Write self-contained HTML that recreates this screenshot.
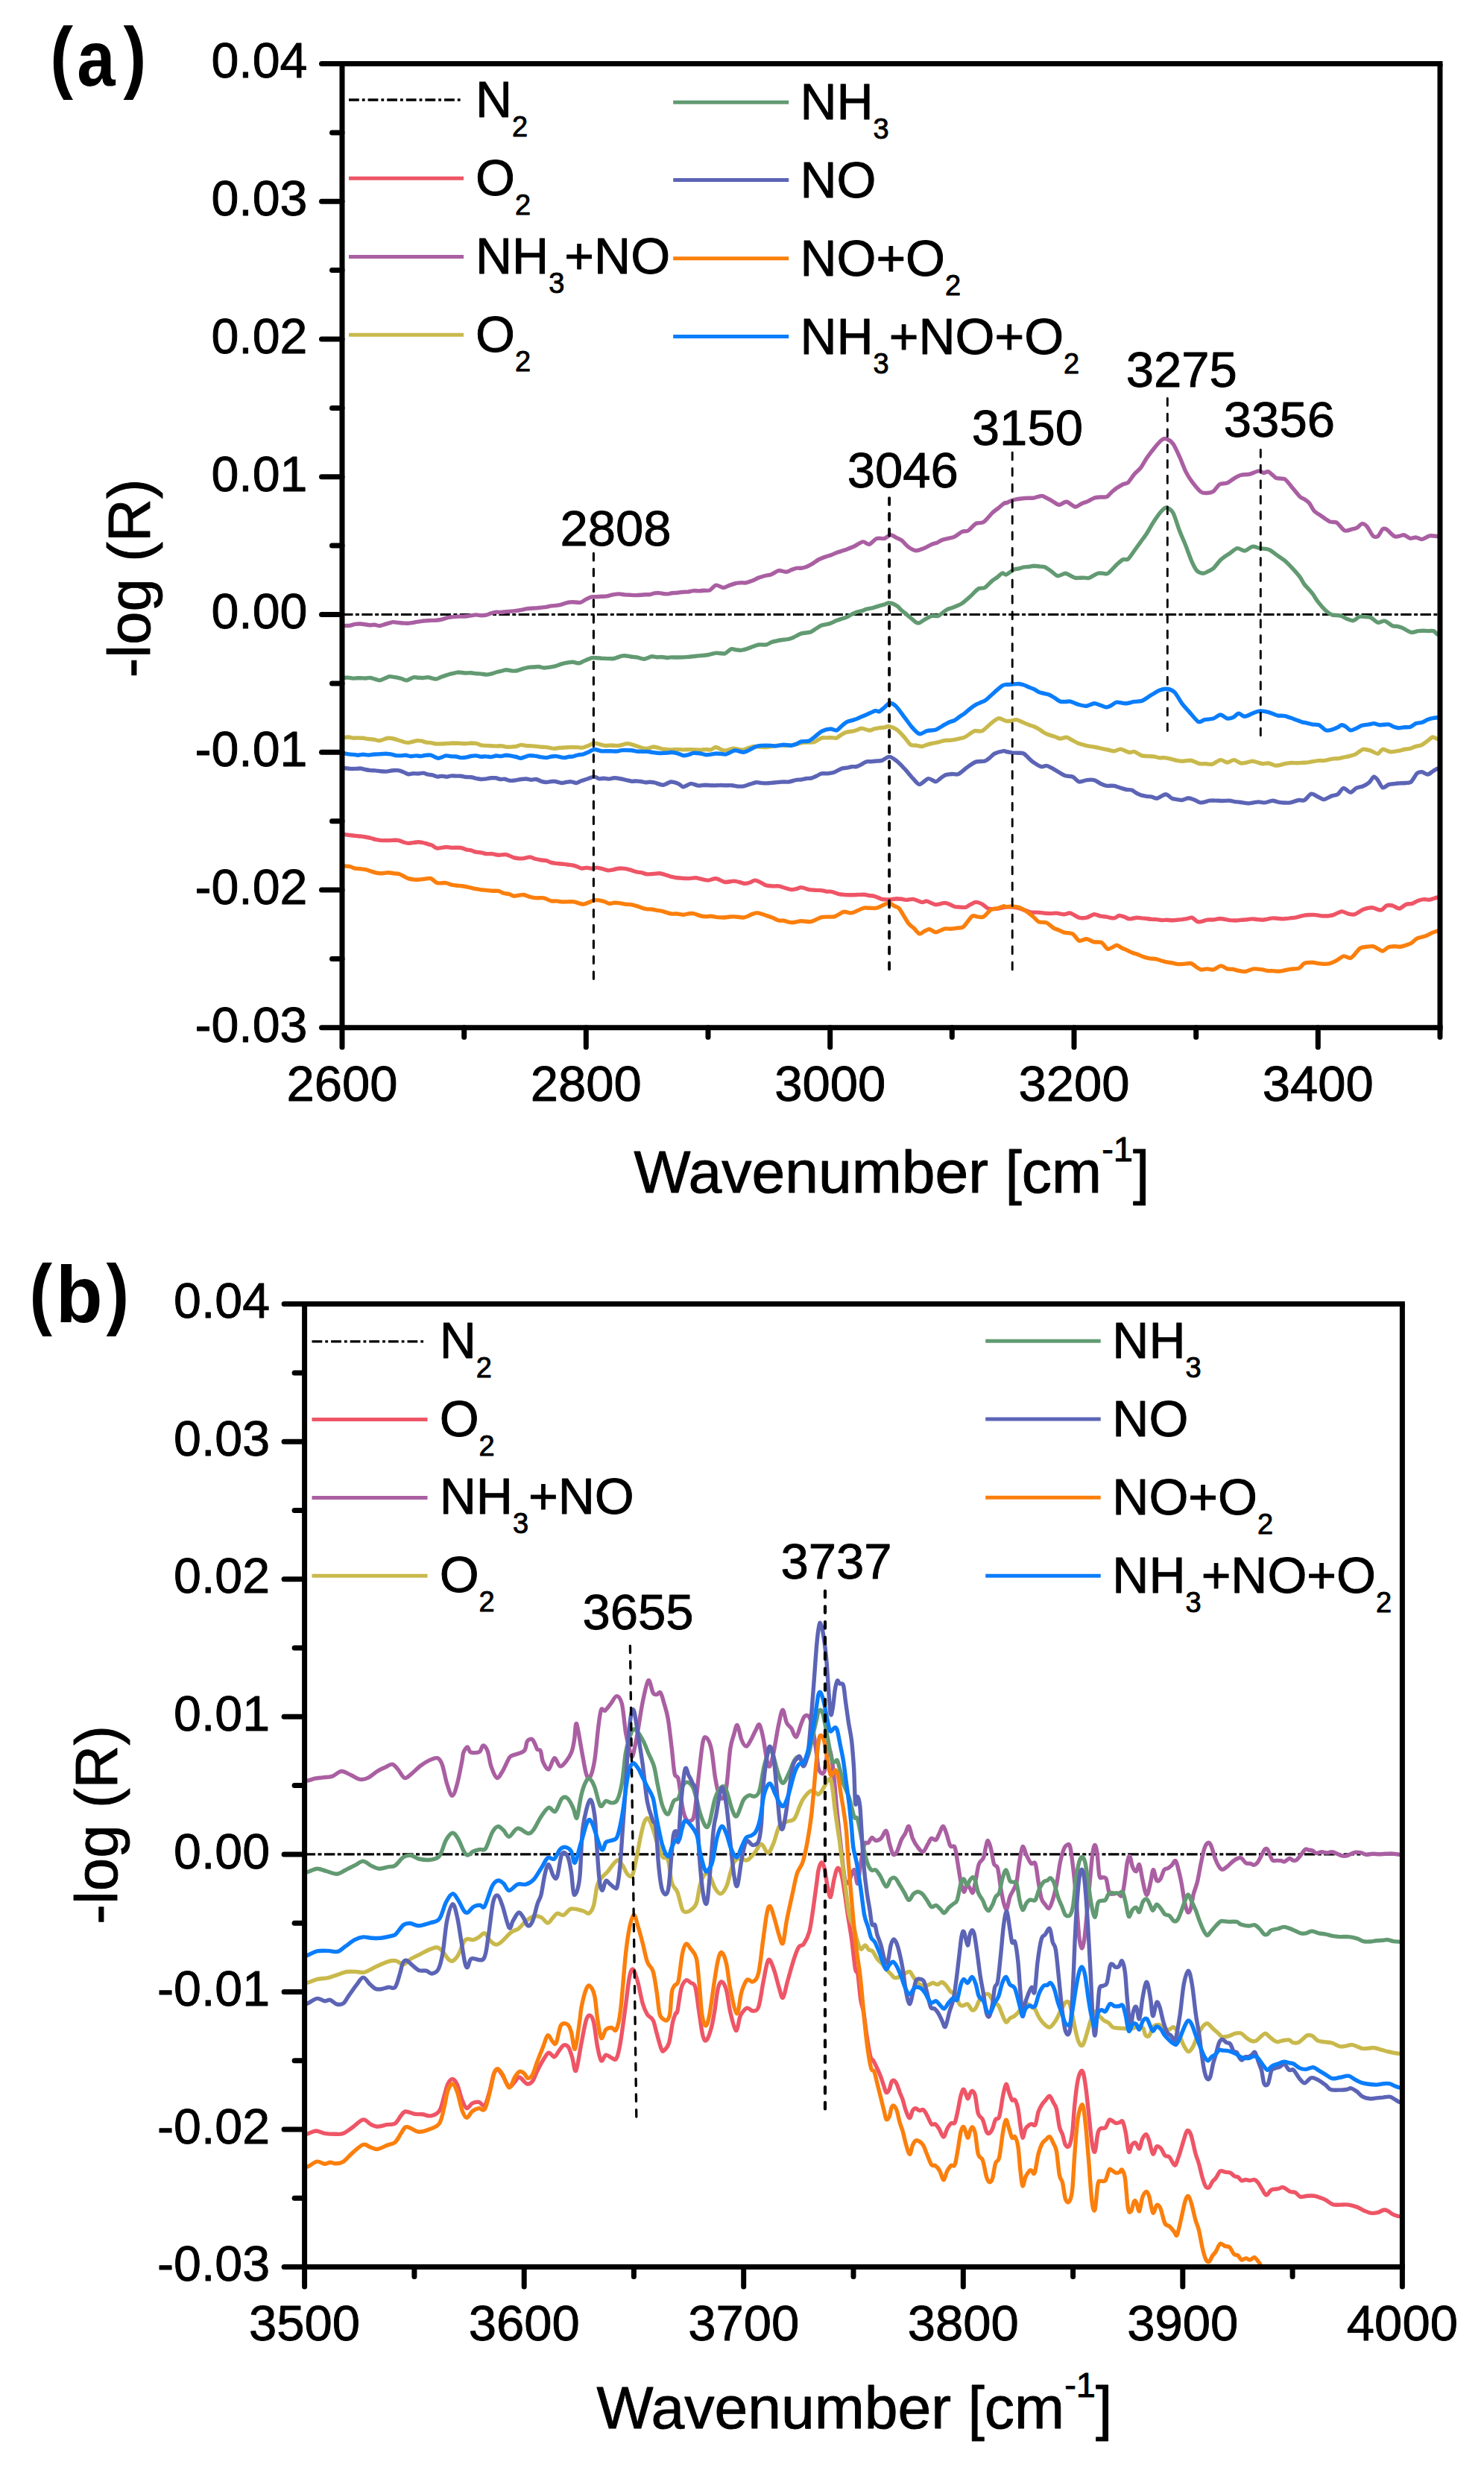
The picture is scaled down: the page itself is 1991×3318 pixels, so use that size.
<!DOCTYPE html>
<html lang="en"><head><meta charset="utf-8"><title>DRIFTS spectra</title>
<style>html,body{margin:0;padding:0;background:#fff}svg{display:block}</style>
</head><body>
<svg width="1991" height="3318" viewBox="0 0 1991 3318" font-family="'Liberation Sans', sans-serif" fill="#000">
<style>text{stroke:#000;stroke-width:0.9px;stroke-linejoin:round}</style>
<rect width="1991" height="3318" fill="#fff"/>
<clipPath id="clipa"><rect x="459" y="85.5" width="1473" height="1293.3"/></clipPath>
<g clip-path="url(#clipa)" fill="none" stroke-linejoin="round" stroke-linecap="round">
<line x1="459" y1="824.5" x2="1932" y2="824.5" stroke="#000" stroke-width="3.2" stroke-dasharray="14.5 3.4 5 3.4" stroke-linecap="butt"/>
<path d="M455.0,1117.9 C456.0,1118.2 460.3,1119.4 462.2,1119.7 C464.1,1120.1 467.4,1120.3 469.3,1120.5 C471.3,1120.7 474.6,1121.2 476.5,1121.4 C478.4,1121.6 481.8,1121.8 483.7,1122.0 C485.5,1122.2 488.6,1122.7 490.4,1123.0 C492.2,1123.3 495.4,1123.9 497.2,1124.4 C499.0,1124.8 502.1,1126.0 503.9,1126.4 C505.7,1126.8 508.7,1127.2 510.6,1127.4 C512.6,1127.5 516.4,1127.6 518.5,1127.6 C520.6,1127.6 524.3,1127.5 526.4,1127.4 C528.5,1127.4 532.3,1127.0 534.2,1127.4 C536.2,1127.7 539.2,1129.4 541.0,1129.9 C542.8,1130.4 545.9,1131.3 547.7,1131.4 C549.5,1131.5 552.7,1130.8 554.4,1130.6 C556.2,1130.4 559.5,1129.7 561.2,1129.7 C562.9,1129.7 565.7,1130.3 567.4,1130.7 C569.0,1131.0 571.9,1131.9 573.5,1132.3 C575.2,1132.8 578.0,1133.3 579.7,1134.1 C581.4,1134.9 584.0,1137.8 586.5,1138.1 C588.9,1138.5 595.8,1136.6 598.2,1136.5 C600.7,1136.3 603.2,1137.2 605.0,1137.3 C606.8,1137.4 609.9,1137.3 611.7,1137.3 C613.5,1137.3 616.7,1137.1 618.5,1137.5 C620.3,1137.8 623.4,1139.3 625.2,1139.8 C627.0,1140.3 630.1,1140.5 631.9,1140.9 C633.7,1141.4 636.9,1142.8 638.7,1143.2 C640.5,1143.6 643.6,1143.4 645.4,1143.8 C647.2,1144.1 650.1,1145.3 652.2,1145.6 C654.2,1145.8 658.3,1145.4 660.6,1145.6 C662.8,1145.9 666.5,1147.1 669.0,1147.2 C671.5,1147.4 676.4,1146.1 679.1,1146.6 C681.8,1147.0 687.0,1149.9 689.2,1150.6 C691.5,1151.3 694.2,1151.6 696.0,1151.8 C697.8,1151.9 700.7,1151.9 702.7,1151.6 C704.7,1151.4 709.0,1149.8 711.1,1149.9 C713.3,1150.1 716.7,1152.0 718.7,1152.5 C720.7,1153.0 724.4,1153.7 726.3,1154.0 C728.2,1154.3 731.2,1154.2 733.0,1154.7 C734.8,1155.1 738.0,1156.9 739.8,1157.4 C741.6,1157.9 744.7,1158.1 746.5,1158.4 C748.3,1158.6 751.4,1158.8 753.2,1159.0 C755.0,1159.2 758.2,1159.7 760.0,1159.9 C761.8,1160.1 764.9,1160.4 766.7,1160.7 C768.5,1161.0 771.7,1161.8 773.5,1162.4 C775.2,1163.0 778.4,1164.9 780.2,1165.1 C782.0,1165.3 785.1,1164.1 786.9,1164.1 C788.7,1164.2 791.9,1165.2 793.7,1165.2 C795.5,1165.2 798.5,1164.0 800.4,1164.1 C802.3,1164.1 806.0,1165.2 808.0,1165.6 C810.0,1166.1 813.7,1167.6 815.6,1167.8 C817.4,1168.0 820.1,1167.4 821.7,1167.1 C823.4,1166.8 826.3,1165.7 827.9,1165.5 C829.6,1165.2 832.4,1165.0 834.1,1165.1 C835.8,1165.2 839.0,1165.6 840.8,1165.9 C842.6,1166.3 845.8,1167.3 847.6,1167.8 C849.4,1168.3 852.5,1169.5 854.3,1169.9 C856.1,1170.3 859.3,1170.5 861.1,1170.9 C862.8,1171.3 865.8,1172.6 867.8,1172.8 C869.8,1173.1 874.0,1172.6 876.2,1172.5 C878.5,1172.4 882.5,1171.7 884.6,1171.8 C886.8,1172.0 890.3,1173.0 892.3,1173.6 C894.4,1174.1 897.9,1175.5 900.0,1176.1 C902.1,1176.6 906.2,1177.4 908.4,1177.8 C910.7,1178.1 914.6,1178.3 916.8,1178.4 C919.1,1178.5 923.0,1178.7 925.3,1178.6 C927.5,1178.5 931.4,1177.6 933.7,1177.7 C935.9,1177.9 939.9,1179.3 942.1,1179.7 C944.4,1180.2 948.1,1181.2 950.5,1181.1 C953.0,1181.0 957.7,1178.4 960.6,1178.8 C963.6,1179.1 969.3,1183.0 972.4,1183.5 C975.6,1183.9 981.6,1182.1 984.2,1182.1 C986.8,1182.1 989.8,1183.0 991.8,1183.5 C993.8,1183.9 997.5,1185.4 999.4,1185.5 C1001.3,1185.6 1004.3,1184.6 1006.1,1184.0 C1007.9,1183.4 1011.0,1181.1 1012.9,1181.1 C1014.8,1181.1 1018.4,1183.1 1020.5,1184.0 C1022.5,1184.9 1025.9,1187.2 1028.0,1187.9 C1030.2,1188.5 1034.2,1188.8 1036.5,1188.9 C1038.7,1189.1 1042.6,1188.5 1044.9,1188.9 C1047.1,1189.2 1051.1,1190.8 1053.3,1191.4 C1055.5,1192.0 1059.7,1193.4 1061.7,1193.6 C1063.7,1193.7 1066.7,1193.0 1068.5,1192.6 C1070.3,1192.2 1073.0,1190.4 1075.2,1190.6 C1077.4,1190.7 1082.8,1193.1 1085.3,1193.6 C1087.8,1194.1 1091.5,1194.1 1093.7,1194.3 C1096.0,1194.4 1100.1,1194.3 1102.2,1194.6 C1104.2,1194.8 1107.1,1195.9 1108.9,1196.1 C1110.7,1196.4 1113.4,1195.8 1115.6,1196.3 C1117.9,1196.7 1123.3,1199.1 1125.7,1199.6 C1128.2,1200.2 1131.9,1200.3 1134.2,1200.5 C1136.4,1200.6 1140.3,1200.7 1142.6,1200.7 C1144.8,1200.7 1148.8,1200.5 1151.0,1200.4 C1153.3,1200.4 1157.4,1200.2 1159.4,1200.3 C1161.5,1200.5 1164.4,1201.2 1166.2,1201.5 C1168.0,1201.8 1170.7,1201.7 1172.9,1202.3 C1175.2,1203.0 1180.8,1205.8 1183.0,1206.4 C1185.3,1207.0 1188.0,1206.9 1189.8,1206.9 C1191.6,1207.0 1194.7,1206.8 1196.5,1206.7 C1198.3,1206.5 1201.4,1205.8 1203.2,1205.7 C1205.0,1205.7 1208.2,1206.1 1210.0,1206.3 C1211.8,1206.5 1214.7,1207.4 1216.7,1207.4 C1218.7,1207.4 1222.4,1206.0 1225.1,1206.4 C1227.8,1206.8 1234.5,1210.1 1236.9,1210.4 C1239.4,1210.8 1241.2,1208.6 1243.7,1209.1 C1246.1,1209.5 1252.3,1213.5 1255.5,1213.8 C1258.6,1214.1 1264.8,1211.5 1267.3,1211.4 C1269.7,1211.4 1272.2,1212.7 1274.0,1213.3 C1275.8,1214.0 1278.8,1216.0 1280.7,1216.5 C1282.6,1217.0 1286.3,1217.0 1288.3,1217.1 C1290.3,1217.2 1294.0,1217.7 1295.9,1217.2 C1297.8,1216.6 1300.8,1214.1 1302.6,1213.2 C1304.4,1212.3 1307.3,1210.4 1309.4,1210.4 C1311.4,1210.4 1315.5,1212.0 1317.8,1213.1 C1320.0,1214.3 1323.5,1218.4 1326.2,1219.2 C1328.9,1220.0 1334.8,1219.5 1338.0,1219.2 C1341.2,1218.9 1347.3,1217.0 1350.0,1216.7 C1352.7,1216.4 1356.2,1216.8 1358.4,1217.1 C1360.7,1217.3 1364.6,1217.8 1366.8,1218.4 C1369.1,1219.0 1373.0,1220.6 1375.3,1221.4 C1377.5,1222.1 1381.4,1223.8 1383.7,1224.1 C1385.9,1224.5 1389.9,1224.0 1392.1,1224.1 C1394.4,1224.2 1398.3,1224.9 1400.5,1225.1 C1402.8,1225.3 1406.7,1225.6 1409.0,1225.6 C1411.2,1225.6 1414.9,1225.0 1417.4,1225.1 C1419.9,1225.3 1425.0,1226.8 1427.5,1226.8 C1430.0,1226.8 1433.2,1224.6 1435.9,1225.1 C1438.6,1225.7 1444.8,1230.4 1447.7,1231.2 C1450.6,1232.0 1455.1,1231.8 1457.8,1231.2 C1460.5,1230.6 1465.5,1227.1 1467.9,1226.8 C1470.4,1226.5 1474.1,1228.7 1476.3,1229.1 C1478.6,1229.6 1482.3,1229.8 1484.8,1230.2 C1487.2,1230.6 1492.6,1232.1 1494.9,1231.9 C1497.1,1231.6 1499.8,1228.7 1501.6,1228.5 C1503.4,1228.3 1506.6,1229.5 1508.4,1230.1 C1510.2,1230.6 1512.8,1232.7 1515.1,1232.9 C1517.3,1233.0 1523.0,1231.3 1525.2,1231.2 C1527.4,1231.1 1530.1,1231.7 1531.9,1231.9 C1533.7,1232.0 1536.9,1232.3 1538.7,1232.5 C1540.5,1232.8 1543.6,1233.3 1545.4,1233.4 C1547.2,1233.6 1550.4,1233.4 1552.2,1233.6 C1554.0,1233.7 1557.1,1234.6 1558.9,1234.6 C1560.7,1234.7 1563.8,1234.2 1565.6,1234.2 C1567.4,1234.3 1570.6,1234.8 1572.4,1234.8 C1574.2,1234.8 1577.3,1234.4 1579.1,1234.2 C1580.9,1234.0 1584.1,1233.8 1585.8,1233.6 C1587.6,1233.3 1590.8,1232.9 1592.6,1232.6 C1594.4,1232.3 1597.3,1230.6 1599.3,1231.2 C1601.3,1231.8 1605.1,1236.5 1607.7,1236.9 C1610.4,1237.3 1616.8,1234.6 1619.5,1234.2 C1622.2,1233.8 1625.7,1234.2 1628.0,1234.0 C1630.2,1233.7 1634.4,1232.6 1636.4,1232.5 C1638.4,1232.5 1641.3,1233.0 1643.1,1233.3 C1644.9,1233.6 1647.8,1234.3 1649.9,1234.6 C1651.9,1234.8 1656.0,1235.1 1658.3,1235.0 C1660.5,1235.0 1664.7,1234.4 1666.7,1234.2 C1668.7,1234.1 1671.7,1233.9 1673.5,1233.7 C1675.2,1233.5 1678.4,1232.9 1680.2,1232.9 C1682.0,1232.9 1685.1,1233.5 1686.9,1233.6 C1688.7,1233.8 1691.9,1234.3 1693.7,1234.2 C1695.5,1234.2 1698.6,1233.5 1700.4,1233.2 C1702.2,1232.8 1705.3,1232.0 1707.1,1231.9 C1708.9,1231.7 1712.1,1232.0 1713.9,1232.2 C1715.7,1232.3 1718.6,1232.9 1720.6,1232.9 C1722.6,1232.9 1726.8,1232.3 1729.0,1232.1 C1731.3,1231.8 1735.5,1231.5 1737.5,1231.2 C1739.4,1230.9 1742.1,1230.0 1743.7,1229.6 C1745.4,1229.2 1748.3,1228.5 1750.0,1228.2 C1751.7,1227.9 1754.8,1227.6 1756.6,1227.5 C1758.3,1227.4 1761.4,1227.3 1763.1,1227.4 C1764.9,1227.5 1768.0,1228.1 1769.7,1228.3 C1771.5,1228.6 1774.5,1228.9 1776.3,1229.0 C1778.0,1229.0 1781.1,1228.9 1782.9,1228.7 C1784.6,1228.4 1787.1,1228.2 1789.4,1227.4 C1791.7,1226.6 1797.5,1223.2 1799.9,1222.9 C1802.4,1222.7 1805.5,1225.0 1807.8,1225.6 C1810.1,1226.1 1814.2,1227.6 1817.0,1226.9 C1819.8,1226.2 1825.7,1221.5 1828.8,1220.3 C1832.0,1219.1 1838.0,1217.7 1840.7,1217.7 C1843.3,1217.7 1846.8,1219.9 1848.6,1220.3 C1850.3,1220.7 1852.2,1221.5 1853.8,1220.8 C1855.4,1220.1 1858.5,1215.8 1860.4,1215.0 C1862.3,1214.3 1866.0,1214.5 1868.3,1215.0 C1870.5,1215.6 1875.0,1219.2 1877.5,1219.0 C1879.9,1218.7 1884.4,1214.1 1886.7,1213.2 C1888.9,1212.3 1892.4,1213.0 1894.5,1212.4 C1896.6,1211.8 1900.3,1209.2 1902.4,1208.5 C1904.5,1207.7 1908.2,1206.8 1910.3,1206.6 C1912.4,1206.5 1915.7,1207.5 1918.2,1207.2 C1920.7,1206.8 1926.3,1204.4 1928.7,1204.0 C1931.1,1203.6 1935.0,1204.0 1936.0,1204.0" stroke="#ee5566" stroke-width="5.4"/>
<path d="M455.0,840.4 C456.0,840.3 460.3,839.7 462.2,839.6 C464.1,839.4 467.4,839.6 469.3,839.3 C471.3,839.0 474.6,837.7 476.5,837.4 C478.4,837.1 481.9,836.9 483.7,837.0 C485.5,837.1 488.3,837.6 490.0,837.8 C491.7,838.1 494.6,838.7 496.3,838.8 C498.0,838.8 501.0,838.2 502.6,838.3 C504.3,838.4 507.3,839.7 509.0,839.7 C510.6,839.7 513.5,838.5 515.1,838.0 C516.8,837.6 519.7,836.7 521.3,836.2 C523.0,835.8 525.8,834.7 527.5,834.6 C529.2,834.5 532.4,835.2 534.2,835.4 C536.0,835.6 539.2,835.8 541.0,836.0 C542.8,836.1 545.7,836.4 547.7,836.3 C549.7,836.2 553.9,835.4 556.1,835.0 C558.4,834.7 562.5,833.9 564.6,833.6 C566.6,833.3 569.5,832.9 571.3,832.8 C573.1,832.6 576.2,832.5 578.0,832.4 C579.8,832.4 582.8,832.4 584.8,832.3 C586.7,832.1 590.5,831.6 592.6,831.1 C594.7,830.6 598.4,829.1 600.5,828.6 C602.6,828.2 606.3,827.8 608.4,827.6 C610.5,827.4 614.1,827.2 616.2,827.1 C618.3,827.0 622.0,827.2 624.1,827.0 C626.2,826.9 630.0,826.2 631.9,825.9 C633.9,825.6 636.9,824.9 638.7,824.9 C640.5,824.9 643.6,825.7 645.4,825.7 C647.2,825.8 650.4,825.6 652.2,825.2 C654.0,824.8 657.1,823.4 658.9,822.8 C660.7,822.3 663.8,821.3 665.6,821.2 C667.4,821.0 670.6,821.5 672.4,821.5 C674.2,821.4 677.3,820.8 679.1,820.6 C680.9,820.5 684.1,820.3 685.8,820.1 C687.6,820.0 690.8,819.7 692.6,819.4 C694.4,819.2 697.5,818.7 699.3,818.3 C701.1,818.0 704.3,817.1 706.1,816.8 C707.9,816.5 711.0,816.3 712.8,816.2 C714.6,816.1 717.7,816.0 719.5,815.9 C721.3,815.7 724.5,815.3 726.3,815.1 C728.1,814.9 731.2,814.7 733.0,814.4 C734.8,814.1 738.0,813.2 739.8,812.9 C741.6,812.6 744.7,812.6 746.5,812.4 C748.3,812.2 751.4,811.6 753.2,811.1 C755.0,810.7 758.2,809.3 760.0,808.8 C761.8,808.4 764.2,807.7 766.7,807.7 C769.2,807.6 775.9,808.8 778.5,808.4 C781.1,807.9 784.1,805.1 786.1,804.1 C788.1,803.1 791.8,801.4 793.7,800.9 C795.6,800.5 798.6,800.8 800.4,800.7 C802.2,800.6 805.3,800.4 807.1,800.3 C808.9,800.2 811.9,800.3 813.9,799.9 C815.9,799.6 820.1,798.3 822.3,797.9 C824.6,797.5 828.7,796.9 830.7,796.9 C832.8,796.9 836.0,797.7 837.9,797.9 C839.8,798.1 843.1,798.1 845.0,798.2 C847.0,798.3 850.3,798.6 852.2,798.6 C854.1,798.6 857.6,798.4 859.4,798.2 C861.2,798.1 864.0,797.8 865.7,797.7 C867.4,797.7 870.3,797.9 872.0,797.7 C873.7,797.4 876.6,796.2 878.3,795.9 C880.0,795.6 882.9,795.4 884.6,795.6 C886.4,795.7 889.6,796.7 891.4,796.8 C893.2,796.9 897.0,796.7 898.1,796.6 C899.3,796.5 898.6,796.1 900.0,796.0 C901.4,795.8 906.2,795.5 908.4,795.3 C910.7,795.0 914.8,794.4 916.8,794.3 C918.9,794.1 921.8,794.2 923.6,794.0 C925.4,793.7 928.5,792.7 930.3,792.6 C932.2,792.4 935.7,792.9 937.6,792.9 C939.6,792.8 943.0,792.5 944.9,792.3 C946.9,792.2 950.1,792.9 952.2,791.9 C954.3,791.0 958.2,785.6 960.6,785.2 C963.1,784.7 968.3,788.6 970.8,788.5 C973.2,788.5 976.9,785.9 979.2,785.1 C981.4,784.3 985.6,782.9 987.6,782.5 C989.6,782.0 992.5,781.9 994.3,781.8 C996.1,781.7 999.1,782.2 1001.1,781.8 C1003.1,781.4 1007.3,780.0 1009.5,779.1 C1011.7,778.2 1015.7,775.9 1017.9,775.1 C1020.2,774.2 1024.1,773.1 1026.3,772.5 C1028.6,771.9 1032.3,771.6 1034.8,770.7 C1037.2,769.8 1042.2,766.1 1044.9,765.6 C1047.6,765.2 1052.7,767.5 1055.0,767.3 C1057.2,767.2 1059.9,765.3 1061.7,764.6 C1063.5,763.9 1066.7,762.6 1068.5,762.3 C1070.3,761.9 1073.4,762.4 1075.2,762.2 C1077.0,762.0 1079.9,761.4 1081.9,760.6 C1084.0,759.8 1088.1,757.4 1090.4,756.1 C1092.6,754.7 1096.5,751.7 1098.8,750.5 C1101.0,749.3 1105.0,747.9 1107.2,747.1 C1109.5,746.3 1113.6,745.2 1115.6,744.4 C1117.7,743.7 1120.6,742.1 1122.4,741.5 C1124.2,740.8 1127.1,740.0 1129.1,739.4 C1131.1,738.7 1135.3,737.3 1137.5,736.4 C1139.8,735.6 1143.3,734.2 1146.0,733.0 C1148.7,731.7 1155.1,727.2 1157.7,726.9 C1160.4,726.5 1163.7,730.8 1166.2,730.3 C1168.6,729.7 1173.6,723.5 1176.3,722.5 C1179.0,721.5 1183.9,723.1 1186.4,722.5 C1188.9,721.9 1192.7,718.0 1194.8,717.8 C1196.9,717.6 1200.4,720.3 1202.4,721.3 C1204.4,722.3 1207.8,723.6 1210.0,725.2 C1212.1,726.8 1215.9,731.8 1218.4,733.6 C1220.9,735.4 1225.8,738.4 1228.5,738.7 C1231.2,739.0 1235.7,737.1 1238.6,736.0 C1241.5,734.9 1247.9,731.3 1250.4,730.3 C1252.9,729.2 1255.3,728.9 1257.1,728.2 C1258.9,727.4 1261.9,725.3 1263.9,724.5 C1265.9,723.8 1270.1,723.0 1272.3,722.4 C1274.6,721.8 1278.3,721.3 1280.7,720.1 C1283.2,718.9 1288.4,714.5 1290.8,713.4 C1293.3,712.3 1296.8,713.2 1299.3,711.7 C1301.7,710.2 1306.7,703.8 1309.4,702.3 C1312.1,700.8 1316.6,702.5 1319.5,700.6 C1322.4,698.7 1328.6,690.7 1331.3,688.1 C1334.0,685.6 1337.4,683.3 1339.7,681.5 C1341.9,679.7 1346.7,675.5 1348.1,674.7 C1349.5,673.8 1348.8,675.4 1350.0,675.0 C1351.2,674.6 1354.9,672.5 1356.7,671.8 C1358.5,671.1 1361.5,670.3 1363.5,669.9 C1365.5,669.5 1369.7,669.0 1371.9,668.7 C1374.1,668.5 1378.4,668.3 1380.3,668.2 C1382.3,668.2 1384.9,668.4 1386.5,668.1 C1388.1,667.9 1391.0,666.7 1392.7,666.4 C1394.3,666.0 1396.5,664.9 1398.9,665.6 C1401.3,666.3 1407.7,670.0 1410.6,671.6 C1413.6,673.2 1418.1,677.1 1420.8,677.3 C1423.5,677.6 1427.9,672.9 1430.9,673.3 C1433.8,673.7 1440.0,679.7 1442.7,680.0 C1445.4,680.4 1448.8,676.7 1451.1,675.7 C1453.3,674.7 1457.3,673.6 1459.5,672.6 C1461.7,671.6 1465.7,669.0 1467.9,668.2 C1470.2,667.5 1474.1,667.2 1476.3,667.0 C1478.6,666.8 1482.7,667.5 1484.8,666.6 C1486.8,665.7 1489.7,661.8 1491.5,660.2 C1493.3,658.7 1496.2,656.2 1498.2,654.8 C1500.3,653.4 1504.6,650.7 1506.7,649.7 C1508.7,648.7 1511.4,649.2 1513.4,647.4 C1515.4,645.6 1519.6,638.8 1521.8,636.2 C1524.1,633.6 1528.0,630.7 1530.3,627.8 C1532.5,624.9 1536.2,617.9 1538.7,614.3 C1541.2,610.7 1546.1,604.1 1548.8,600.9 C1551.5,597.6 1556.6,591.7 1558.9,590.1 C1561.1,588.5 1563.6,588.3 1565.6,589.1 C1567.7,589.8 1571.8,592.7 1574.1,595.8 C1576.3,599.0 1580.2,607.7 1582.5,612.7 C1584.7,617.6 1588.7,628.4 1590.9,632.9 C1593.1,637.4 1596.6,642.8 1599.3,646.3 C1602.0,649.9 1608.4,657.8 1611.1,659.8 C1613.8,661.8 1617.3,661.6 1619.5,661.5 C1621.8,661.4 1625.7,660.7 1628.0,659.2 C1630.2,657.6 1633.9,651.2 1636.4,649.7 C1638.9,648.2 1643.8,649.2 1646.5,648.0 C1649.2,646.9 1654.1,642.7 1656.6,641.3 C1659.1,639.9 1662.3,637.9 1665.0,637.3 C1667.7,636.6 1673.7,637.0 1676.8,636.2 C1680.0,635.5 1686.1,632.1 1688.6,631.9 C1691.1,631.6 1693.6,634.4 1695.4,634.6 C1697.1,634.7 1699.8,632.0 1702.1,632.9 C1704.3,633.8 1709.3,639.9 1712.2,641.3 C1715.1,642.6 1721.1,641.2 1724.0,643.0 C1726.9,644.8 1731.4,651.6 1734.1,654.8 C1736.8,657.9 1742.1,664.6 1744.2,666.6 C1746.3,668.6 1748.4,668.6 1750.0,669.7 C1751.6,670.8 1754.8,672.9 1756.6,675.0 C1758.3,677.1 1761.0,683.2 1763.1,685.5 C1765.2,687.8 1769.5,690.1 1772.3,692.0 C1775.1,694.0 1781.4,698.7 1784.2,699.9 C1787.0,701.2 1790.7,699.7 1793.4,701.2 C1796.0,702.8 1801.1,710.6 1803.9,711.8 C1806.7,712.9 1812.1,710.4 1814.4,709.9 C1816.7,709.4 1819.2,708.8 1821.0,707.8 C1822.7,706.8 1825.8,702.7 1827.5,702.6 C1829.3,702.4 1832.2,704.3 1834.1,706.5 C1836.0,708.7 1840.1,717.1 1842.0,718.9 C1843.9,720.6 1846.8,720.8 1848.6,719.6 C1850.3,718.5 1853.5,711.1 1855.1,709.9 C1856.7,708.7 1858.3,709.2 1860.4,710.4 C1862.5,711.7 1868.4,718.5 1870.9,719.6 C1873.3,720.8 1877.0,719.1 1878.8,718.9 C1880.5,718.6 1882.3,717.3 1884.0,717.8 C1885.8,718.3 1889.8,721.9 1891.9,722.3 C1894.0,722.7 1897.7,720.8 1899.8,721.0 C1901.9,721.1 1905.2,723.9 1907.7,723.6 C1910.1,723.3 1915.4,719.4 1918.2,718.9 C1921.0,718.3 1926.3,719.5 1928.7,719.6 C1931.1,719.8 1935.0,719.6 1936.0,719.6" stroke="#aa5fa2" stroke-width="5.4"/>
<path d="M455.0,988.6 C455.9,988.7 459.7,989.4 461.4,989.4 C463.1,989.5 466.1,988.9 467.8,989.0 C469.5,989.1 472.5,990.1 474.2,990.2 C475.9,990.3 478.9,989.9 480.6,990.0 C482.4,990.0 485.2,990.1 487.1,990.3 C488.9,990.5 492.4,991.3 494.4,991.5 C496.3,991.7 499.7,991.8 501.7,992.1 C503.6,992.4 506.4,993.9 509.0,993.7 C511.5,993.4 518.3,990.6 520.8,990.3 C523.2,989.9 525.7,990.7 527.5,991.0 C529.3,991.4 532.4,992.4 534.2,993.0 C536.0,993.6 539.2,994.8 541.0,995.2 C542.8,995.7 545.2,996.6 547.7,996.4 C550.2,996.2 557.1,993.9 559.5,993.7 C561.9,993.4 564.1,993.9 565.8,994.2 C567.5,994.6 570.5,995.8 572.1,996.1 C573.8,996.4 576.8,996.3 578.5,996.6 C580.1,996.9 582.9,997.9 584.8,998.0 C586.7,998.2 590.5,998.0 592.6,998.0 C594.7,997.9 598.4,997.6 600.5,997.5 C602.6,997.4 606.3,997.1 608.4,997.0 C610.5,997.0 614.1,997.1 616.2,997.2 C618.3,997.3 622.0,997.8 624.1,997.8 C626.2,997.8 630.0,997.1 631.9,997.0 C633.9,997.0 636.9,997.1 638.7,997.4 C640.5,997.8 643.6,999.4 645.4,999.8 C647.2,1000.2 650.4,1000.3 652.2,1000.4 C654.0,1000.5 657.1,1000.6 658.9,1000.7 C660.7,1000.8 663.8,1001.0 665.6,1001.1 C667.4,1001.1 670.6,1000.6 672.4,1000.8 C674.2,1000.9 677.3,1001.9 679.1,1002.1 C680.9,1002.3 684.1,1002.2 685.8,1002.1 C687.6,1002.0 690.8,1001.8 692.6,1001.5 C694.4,1001.1 697.5,999.5 699.3,999.4 C701.1,999.3 704.3,1000.3 706.1,1000.5 C707.9,1000.7 711.0,1000.8 712.8,1000.9 C714.6,1001.0 717.6,1001.2 719.5,1001.4 C721.5,1001.6 725.3,1002.0 727.4,1002.2 C729.5,1002.4 733.2,1002.5 735.3,1002.8 C737.4,1003.1 741.0,1004.4 743.1,1004.4 C745.2,1004.5 748.9,1003.5 751.0,1003.3 C753.1,1003.1 756.8,1003.0 758.8,1002.9 C760.9,1002.7 764.7,1002.5 766.7,1002.4 C768.8,1002.4 772.3,1002.5 774.3,1002.6 C776.3,1002.7 779.9,1003.4 781.9,1003.1 C783.9,1002.8 787.4,1001.2 789.5,1000.4 C791.5,999.6 795.0,997.3 797.0,997.0 C799.1,996.8 802.6,998.2 804.6,998.6 C806.6,999.1 810.4,1000.2 812.2,1000.4 C814.0,1000.6 816.7,1000.0 818.4,1000.0 C820.0,999.9 822.9,1000.2 824.6,1000.3 C826.2,1000.4 828.6,1000.7 830.7,1000.4 C832.9,1000.1 838.6,997.9 840.8,997.7 C843.1,997.5 845.8,998.4 847.6,998.9 C849.4,999.3 851.8,1000.3 854.3,1001.1 C856.8,1001.8 863.2,1004.3 866.1,1004.4 C869.0,1004.6 874.0,1002.3 876.2,1002.1 C878.4,1001.9 880.7,1002.6 882.4,1003.0 C884.0,1003.3 886.9,1004.5 888.6,1004.9 C890.2,1005.2 893.2,1005.3 894.7,1005.5 C896.3,1005.6 898.2,1005.9 900.0,1005.9 C901.8,1005.9 906.2,1005.4 908.4,1005.4 C910.7,1005.4 914.6,1005.9 916.8,1005.9 C919.1,1005.9 923.0,1005.6 925.3,1005.6 C927.5,1005.6 931.7,1005.9 933.7,1005.9 C935.7,1006.0 938.6,1006.2 940.4,1006.1 C942.2,1006.1 945.4,1005.5 947.2,1005.5 C949.0,1005.5 952.1,1006.3 953.9,1005.9 C955.7,1005.5 958.4,1002.4 960.6,1002.5 C962.9,1002.7 968.5,1006.5 970.8,1006.9 C973.0,1007.4 975.7,1006.3 977.5,1005.9 C979.3,1005.6 982.4,1004.3 984.2,1004.2 C986.0,1004.2 989.2,1005.2 991.0,1005.5 C992.8,1005.7 995.9,1006.2 997.7,1005.9 C999.5,1005.6 1002.7,1004.0 1004.4,1003.4 C1006.2,1002.9 1009.2,1001.7 1011.2,1001.5 C1013.2,1001.4 1017.4,1001.9 1019.6,1002.1 C1021.9,1002.2 1025.8,1002.6 1028.0,1002.5 C1030.3,1002.4 1034.2,1001.7 1036.5,1001.3 C1038.7,1001.0 1042.6,1000.0 1044.9,999.9 C1047.1,999.7 1051.1,1000.3 1053.3,1000.3 C1055.5,1000.3 1059.7,1000.1 1061.7,999.9 C1063.7,999.6 1066.7,998.9 1068.5,998.5 C1070.3,998.1 1073.2,997.1 1075.2,996.8 C1077.2,996.5 1081.4,996.2 1083.6,996.0 C1085.9,995.9 1089.6,996.6 1092.0,995.8 C1094.5,995.0 1099.9,990.9 1102.2,990.1 C1104.4,989.3 1107.1,990.0 1108.9,989.9 C1110.7,989.9 1113.8,989.7 1115.6,989.7 C1117.4,989.7 1120.6,990.6 1122.4,990.1 C1124.2,989.5 1127.3,986.6 1129.1,985.6 C1130.9,984.6 1133.6,983.0 1135.8,982.3 C1138.1,981.7 1143.3,981.3 1146.0,980.6 C1148.7,980.0 1153.4,977.4 1156.1,977.3 C1158.8,977.2 1163.9,979.9 1166.2,980.0 C1168.4,980.1 1171.1,978.4 1172.9,977.9 C1174.7,977.5 1177.9,976.9 1179.6,976.6 C1181.4,976.3 1184.6,976.2 1186.4,976.0 C1188.2,975.7 1190.9,974.2 1193.1,974.6 C1195.4,975.0 1200.5,977.0 1203.2,979.0 C1205.9,980.9 1210.9,986.4 1213.3,989.1 C1215.8,991.8 1219.6,997.7 1221.8,999.2 C1223.9,1000.7 1227.3,999.8 1229.3,1000.1 C1231.4,1000.5 1235.0,1001.7 1236.9,1001.5 C1238.8,1001.4 1241.9,999.7 1243.7,999.2 C1245.5,998.6 1248.4,997.9 1250.4,997.5 C1252.4,997.0 1256.6,996.3 1258.8,995.8 C1261.1,995.3 1265.2,993.8 1267.3,993.5 C1269.3,993.1 1272.2,993.3 1274.0,993.2 C1275.8,993.1 1278.9,992.8 1280.7,992.4 C1282.5,992.1 1285.7,991.2 1287.5,990.8 C1289.3,990.3 1292.4,989.9 1294.2,989.1 C1296.0,988.3 1299.1,985.9 1300.9,984.8 C1302.7,983.6 1305.4,981.2 1307.7,980.6 C1309.9,980.1 1314.9,982.0 1317.8,980.6 C1320.7,979.3 1326.7,972.8 1329.6,970.5 C1332.5,968.3 1337.0,964.2 1339.7,963.8 C1342.4,963.4 1347.7,967.0 1350.0,967.4 C1352.3,967.8 1354.9,967.3 1356.7,967.1 C1358.5,966.8 1361.5,965.4 1363.5,965.7 C1365.5,966.0 1369.7,968.1 1371.9,969.0 C1374.1,969.9 1378.3,971.7 1380.3,972.4 C1382.3,973.2 1385.3,974.1 1387.1,974.8 C1388.9,975.6 1392.0,977.1 1393.8,978.2 C1395.6,979.2 1398.7,981.8 1400.5,982.8 C1402.3,983.9 1405.4,985.2 1407.3,985.9 C1409.2,986.6 1412.8,987.6 1414.9,988.3 C1416.9,989.0 1420.3,990.8 1422.4,991.0 C1424.6,991.1 1428.7,989.0 1430.9,989.3 C1433.0,989.6 1436.4,992.0 1438.4,993.0 C1440.5,994.0 1444.0,996.2 1446.0,997.0 C1448.0,997.9 1451.6,998.8 1453.6,999.3 C1455.6,999.9 1459.1,1000.7 1461.2,1001.1 C1463.3,1001.5 1467.4,1002.0 1469.6,1002.5 C1471.9,1002.9 1475.8,1004.0 1478.0,1004.4 C1480.3,1004.9 1484.2,1005.6 1486.5,1006.0 C1488.7,1006.5 1492.6,1007.9 1494.9,1007.8 C1497.1,1007.7 1500.6,1004.9 1503.3,1005.1 C1506.0,1005.3 1512.6,1009.1 1515.1,1009.5 C1517.6,1010.0 1519.6,1007.9 1521.8,1008.5 C1524.1,1009.1 1529.5,1013.1 1531.9,1013.9 C1534.4,1014.7 1538.1,1014.5 1540.4,1014.6 C1542.6,1014.8 1546.8,1014.9 1548.8,1015.2 C1550.8,1015.5 1553.7,1016.6 1555.5,1016.8 C1557.3,1017.0 1560.5,1016.4 1562.3,1016.6 C1564.1,1016.7 1567.0,1017.5 1569.0,1017.9 C1571.0,1018.4 1575.2,1019.5 1577.4,1020.0 C1579.7,1020.4 1583.2,1021.3 1585.8,1021.3 C1588.5,1021.3 1594.5,1019.8 1597.6,1020.3 C1600.8,1020.7 1606.7,1024.1 1609.4,1024.7 C1612.1,1025.3 1615.6,1024.6 1617.9,1024.7 C1620.1,1024.8 1623.7,1026.0 1626.3,1025.3 C1628.9,1024.7 1634.7,1019.9 1637.4,1019.6 C1640.1,1019.3 1644.1,1023.0 1646.5,1023.0 C1648.9,1023.0 1653.1,1019.5 1655.6,1019.6 C1658.1,1019.7 1662.8,1023.5 1665.0,1024.0 C1667.3,1024.4 1670.6,1023.4 1672.6,1023.0 C1674.6,1022.7 1678.3,1021.3 1680.2,1021.3 C1682.1,1021.3 1685.1,1022.4 1686.9,1022.8 C1688.7,1023.3 1691.6,1024.5 1693.7,1024.7 C1695.7,1024.8 1699.8,1023.7 1702.1,1024.0 C1704.3,1024.3 1708.5,1026.7 1710.5,1027.0 C1712.5,1027.4 1715.5,1026.8 1717.3,1026.5 C1719.0,1026.2 1722.0,1025.1 1724.0,1024.7 C1726.0,1024.3 1730.2,1023.6 1732.4,1023.5 C1734.7,1023.4 1738.5,1023.7 1740.8,1023.7 C1743.2,1023.6 1747.9,1023.3 1750.0,1023.2 C1752.1,1023.1 1754.8,1022.8 1756.6,1022.6 C1758.3,1022.3 1761.4,1021.6 1763.1,1021.4 C1764.9,1021.1 1768.0,1020.6 1769.7,1020.4 C1771.5,1020.3 1774.5,1020.7 1776.3,1020.6 C1778.0,1020.4 1781.1,1019.4 1782.9,1019.1 C1784.6,1018.7 1787.7,1018.1 1789.4,1017.9 C1791.2,1017.7 1794.2,1017.9 1796.0,1017.7 C1797.7,1017.4 1800.6,1016.5 1802.6,1016.1 C1804.5,1015.7 1808.3,1015.0 1810.4,1014.5 C1812.5,1014.0 1815.9,1013.4 1818.3,1012.2 C1820.8,1010.9 1826.0,1006.0 1828.8,1005.3 C1831.6,1004.7 1836.7,1006.6 1839.4,1007.4 C1842.0,1008.2 1846.5,1011.6 1848.6,1011.4 C1850.7,1011.1 1852.8,1005.7 1855.1,1005.3 C1857.4,1005.0 1862.8,1008.5 1865.6,1008.7 C1868.4,1009.0 1873.7,1007.9 1876.1,1007.4 C1878.6,1007.0 1881.9,1005.9 1884.0,1005.5 C1886.1,1005.1 1889.8,1004.8 1891.9,1004.3 C1894.0,1003.7 1897.7,1002.0 1899.8,1001.4 C1901.9,1000.8 1905.6,1000.6 1907.7,999.5 C1909.8,998.5 1913.6,995.2 1915.6,993.8 C1917.5,992.4 1920.4,989.3 1922.1,989.0 C1923.9,988.7 1926.9,991.3 1928.7,991.7 C1930.6,992.0 1935.0,991.7 1936.0,991.7" stroke="#c9b94c" stroke-width="5.4"/>
<path d="M455.0,910.1 C455.8,910.0 459.4,909.6 461.0,909.5 C462.6,909.3 465.4,909.0 467.0,909.1 C468.7,909.2 471.5,910.0 473.1,910.1 C474.7,910.2 477.5,909.9 479.1,909.8 C480.7,909.8 483.5,909.7 485.1,909.8 C486.7,909.8 489.5,910.1 491.1,910.0 C492.8,910.0 494.8,909.1 497.2,909.4 C499.5,909.8 506.5,912.7 509.0,912.8 C511.4,912.9 513.9,911.1 515.7,910.4 C517.5,909.7 520.5,908.0 522.4,907.7 C524.4,907.5 528.2,908.4 530.3,908.7 C532.4,909.1 536.1,909.9 538.2,910.4 C540.3,910.9 543.9,913.0 546.0,912.8 C548.2,912.6 552.4,909.2 554.4,908.8 C556.5,908.3 559.4,909.1 561.2,909.2 C563.0,909.3 566.1,909.6 567.9,909.5 C569.7,909.4 572.4,908.5 574.7,908.8 C576.9,909.0 582.5,911.1 584.8,911.1 C587.0,911.1 589.7,909.3 591.5,908.6 C593.3,907.9 596.2,906.7 598.2,906.1 C600.3,905.4 604.4,904.3 606.7,903.7 C608.9,903.2 612.8,902.1 615.1,902.0 C617.3,901.9 621.3,902.9 623.5,903.0 C625.8,903.1 629.9,902.6 631.9,902.7 C634.0,902.8 636.9,903.5 638.7,903.7 C640.5,903.9 643.6,903.9 645.4,904.1 C647.2,904.3 650.4,905.0 652.2,905.1 C654.0,905.1 657.1,904.6 658.9,904.2 C660.7,903.8 663.8,902.5 665.6,902.0 C667.4,901.5 670.6,900.9 672.4,900.4 C674.2,900.0 677.3,898.7 679.1,898.7 C680.9,898.6 684.1,899.7 685.8,899.9 C687.6,900.1 690.6,900.3 692.6,900.0 C694.6,899.7 698.8,897.9 701.0,897.3 C703.3,896.7 707.4,895.6 709.4,895.3 C711.5,895.0 714.4,895.1 716.2,895.0 C718.0,894.9 721.1,894.4 722.9,894.5 C724.7,894.7 727.9,895.9 729.6,896.0 C731.4,896.1 734.4,895.6 736.4,895.3 C738.4,895.0 742.6,894.5 744.8,893.9 C747.1,893.3 751.1,891.5 753.2,890.9 C755.4,890.3 758.8,889.5 760.8,889.1 C762.8,888.8 766.3,888.1 768.4,888.2 C770.5,888.3 774.9,890.0 776.8,889.9 C778.8,889.7 781.3,887.8 783.0,887.1 C784.6,886.4 787.5,885.0 789.2,884.4 C790.8,883.8 793.0,882.6 795.4,882.5 C797.7,882.3 804.4,883.0 807.1,883.2 C809.8,883.3 813.3,883.6 815.6,883.6 C817.8,883.7 821.5,884.0 824.0,883.5 C826.5,883.0 831.9,880.6 834.1,880.1 C836.3,879.7 839.0,879.8 840.8,880.0 C842.6,880.1 845.8,881.0 847.6,881.2 C849.4,881.5 852.1,881.4 854.3,881.8 C856.6,882.2 861.7,884.3 864.4,884.2 C867.1,884.0 872.3,881.1 874.5,880.8 C876.8,880.5 879.5,881.6 881.3,881.7 C883.1,881.8 886.2,881.4 888.0,881.5 C889.8,881.7 893.1,882.4 894.7,882.5 C896.3,882.5 898.2,881.9 900.0,881.9 C901.8,881.8 906.2,882.0 908.4,882.0 C910.7,882.0 914.6,882.0 916.8,881.9 C919.1,881.8 923.0,881.4 925.3,881.2 C927.5,881.0 931.4,880.4 933.7,880.2 C935.9,880.0 939.9,879.7 942.1,879.5 C944.4,879.3 948.1,879.0 950.5,878.5 C953.0,878.1 957.7,876.4 960.6,876.1 C963.6,875.9 969.7,877.5 972.4,876.8 C975.1,876.1 978.8,871.4 980.9,870.8 C982.9,870.1 985.8,871.7 987.6,871.9 C989.4,872.1 992.5,872.6 994.3,872.4 C996.1,872.3 999.3,871.4 1001.1,870.9 C1002.9,870.3 1005.6,869.2 1007.8,868.4 C1010.1,867.6 1015.2,865.5 1017.9,865.0 C1020.6,864.6 1025.8,865.5 1028.0,865.0 C1030.3,864.6 1033.0,862.5 1034.8,861.8 C1036.6,861.1 1039.3,860.4 1041.5,860.0 C1043.8,859.5 1049.4,858.6 1051.6,858.3 C1053.9,857.9 1056.6,857.8 1058.4,857.4 C1060.2,856.9 1062.8,855.9 1065.1,854.9 C1067.3,853.9 1072.3,850.8 1075.2,849.9 C1078.1,849.0 1084.4,849.0 1087.0,848.2 C1089.6,847.3 1092.6,844.7 1094.6,843.5 C1096.6,842.3 1100.2,839.9 1102.2,839.1 C1104.1,838.3 1107.1,838.2 1108.9,837.7 C1110.7,837.3 1113.8,836.4 1115.6,835.7 C1117.4,835.0 1120.6,833.3 1122.4,832.6 C1124.2,831.9 1127.3,830.9 1129.1,830.3 C1130.9,829.7 1134.1,828.9 1135.8,828.1 C1137.6,827.3 1140.8,825.2 1142.6,824.3 C1144.4,823.4 1147.5,821.8 1149.3,821.2 C1151.1,820.6 1154.3,820.2 1156.1,819.7 C1157.9,819.1 1160.8,817.7 1162.8,817.2 C1164.8,816.6 1169.0,816.2 1171.2,815.6 C1173.5,815.0 1177.6,813.4 1179.6,812.8 C1181.7,812.2 1184.6,811.6 1186.4,811.1 C1188.2,810.6 1190.9,808.5 1193.1,808.8 C1195.4,809.0 1201.0,811.4 1203.2,812.8 C1205.5,814.2 1208.2,817.7 1210.0,819.2 C1211.8,820.8 1214.2,822.5 1216.7,824.6 C1219.2,826.7 1226.3,833.2 1228.5,834.7 C1230.8,836.2 1231.8,836.3 1233.6,835.7 C1235.4,835.1 1239.7,831.6 1242.0,830.3 C1244.2,829.1 1248.2,826.8 1250.4,826.3 C1252.7,825.7 1256.1,827.4 1258.8,826.3 C1261.5,825.2 1268.1,819.3 1270.6,817.9 C1273.1,816.4 1275.6,816.2 1277.4,815.5 C1279.2,814.8 1282.3,813.5 1284.1,812.7 C1285.9,811.9 1288.6,811.0 1290.8,809.4 C1293.1,807.9 1298.0,803.6 1300.9,801.0 C1303.9,798.4 1310.0,791.6 1312.7,789.9 C1315.4,788.2 1318.7,790.0 1321.2,788.5 C1323.6,787.1 1329.0,781.0 1331.3,779.1 C1333.5,777.2 1336.2,775.9 1338.0,774.5 C1339.8,773.2 1343.1,769.5 1344.7,769.0 C1346.3,768.5 1348.0,771.6 1350.0,771.0 C1352.0,770.4 1357.9,765.3 1360.1,764.3 C1362.4,763.2 1365.0,763.4 1366.8,762.9 C1368.6,762.5 1371.8,761.2 1373.6,760.9 C1375.4,760.6 1378.5,760.7 1380.3,760.4 C1382.1,760.2 1385.2,759.3 1387.1,759.2 C1389.0,759.2 1392.6,759.7 1394.6,760.0 C1396.7,760.2 1400.1,760.0 1402.2,760.9 C1404.4,761.8 1408.4,765.1 1410.6,766.6 C1412.9,768.2 1416.6,772.3 1419.1,772.7 C1421.5,773.1 1426.9,769.4 1429.2,769.3 C1431.4,769.3 1434.1,771.4 1435.9,772.2 C1437.7,773.0 1440.9,775.0 1442.7,775.4 C1444.4,775.8 1447.2,775.3 1448.8,775.3 C1450.5,775.3 1453.4,775.0 1455.0,775.1 C1456.7,775.1 1458.8,776.2 1461.2,775.4 C1463.6,774.6 1470.5,770.1 1473.0,769.3 C1475.4,768.5 1477.9,769.3 1479.7,769.3 C1481.5,769.3 1484.0,770.9 1486.5,769.3 C1488.9,767.8 1495.6,760.0 1498.2,757.5 C1500.9,755.1 1504.6,751.8 1506.7,750.8 C1508.7,749.8 1511.4,751.7 1513.4,750.1 C1515.4,748.5 1519.6,742.1 1521.8,739.0 C1524.1,735.9 1528.0,730.4 1530.3,727.2 C1532.5,724.1 1536.2,719.2 1538.7,715.4 C1541.2,711.6 1546.1,702.6 1548.8,698.6 C1551.5,694.5 1556.6,687.4 1558.9,685.1 C1561.1,682.8 1563.6,680.6 1565.6,681.1 C1567.7,681.5 1571.8,684.3 1574.1,688.5 C1576.3,692.6 1580.2,706.2 1582.5,712.0 C1584.7,717.9 1588.7,726.6 1590.9,732.3 C1593.1,737.9 1597.3,749.7 1599.3,754.2 C1601.3,758.7 1604.0,763.9 1606.1,766.0 C1608.1,768.0 1612.5,769.3 1614.5,769.3 C1616.5,769.4 1619.4,767.3 1621.2,766.4 C1623.0,765.5 1625.7,764.7 1628.0,762.6 C1630.2,760.5 1635.2,753.5 1638.1,750.8 C1641.0,748.1 1646.9,744.4 1649.9,742.4 C1652.8,740.4 1657.3,736.1 1660.0,735.6 C1662.7,735.2 1667.4,739.3 1670.1,739.0 C1672.8,738.7 1677.5,733.7 1680.2,733.3 C1682.9,732.8 1687.4,735.1 1690.3,735.6 C1693.2,736.2 1699.2,736.2 1702.1,737.3 C1705.0,738.4 1709.3,742.0 1712.2,744.1 C1715.1,746.1 1721.1,750.0 1724.0,752.5 C1726.9,755.0 1731.4,759.7 1734.1,762.6 C1736.8,765.5 1742.1,771.5 1744.2,774.4 C1746.3,777.2 1747.8,781.2 1750.0,784.0 C1752.2,786.9 1758.1,792.7 1760.5,795.9 C1763.0,799.0 1765.9,804.5 1768.4,807.7 C1770.8,810.8 1776.5,817.2 1778.9,819.5 C1781.4,821.8 1784.2,823.9 1786.8,824.8 C1789.4,825.6 1796.0,825.4 1798.6,826.1 C1801.2,826.8 1804.2,829.2 1806.5,830.0 C1808.8,830.9 1813.4,833.0 1815.7,832.7 C1818.0,832.3 1821.5,828.1 1823.6,827.4 C1825.7,826.7 1829.4,827.4 1831.5,827.5 C1833.6,827.7 1837.1,827.7 1839.4,828.7 C1841.6,829.7 1846.1,834.7 1848.6,835.3 C1851.0,835.9 1855.1,832.6 1857.8,833.2 C1860.4,833.8 1866.0,838.8 1868.3,839.8 C1870.5,840.7 1873.1,840.0 1874.8,840.3 C1876.6,840.7 1879.0,841.3 1881.4,842.4 C1883.9,843.5 1890.4,847.9 1893.2,848.4 C1896.0,849.0 1900.3,846.9 1902.4,846.6 C1904.5,846.3 1907.2,846.2 1909.0,846.2 C1910.8,846.2 1913.6,846.5 1915.6,846.6 C1917.5,846.6 1921.7,846.0 1923.5,846.6 C1925.2,847.2 1927.0,850.5 1928.7,851.1 C1930.4,851.6 1935.0,851.1 1936.0,851.1" stroke="#629a72" stroke-width="5.4"/>
<path d="M455.0,1030.3 C456.0,1030.3 460.3,1030.4 462.2,1030.5 C464.1,1030.6 467.4,1031.2 469.3,1031.4 C471.3,1031.5 474.6,1031.5 476.5,1031.4 C478.4,1031.4 481.8,1030.9 483.7,1031.0 C485.5,1031.1 488.6,1032.2 490.4,1032.5 C492.2,1032.9 495.4,1033.4 497.2,1033.6 C499.0,1033.8 502.1,1033.7 503.9,1033.9 C505.7,1034.0 508.7,1034.5 510.6,1034.7 C512.6,1034.9 516.4,1035.2 518.5,1035.1 C520.6,1035.0 524.3,1033.9 526.4,1033.7 C528.5,1033.5 532.3,1033.4 534.2,1033.7 C536.2,1034.0 539.2,1035.1 541.0,1035.7 C542.8,1036.4 545.9,1038.5 547.7,1038.7 C549.5,1039.0 552.7,1037.9 554.4,1037.8 C556.2,1037.7 559.4,1038.1 561.2,1038.0 C563.0,1037.9 566.2,1036.9 567.9,1037.1 C569.6,1037.2 572.5,1038.7 574.1,1039.0 C575.7,1039.4 578.6,1039.5 580.3,1039.9 C581.9,1040.3 584.8,1041.9 586.5,1042.1 C588.1,1042.3 591.1,1041.2 592.8,1041.2 C594.5,1041.2 597.4,1042.2 599.1,1042.2 C600.8,1042.1 603.7,1041.0 605.4,1040.9 C607.1,1040.7 610.0,1041.1 611.7,1041.1 C613.5,1041.2 616.7,1041.0 618.5,1041.2 C620.3,1041.4 623.4,1042.3 625.2,1042.5 C627.0,1042.7 630.1,1042.6 631.9,1042.8 C633.7,1043.0 636.9,1043.9 638.7,1044.3 C640.5,1044.6 643.6,1045.4 645.4,1045.5 C647.2,1045.6 650.4,1045.1 652.2,1044.9 C654.0,1044.6 657.2,1043.9 658.9,1043.8 C660.6,1043.7 663.3,1043.6 665.0,1043.8 C666.6,1044.0 669.4,1045.3 671.0,1045.5 C672.6,1045.7 675.5,1045.0 677.1,1045.2 C678.7,1045.4 681.5,1046.8 683.2,1047.1 C684.8,1047.4 687.1,1047.4 689.2,1047.2 C691.4,1047.0 697.1,1045.8 699.3,1045.5 C701.6,1045.2 704.3,1044.9 706.1,1045.0 C707.9,1045.1 711.0,1046.2 712.8,1046.3 C714.6,1046.3 717.7,1045.2 719.5,1045.5 C721.3,1045.8 724.5,1047.8 726.3,1048.3 C728.1,1048.8 730.8,1049.5 733.0,1049.5 C735.3,1049.5 740.4,1048.0 743.1,1048.2 C745.8,1048.3 751.0,1050.4 753.2,1050.5 C755.5,1050.7 758.2,1049.5 760.0,1049.3 C761.8,1049.0 764.9,1048.7 766.7,1048.9 C768.5,1049.0 771.7,1050.7 773.5,1050.5 C775.2,1050.4 778.4,1048.2 780.2,1047.5 C782.0,1046.8 784.7,1046.2 786.9,1045.5 C789.2,1044.8 794.8,1042.2 797.0,1042.1 C799.3,1042.0 802.0,1044.5 803.8,1044.8 C805.6,1045.1 808.7,1044.2 810.5,1044.2 C812.3,1044.3 815.5,1045.2 817.3,1045.1 C819.0,1045.1 822.2,1043.9 824.0,1043.8 C825.8,1043.7 828.7,1044.1 830.7,1044.5 C832.7,1044.8 836.9,1045.8 839.2,1046.3 C841.4,1046.8 845.6,1048.0 847.6,1048.2 C849.5,1048.4 852.0,1047.9 853.6,1047.9 C855.3,1048.0 858.1,1048.3 859.7,1048.5 C861.3,1048.8 864.2,1049.6 865.8,1049.7 C867.4,1049.8 870.2,1049.3 871.8,1049.3 C873.5,1049.3 875.5,1049.3 877.9,1049.9 C880.3,1050.4 886.7,1053.3 889.7,1053.2 C892.6,1053.1 897.3,1049.3 900.0,1049.0 C902.7,1048.8 907.9,1050.5 910.1,1051.4 C912.4,1052.3 914.6,1055.8 916.8,1055.8 C919.1,1055.8 924.3,1051.6 927.0,1051.4 C929.6,1051.2 934.6,1053.9 937.1,1054.1 C939.5,1054.3 943.2,1053.3 945.5,1053.2 C947.7,1053.2 951.9,1053.7 953.9,1053.8 C955.9,1053.8 958.8,1053.9 960.6,1053.8 C962.4,1053.8 965.6,1053.5 967.4,1053.5 C969.2,1053.5 972.2,1053.7 974.1,1053.8 C976.1,1053.8 979.9,1053.5 982.0,1053.7 C984.1,1053.9 987.8,1054.8 989.8,1055.0 C991.9,1055.1 995.5,1055.2 997.7,1054.8 C999.9,1054.4 1003.9,1052.8 1006.1,1052.1 C1008.4,1051.4 1012.5,1049.9 1014.6,1049.7 C1016.6,1049.5 1019.5,1050.4 1021.3,1050.6 C1023.1,1050.7 1026.2,1050.9 1028.0,1050.9 C1029.8,1050.9 1032.8,1050.6 1034.8,1050.4 C1036.7,1050.2 1040.5,1049.8 1042.6,1049.6 C1044.7,1049.4 1048.4,1049.0 1050.5,1048.9 C1052.6,1048.9 1056.0,1049.4 1058.4,1049.0 C1060.8,1048.7 1066.2,1046.8 1068.5,1046.3 C1070.7,1045.9 1073.4,1046.2 1075.2,1046.0 C1077.0,1045.8 1080.1,1044.8 1081.9,1044.5 C1083.7,1044.3 1086.9,1044.4 1088.7,1044.0 C1090.5,1043.5 1093.6,1042.0 1095.4,1041.2 C1097.2,1040.4 1100.1,1038.4 1102.2,1037.9 C1104.2,1037.5 1108.3,1038.0 1110.6,1037.8 C1112.8,1037.6 1116.5,1037.1 1119.0,1036.2 C1121.5,1035.4 1126.9,1032.0 1129.1,1031.2 C1131.4,1030.4 1134.1,1030.6 1135.8,1030.2 C1137.6,1029.9 1140.8,1028.9 1142.6,1028.7 C1144.4,1028.5 1147.5,1028.9 1149.3,1028.5 C1151.1,1028.1 1154.3,1026.3 1156.1,1025.4 C1157.9,1024.5 1161.0,1022.2 1162.8,1021.8 C1164.6,1021.3 1167.7,1021.9 1169.5,1021.8 C1171.3,1021.7 1174.5,1021.2 1176.3,1021.0 C1178.1,1020.9 1180.8,1021.2 1183.0,1020.4 C1185.3,1019.6 1190.4,1015.3 1193.1,1015.4 C1195.8,1015.4 1200.5,1019.0 1203.2,1021.1 C1205.9,1023.2 1210.4,1028.0 1213.3,1031.2 C1216.3,1034.3 1222.4,1041.8 1225.1,1044.7 C1227.8,1047.5 1230.9,1052.4 1233.6,1052.4 C1236.3,1052.4 1242.4,1045.2 1245.4,1044.7 C1248.3,1044.2 1253.2,1048.8 1255.5,1048.7 C1257.7,1048.6 1260.4,1045.1 1262.2,1043.9 C1264.0,1042.7 1266.9,1040.3 1268.9,1039.6 C1271.0,1038.9 1275.1,1038.6 1277.4,1038.4 C1279.6,1038.3 1283.1,1039.8 1285.8,1038.6 C1288.5,1037.4 1294.4,1031.7 1297.6,1029.5 C1300.7,1027.3 1306.2,1023.2 1309.4,1022.1 C1312.5,1021.0 1318.7,1021.8 1321.2,1021.1 C1323.6,1020.4 1326.1,1018.0 1327.9,1016.7 C1329.7,1015.3 1332.2,1012.2 1334.6,1011.0 C1337.1,1009.8 1344.4,1007.9 1346.4,1007.6 C1348.5,1007.3 1348.5,1008.2 1350.0,1008.5 C1351.5,1008.8 1355.8,1009.6 1357.9,1009.9 C1360.0,1010.1 1363.6,1010.1 1365.7,1010.2 C1367.8,1010.4 1371.2,1009.8 1373.6,1011.2 C1376.0,1012.6 1381.4,1018.7 1383.7,1020.6 C1385.9,1022.5 1388.6,1024.2 1390.4,1025.3 C1392.2,1026.4 1395.4,1028.4 1397.2,1028.7 C1399.0,1029.0 1402.1,1027.2 1403.9,1027.4 C1405.7,1027.6 1408.8,1029.3 1410.6,1030.2 C1412.4,1031.1 1414.9,1032.7 1417.4,1034.1 C1419.9,1035.5 1426.3,1039.8 1429.2,1040.8 C1432.1,1041.9 1436.8,1041.1 1439.3,1042.2 C1441.8,1043.3 1445.2,1048.3 1447.7,1048.9 C1450.2,1049.5 1455.1,1046.9 1457.8,1046.6 C1460.5,1046.2 1465.5,1045.9 1467.9,1046.6 C1470.4,1047.2 1474.1,1050.2 1476.3,1051.2 C1478.6,1052.3 1482.3,1053.9 1484.8,1054.3 C1487.2,1054.7 1492.2,1053.9 1494.9,1054.3 C1497.6,1054.8 1502.7,1057.0 1505.0,1057.7 C1507.2,1058.4 1509.9,1059.2 1511.7,1059.5 C1513.5,1059.8 1516.7,1059.4 1518.5,1060.0 C1520.3,1060.7 1523.4,1063.5 1525.2,1064.4 C1527.0,1065.4 1530.1,1066.6 1531.9,1067.2 C1533.7,1067.7 1536.9,1068.2 1538.7,1068.5 C1540.5,1068.7 1543.6,1068.8 1545.4,1069.2 C1547.2,1069.5 1549.7,1071.6 1552.2,1071.2 C1554.6,1070.7 1561.3,1065.8 1563.9,1065.8 C1566.6,1065.8 1570.4,1070.2 1572.4,1071.2 C1574.4,1072.1 1577.3,1072.3 1579.1,1072.6 C1580.9,1072.9 1583.8,1073.8 1585.8,1073.5 C1587.9,1073.3 1592.0,1070.9 1594.3,1070.8 C1596.5,1070.8 1600.4,1072.4 1602.7,1073.2 C1604.9,1074.0 1608.4,1076.8 1611.1,1076.9 C1613.8,1077.0 1620.2,1074.6 1622.9,1074.2 C1625.6,1073.8 1629.1,1074.0 1631.3,1074.1 C1633.6,1074.1 1637.3,1074.5 1639.8,1074.5 C1642.2,1074.5 1647.6,1074.0 1649.9,1074.2 C1652.1,1074.3 1654.8,1075.4 1656.6,1075.6 C1658.4,1075.9 1660.9,1075.9 1663.3,1076.2 C1665.8,1076.5 1672.7,1077.8 1675.1,1077.9 C1677.6,1078.0 1680.1,1077.1 1681.9,1076.8 C1683.7,1076.6 1686.6,1075.9 1688.6,1075.9 C1690.6,1075.9 1694.6,1077.1 1697.0,1076.9 C1699.5,1076.7 1704.9,1074.3 1707.1,1074.2 C1709.4,1074.0 1712.1,1075.5 1713.9,1075.8 C1715.7,1076.2 1718.4,1076.7 1720.6,1076.9 C1722.9,1077.0 1727.8,1077.3 1730.7,1076.9 C1733.6,1076.4 1740.0,1073.9 1742.5,1073.5 C1745.1,1073.1 1747.8,1074.8 1750.0,1073.7 C1752.2,1072.5 1756.9,1065.9 1759.2,1065.2 C1761.5,1064.5 1764.8,1067.4 1767.1,1068.4 C1769.4,1069.4 1773.7,1072.7 1776.3,1072.6 C1778.9,1072.5 1784.3,1068.8 1786.8,1067.9 C1789.2,1067.0 1792.6,1067.2 1794.7,1065.8 C1796.8,1064.4 1800.3,1057.7 1802.6,1057.4 C1804.8,1057.0 1809.5,1063.1 1811.8,1063.1 C1814.0,1063.1 1817.4,1058.5 1819.6,1057.4 C1821.9,1056.2 1826.6,1055.7 1828.8,1054.7 C1831.1,1053.7 1834.8,1051.7 1836.7,1050.0 C1838.7,1048.3 1841.7,1042.5 1843.3,1042.1 C1844.9,1041.7 1847.0,1044.9 1848.6,1046.8 C1850.1,1048.8 1853.2,1056.1 1855.1,1056.8 C1857.1,1057.6 1860.9,1053.3 1863.0,1052.6 C1865.1,1051.9 1868.8,1051.8 1870.9,1051.6 C1873.0,1051.3 1876.8,1050.9 1878.8,1050.8 C1880.8,1050.6 1884.1,1050.8 1886.0,1050.5 C1887.9,1050.3 1891.2,1050.7 1893.2,1048.9 C1895.2,1047.2 1899.2,1039.4 1901.1,1037.6 C1903.0,1035.9 1905.8,1035.6 1907.7,1035.8 C1909.6,1036.0 1913.6,1039.1 1915.6,1039.0 C1917.5,1038.9 1920.4,1036.1 1922.1,1035.0 C1923.9,1034.0 1926.9,1031.6 1928.7,1031.1 C1930.6,1030.6 1935.0,1031.1 1936.0,1031.1" stroke="#5c64b6" stroke-width="5.4"/>
<path d="M455.0,1161.1 C456.0,1161.2 460.3,1161.8 462.2,1162.0 C464.1,1162.2 467.4,1162.2 469.3,1162.7 C471.3,1163.1 474.6,1164.8 476.5,1165.2 C478.4,1165.6 481.8,1165.6 483.7,1165.8 C485.5,1166.0 488.6,1166.3 490.4,1166.7 C492.2,1167.1 495.4,1168.2 497.2,1168.8 C499.0,1169.4 502.1,1170.5 503.9,1170.9 C505.7,1171.3 508.4,1171.8 510.6,1171.8 C512.9,1171.8 518.4,1170.8 520.8,1170.8 C523.1,1170.8 526.3,1171.5 528.3,1171.8 C530.4,1172.1 533.3,1171.9 535.9,1172.8 C538.5,1173.7 545.2,1177.6 547.7,1178.6 C550.2,1179.5 552.7,1179.7 554.4,1180.0 C556.2,1180.2 559.2,1180.3 561.2,1180.3 C563.2,1180.2 567.4,1179.7 569.6,1179.4 C571.9,1179.2 575.8,1177.9 578.0,1178.6 C580.3,1179.3 583.8,1183.8 586.5,1184.6 C589.2,1185.4 595.8,1184.3 598.2,1184.6 C600.7,1184.9 603.2,1186.4 605.0,1186.8 C606.8,1187.3 609.7,1187.7 611.7,1188.0 C613.7,1188.3 617.9,1188.5 620.1,1188.8 C622.4,1189.1 626.1,1189.8 628.6,1190.4 C631.0,1190.9 636.4,1192.3 638.7,1192.7 C640.9,1193.2 643.6,1193.4 645.4,1193.7 C647.2,1193.9 650.1,1194.2 652.2,1194.4 C654.2,1194.6 658.3,1195.0 660.6,1195.2 C662.8,1195.3 667.0,1195.0 669.0,1195.4 C671.0,1195.9 673.9,1197.9 675.7,1198.5 C677.5,1199.0 680.7,1198.9 682.5,1199.4 C684.3,1199.9 687.4,1201.9 689.2,1202.2 C691.0,1202.4 694.2,1201.5 696.0,1201.3 C697.8,1201.1 700.7,1200.2 702.7,1200.5 C704.7,1200.8 708.9,1202.9 711.1,1203.4 C713.4,1204.0 717.1,1204.7 719.5,1204.9 C722.0,1205.0 727.0,1204.3 729.6,1204.9 C732.3,1205.4 737.5,1208.4 739.8,1208.9 C742.0,1209.4 744.7,1208.7 746.5,1208.9 C748.3,1209.0 751.2,1209.8 753.2,1209.9 C755.3,1210.0 759.4,1209.9 761.7,1209.9 C763.9,1209.9 767.4,1209.5 770.1,1209.9 C772.8,1210.4 779.3,1213.1 781.9,1213.3 C784.5,1213.4 787.4,1211.6 789.5,1210.9 C791.5,1210.1 795.1,1208.3 797.0,1207.9 C798.9,1207.5 802.0,1207.7 803.8,1207.9 C805.6,1208.1 808.7,1209.0 810.5,1209.5 C812.3,1210.1 815.5,1212.0 817.3,1212.3 C819.0,1212.5 822.2,1211.4 824.0,1211.3 C825.8,1211.2 828.8,1211.3 830.7,1211.6 C832.7,1211.8 836.5,1212.9 838.6,1213.2 C840.7,1213.5 844.4,1213.3 846.5,1213.6 C848.5,1213.9 852.4,1215.0 854.3,1215.6 C856.3,1216.2 859.3,1217.6 861.1,1218.1 C862.8,1218.6 866.0,1219.4 867.8,1219.7 C869.6,1219.9 872.7,1219.8 874.5,1220.0 C876.3,1220.3 879.5,1221.1 881.3,1221.4 C883.1,1221.7 885.5,1221.8 888.0,1222.4 C890.5,1223.0 897.3,1225.4 900.0,1225.9 C902.7,1226.4 906.2,1225.8 908.4,1226.0 C910.7,1226.2 914.8,1227.3 916.8,1227.3 C918.9,1227.3 921.8,1226.1 923.6,1225.9 C925.4,1225.7 928.1,1225.2 930.3,1225.6 C932.6,1226.0 938.2,1228.4 940.4,1229.0 C942.7,1229.5 945.4,1229.7 947.2,1229.7 C949.0,1229.8 951.9,1229.2 953.9,1229.3 C955.9,1229.4 960.1,1230.3 962.3,1230.6 C964.6,1230.8 968.5,1231.1 970.8,1231.0 C973.0,1230.9 976.9,1230.2 979.2,1230.0 C981.4,1229.9 985.1,1229.8 987.6,1230.0 C990.1,1230.1 995.5,1231.1 997.7,1231.0 C999.9,1230.8 1002.2,1229.6 1003.9,1228.9 C1005.5,1228.3 1008.4,1226.7 1010.1,1226.2 C1011.7,1225.6 1013.8,1224.6 1016.2,1224.9 C1018.6,1225.2 1025.3,1227.4 1028.0,1228.3 C1030.7,1229.1 1034.2,1230.4 1036.5,1231.3 C1038.7,1232.2 1042.9,1234.5 1044.9,1235.0 C1046.8,1235.5 1049.4,1234.9 1051.1,1235.1 C1052.7,1235.4 1055.6,1236.4 1057.2,1236.8 C1058.9,1237.1 1061.0,1237.9 1063.4,1237.7 C1065.8,1237.6 1072.1,1235.8 1075.2,1235.7 C1078.3,1235.6 1084.4,1237.0 1087.0,1236.7 C1089.6,1236.5 1092.6,1234.7 1094.6,1233.9 C1096.6,1233.1 1100.0,1231.2 1102.2,1230.6 C1104.3,1230.1 1108.3,1230.2 1110.6,1230.1 C1112.8,1230.0 1117.0,1230.4 1119.0,1230.0 C1121.0,1229.5 1123.9,1227.5 1125.7,1226.6 C1127.5,1225.7 1130.2,1223.5 1132.5,1223.2 C1134.7,1223.0 1140.1,1225.2 1142.6,1224.9 C1145.1,1224.7 1148.8,1222.4 1151.0,1221.5 C1153.3,1220.6 1157.2,1218.6 1159.4,1218.2 C1161.7,1217.8 1165.6,1218.3 1167.9,1218.3 C1170.1,1218.3 1173.8,1218.8 1176.3,1218.2 C1178.8,1217.6 1184.1,1214.7 1186.4,1213.8 C1188.6,1212.9 1191.3,1211.2 1193.1,1211.4 C1194.9,1211.7 1198.1,1214.6 1199.9,1215.6 C1201.7,1216.6 1204.1,1216.2 1206.6,1219.2 C1209.1,1222.2 1215.8,1234.9 1218.4,1238.4 C1221.0,1241.9 1224.0,1243.4 1226.0,1245.3 C1228.0,1247.2 1231.6,1252.3 1233.6,1252.9 C1235.5,1253.4 1238.5,1250.1 1240.3,1249.3 C1242.1,1248.5 1245.0,1246.6 1247.0,1246.8 C1249.1,1247.0 1252.8,1251.0 1255.5,1250.9 C1258.2,1250.8 1264.6,1246.8 1267.3,1246.1 C1269.9,1245.5 1273.4,1246.4 1275.7,1246.2 C1277.9,1246.1 1281.9,1245.5 1284.1,1245.1 C1286.3,1244.8 1289.8,1245.6 1292.5,1243.5 C1295.2,1241.3 1301.7,1231.1 1304.3,1229.3 C1306.9,1227.5 1309.9,1230.0 1311.9,1230.1 C1313.9,1230.1 1317.1,1231.2 1319.5,1230.0 C1321.8,1228.7 1327.1,1222.0 1329.6,1220.5 C1332.1,1219.0 1335.8,1219.4 1338.0,1218.7 C1340.3,1218.1 1344.8,1216.1 1346.4,1215.8 C1348.0,1215.6 1348.4,1216.6 1350.0,1216.7 C1351.6,1216.8 1356.2,1216.2 1358.4,1216.3 C1360.7,1216.4 1364.8,1216.8 1366.8,1217.4 C1368.9,1218.0 1371.8,1219.6 1373.6,1220.6 C1375.4,1221.6 1378.5,1223.8 1380.3,1225.1 C1382.1,1226.5 1385.3,1229.2 1387.1,1230.8 C1388.9,1232.3 1391.6,1236.0 1393.8,1236.9 C1396.0,1237.9 1401.2,1236.8 1403.9,1237.9 C1406.6,1239.1 1411.8,1244.0 1414.0,1245.4 C1416.3,1246.7 1419.0,1247.2 1420.8,1248.0 C1422.6,1248.7 1425.0,1250.4 1427.5,1251.1 C1430.0,1251.8 1436.6,1251.6 1439.3,1253.1 C1442.0,1254.6 1445.2,1261.3 1447.7,1262.2 C1450.2,1263.1 1455.1,1259.6 1457.8,1259.8 C1460.5,1260.1 1465.2,1263.3 1467.9,1263.9 C1470.6,1264.5 1475.6,1263.3 1478.0,1264.6 C1480.5,1265.8 1483.8,1272.8 1486.5,1273.3 C1489.2,1273.8 1495.8,1268.5 1498.2,1268.3 C1500.7,1268.1 1503.2,1271.0 1505.0,1271.8 C1506.8,1272.7 1509.9,1273.8 1511.7,1274.7 C1513.5,1275.5 1516.7,1277.3 1518.5,1278.1 C1520.3,1278.8 1523.2,1279.3 1525.2,1280.1 C1527.2,1280.8 1531.4,1282.9 1533.6,1283.6 C1535.9,1284.4 1539.8,1285.4 1542.0,1285.8 C1544.3,1286.2 1548.2,1286.3 1550.5,1286.7 C1552.7,1287.2 1556.9,1288.6 1558.9,1289.2 C1560.9,1289.7 1563.8,1290.5 1565.6,1290.9 C1567.4,1291.3 1570.6,1291.5 1572.4,1291.8 C1574.2,1292.2 1577.3,1293.2 1579.1,1293.4 C1580.9,1293.7 1583.4,1293.7 1585.8,1293.5 C1588.3,1293.4 1595.2,1292.1 1597.6,1292.5 C1600.1,1293.0 1602.6,1295.8 1604.4,1296.9 C1606.2,1298.1 1609.1,1300.5 1611.1,1300.9 C1613.1,1301.3 1617.3,1299.9 1619.5,1299.9 C1621.8,1299.9 1625.5,1301.5 1628.0,1300.9 C1630.4,1300.4 1635.6,1296.0 1638.1,1295.9 C1640.5,1295.8 1644.5,1299.3 1646.5,1299.9 C1648.5,1300.5 1651.4,1300.0 1653.2,1300.3 C1655.0,1300.5 1657.7,1301.5 1660.0,1302.0 C1662.2,1302.4 1667.2,1303.9 1670.1,1303.6 C1673.0,1303.4 1678.7,1300.3 1681.9,1299.9 C1685.0,1299.6 1691.2,1300.6 1693.7,1300.9 C1696.1,1301.3 1698.6,1302.3 1700.4,1302.5 C1702.2,1302.7 1705.3,1302.5 1707.1,1302.6 C1708.9,1302.7 1712.1,1303.3 1713.9,1303.3 C1715.7,1303.3 1718.4,1303.0 1720.6,1302.6 C1722.9,1302.2 1727.8,1300.7 1730.7,1300.3 C1733.6,1299.8 1740.0,1300.3 1742.5,1299.3 C1745.1,1298.2 1747.6,1293.6 1750.0,1292.6 C1752.4,1291.5 1758.1,1291.3 1760.5,1291.3 C1763.0,1291.3 1766.3,1292.3 1768.4,1292.6 C1770.5,1292.9 1774.2,1293.4 1776.3,1293.4 C1778.4,1293.4 1781.9,1293.2 1784.2,1292.6 C1786.4,1291.9 1790.9,1289.9 1793.4,1288.6 C1795.8,1287.3 1800.1,1283.3 1802.6,1282.9 C1805.0,1282.4 1809.7,1285.9 1811.8,1285.5 C1813.9,1285.0 1816.6,1281.2 1818.3,1279.4 C1820.1,1277.6 1822.8,1273.3 1824.9,1272.1 C1827.0,1270.8 1831.8,1270.6 1834.1,1270.2 C1836.4,1269.9 1840.1,1269.4 1842.0,1269.7 C1843.9,1270.1 1846.8,1272.0 1848.6,1272.9 C1850.3,1273.7 1853.2,1276.3 1855.1,1276.0 C1857.1,1275.7 1860.9,1271.6 1863.0,1270.8 C1865.1,1269.9 1868.8,1269.8 1870.9,1269.7 C1873.0,1269.6 1876.8,1270.4 1878.8,1270.2 C1880.8,1270.0 1884.1,1268.8 1886.0,1268.2 C1887.9,1267.6 1891.2,1266.7 1893.2,1265.5 C1895.2,1264.3 1898.5,1260.5 1901.1,1259.2 C1903.7,1257.9 1910.3,1256.8 1912.9,1255.8 C1915.6,1254.8 1918.7,1252.7 1920.8,1251.8 C1922.9,1251.0 1926.7,1249.6 1928.7,1249.2 C1930.7,1248.9 1935.0,1249.2 1936.0,1249.2" stroke="#fb7f0c" stroke-width="5.4"/>
<path d="M455.0,1009.8 C455.8,1010.0 459.6,1010.4 461.3,1010.7 C463.0,1011.0 466.0,1011.7 467.7,1011.9 C469.3,1012.2 472.3,1012.3 474.0,1012.4 C475.7,1012.6 478.6,1013.2 480.3,1013.2 C482.1,1013.2 485.3,1012.2 487.1,1012.2 C488.9,1012.2 492.0,1013.1 493.8,1013.1 C495.6,1013.1 498.5,1012.4 500.5,1012.2 C502.6,1012.0 506.7,1011.8 509.0,1011.7 C511.2,1011.5 515.4,1011.2 517.4,1011.2 C519.4,1011.2 522.3,1011.6 524.1,1011.9 C525.9,1012.2 529.1,1013.4 530.9,1013.6 C532.7,1013.9 535.8,1013.9 537.6,1013.9 C539.4,1013.8 542.5,1013.2 544.3,1013.3 C546.1,1013.4 549.3,1014.6 551.1,1014.7 C552.9,1014.7 556.0,1013.9 557.8,1013.9 C559.6,1013.8 562.8,1014.6 564.6,1014.6 C566.4,1014.5 569.5,1013.4 571.3,1013.3 C573.1,1013.1 575.8,1012.7 578.0,1013.2 C580.3,1013.7 585.4,1017.2 588.1,1017.3 C590.8,1017.3 596.0,1014.2 598.2,1013.9 C600.5,1013.6 603.2,1014.6 605.0,1014.8 C606.8,1014.9 609.9,1014.7 611.7,1015.0 C613.5,1015.2 616.7,1016.4 618.5,1016.6 C620.3,1016.7 623.4,1016.4 625.2,1016.1 C627.0,1015.8 630.1,1014.8 631.9,1014.5 C633.7,1014.2 636.9,1013.8 638.7,1013.9 C640.5,1014.0 643.6,1015.0 645.4,1015.2 C647.2,1015.3 650.4,1014.8 652.2,1014.9 C654.0,1014.9 657.1,1015.7 658.9,1015.6 C660.7,1015.5 663.8,1014.2 665.6,1014.0 C667.4,1013.9 670.6,1014.7 672.4,1014.6 C674.2,1014.5 677.3,1013.3 679.1,1013.2 C680.9,1013.2 684.1,1013.9 685.8,1014.2 C687.6,1014.5 690.8,1015.1 692.6,1015.5 C694.4,1015.9 697.1,1017.5 699.3,1017.3 C701.6,1017.0 707.0,1014.3 709.4,1013.9 C711.8,1013.5 715.2,1013.8 717.3,1014.1 C719.4,1014.3 723.1,1015.3 725.2,1015.7 C727.3,1016.0 731.1,1016.7 733.0,1016.6 C735.0,1016.5 738.0,1015.2 739.8,1015.0 C741.6,1014.7 744.2,1014.3 746.5,1014.6 C748.7,1014.8 754.4,1016.5 756.6,1016.6 C758.8,1016.7 761.2,1015.6 762.9,1015.3 C764.6,1015.1 767.6,1015.3 769.2,1014.9 C770.9,1014.6 773.9,1013.1 775.6,1012.8 C777.2,1012.4 780.0,1012.7 781.9,1012.2 C783.7,1011.7 787.4,1010.1 789.5,1009.2 C791.5,1008.3 794.7,1005.6 797.0,1005.5 C799.4,1005.3 804.9,1007.5 807.1,1007.8 C809.4,1008.1 812.1,1007.7 813.9,1007.7 C815.7,1007.7 818.8,1007.8 820.6,1007.8 C822.4,1007.9 825.6,1008.2 827.4,1008.0 C829.2,1007.8 832.3,1006.8 834.1,1006.6 C835.9,1006.4 839.0,1006.5 840.8,1006.5 C842.6,1006.5 845.8,1006.5 847.6,1006.7 C849.4,1006.9 852.5,1007.9 854.3,1008.1 C856.1,1008.3 859.1,1008.1 861.1,1008.2 C863.0,1008.2 866.8,1008.2 868.9,1008.4 C871.0,1008.6 874.7,1009.4 876.8,1009.6 C878.9,1009.9 882.7,1010.4 884.6,1010.5 C886.6,1010.6 889.6,1010.3 891.4,1010.2 C893.2,1010.2 897.0,1010.0 898.1,1009.8 C899.3,1009.7 898.6,1009.2 900.0,1009.3 C901.4,1009.4 906.2,1010.1 908.4,1010.7 C910.7,1011.3 914.8,1013.4 916.8,1013.7 C918.9,1013.9 921.8,1013.1 923.6,1012.7 C925.4,1012.2 928.3,1010.6 930.3,1010.3 C932.3,1010.0 936.5,1010.5 938.7,1010.8 C941.0,1011.1 945.1,1012.5 947.2,1012.7 C949.2,1012.8 952.1,1012.4 953.9,1012.1 C955.7,1011.9 958.8,1011.1 960.6,1011.0 C962.4,1010.9 965.6,1011.3 967.4,1011.4 C969.2,1011.6 971.7,1012.6 974.1,1012.0 C976.6,1011.4 982.8,1007.3 985.9,1006.9 C989.1,1006.6 995.0,1009.5 997.7,1009.3 C1000.4,1009.1 1003.9,1006.7 1006.1,1005.7 C1008.4,1004.7 1012.5,1002.2 1014.6,1001.5 C1016.6,1000.8 1019.5,1000.6 1021.3,1000.4 C1023.1,1000.3 1026.2,1000.2 1028.0,1000.2 C1029.8,1000.2 1033.0,1000.3 1034.8,1000.4 C1036.6,1000.5 1039.3,1001.0 1041.5,1000.9 C1043.8,1000.7 1048.9,999.3 1051.6,999.2 C1054.3,999.1 1059.5,1000.3 1061.7,1000.2 C1064.0,1000.0 1066.7,998.8 1068.5,998.1 C1070.3,997.4 1073.0,995.3 1075.2,994.8 C1077.4,994.3 1082.8,995.0 1085.3,994.1 C1087.8,993.2 1091.5,989.8 1093.7,988.1 C1096.0,986.3 1099.5,982.7 1102.2,981.3 C1104.9,980.0 1111.3,978.1 1113.9,978.0 C1116.6,977.8 1120.4,980.5 1122.4,980.0 C1124.4,979.5 1127.3,975.6 1129.1,974.1 C1130.9,972.6 1134.1,969.9 1135.8,968.9 C1137.6,967.9 1140.8,967.2 1142.6,966.6 C1144.4,966.0 1147.5,965.1 1149.3,964.5 C1151.1,963.8 1154.3,962.3 1156.1,961.6 C1157.9,960.8 1160.3,959.8 1162.8,958.7 C1165.3,957.7 1172.3,954.2 1174.6,953.7 C1176.8,953.2 1178.1,955.3 1179.6,954.7 C1181.2,954.1 1184.6,950.7 1186.4,949.3 C1188.2,947.8 1191.1,943.9 1193.1,943.6 C1195.1,943.3 1198.9,944.5 1201.5,947.0 C1204.2,949.4 1210.4,958.3 1213.3,962.1 C1216.3,965.9 1220.8,972.6 1223.5,975.6 C1226.1,978.6 1230.9,984.0 1233.6,984.7 C1236.3,985.4 1240.7,981.4 1243.7,980.6 C1246.6,979.9 1252.3,980.1 1255.5,979.0 C1258.6,977.8 1264.8,973.6 1267.3,972.2 C1269.7,970.9 1272.2,969.5 1274.0,968.7 C1275.8,968.0 1278.9,967.4 1280.7,966.5 C1282.5,965.5 1285.7,962.8 1287.5,961.6 C1289.3,960.3 1292.3,958.5 1294.2,957.1 C1296.1,955.6 1299.8,952.2 1301.8,950.6 C1303.8,949.0 1306.8,946.7 1309.4,945.3 C1311.9,943.9 1318.7,941.6 1321.2,940.2 C1323.6,938.8 1326.1,936.2 1327.9,934.6 C1329.7,933.0 1332.4,930.4 1334.6,928.4 C1336.9,926.5 1342.7,921.3 1344.7,920.0 C1346.8,918.7 1348.2,918.8 1350.0,918.5 C1351.8,918.3 1356.2,918.2 1358.4,918.1 C1360.7,917.9 1364.8,917.4 1366.8,917.5 C1368.9,917.6 1371.8,918.4 1373.6,919.0 C1375.4,919.5 1378.5,921.2 1380.3,921.9 C1382.1,922.6 1385.3,923.6 1387.1,924.5 C1388.9,925.4 1392.0,927.9 1393.8,928.6 C1395.6,929.4 1398.7,929.9 1400.5,930.3 C1402.3,930.8 1405.4,931.2 1407.3,932.0 C1409.2,932.8 1412.8,935.1 1414.9,936.3 C1416.9,937.6 1420.5,940.4 1422.4,941.1 C1424.3,941.8 1427.4,941.5 1429.2,941.5 C1431.0,941.5 1433.4,940.6 1435.9,941.1 C1438.4,941.6 1444.8,944.7 1447.7,945.5 C1450.6,946.3 1455.1,947.4 1457.8,947.2 C1460.5,946.9 1465.5,943.9 1467.9,943.8 C1470.4,943.7 1474.1,945.4 1476.3,946.1 C1478.6,946.8 1482.7,948.9 1484.8,948.9 C1486.8,948.9 1489.7,947.0 1491.5,946.1 C1493.3,945.2 1495.8,942.4 1498.2,942.1 C1500.7,941.8 1506.9,943.9 1510.0,943.8 C1513.2,943.7 1518.9,941.9 1521.8,941.4 C1524.8,941.0 1529.7,941.1 1531.9,940.4 C1534.2,939.8 1536.9,937.6 1538.7,936.4 C1540.5,935.3 1543.2,933.4 1545.4,932.0 C1547.7,930.7 1552.8,927.3 1555.5,926.3 C1558.2,925.2 1562.9,923.9 1565.6,924.3 C1568.3,924.6 1573.0,926.0 1575.7,928.6 C1578.4,931.2 1583.2,940.2 1585.8,943.8 C1588.5,947.4 1593.0,952.3 1596.0,955.6 C1598.9,958.9 1605.1,967.0 1607.7,968.4 C1610.4,969.7 1613.5,966.3 1616.2,965.7 C1618.9,965.1 1625.1,964.9 1628.0,964.0 C1630.8,963.1 1634.9,959.0 1637.4,959.0 C1639.9,959.0 1644.2,963.6 1646.5,964.0 C1648.8,964.5 1652.9,963.2 1654.9,962.3 C1656.9,961.4 1659.6,957.4 1661.7,957.3 C1663.7,957.1 1667.6,961.3 1670.1,961.3 C1672.6,961.3 1677.5,958.3 1680.2,957.3 C1682.9,956.3 1687.4,954.1 1690.3,953.9 C1693.2,953.7 1698.9,954.8 1702.1,955.6 C1705.2,956.4 1711.0,959.3 1713.9,960.0 C1716.8,960.6 1721.1,960.0 1724.0,960.6 C1726.9,961.3 1732.6,963.6 1735.8,964.7 C1738.9,965.8 1745.7,968.5 1747.6,969.1 C1749.5,969.7 1748.3,968.9 1750.0,969.3 C1751.7,969.7 1757.9,971.5 1760.5,971.9 C1763.1,972.4 1767.3,971.7 1769.7,972.7 C1772.2,973.8 1776.6,979.0 1778.9,979.8 C1781.2,980.7 1784.7,979.6 1786.8,979.0 C1788.9,978.5 1792.9,976.7 1794.7,975.9 C1796.4,975.0 1798.5,972.9 1799.9,972.7 C1801.3,972.6 1803.6,973.6 1805.2,974.6 C1806.8,975.5 1809.8,979.5 1811.8,979.8 C1813.7,980.2 1817.5,978.1 1819.6,977.2 C1821.7,976.3 1825.3,974.0 1827.5,973.3 C1829.8,972.6 1834.6,972.3 1836.7,971.9 C1838.8,971.6 1841.4,970.5 1843.3,970.6 C1845.2,970.7 1848.6,972.6 1851.2,972.7 C1853.8,972.9 1860.6,971.6 1863.0,971.9 C1865.5,972.3 1867.8,974.4 1869.6,975.0 C1871.3,975.7 1874.2,976.6 1876.1,976.7 C1878.1,976.8 1881.9,976.0 1884.0,975.8 C1886.1,975.6 1889.8,976.0 1891.9,975.4 C1894.0,974.7 1897.7,971.4 1899.8,970.6 C1901.9,969.8 1905.6,970.0 1907.7,969.3 C1909.8,968.6 1913.6,966.1 1915.6,965.4 C1917.5,964.6 1920.4,963.9 1922.1,963.6 C1923.9,963.2 1926.9,962.9 1928.7,962.7 C1930.6,962.6 1935.0,962.7 1936.0,962.7" stroke="#0a7dfb" stroke-width="5.4"/>
</g>
<line x1="796.4" y1="742.4" x2="796.4" y2="1313.5" stroke="#000" stroke-width="3.1" stroke-linecap="round" stroke-dasharray="9.60 11.19"/>
<text x="826.0" y="732.0" font-size="67" text-anchor="middle" >2808</text>
<line x1="1193.1" y1="668.1" x2="1193.1" y2="1300.5" stroke="#000" stroke-width="3.8" stroke-linecap="round" stroke-dasharray="8.90 11.88"/>
<text x="1211.3" y="653.5" font-size="67" text-anchor="middle" >3046</text>
<line x1="1358.2" y1="607.1" x2="1358.2" y2="1301.1" stroke="#000" stroke-width="2.9" stroke-linecap="round" stroke-dasharray="9.80 11.58"/>
<text x="1378.4" y="597.0" font-size="67" text-anchor="middle" >3150</text>
<line x1="1566.3" y1="534.5" x2="1566.3" y2="980.5" stroke="#000" stroke-width="2.9" stroke-linecap="round" stroke-dasharray="9.80 10.98"/>
<text x="1585.3" y="519.3" font-size="67" text-anchor="middle" >3275</text>
<line x1="1691.3" y1="603.5" x2="1691.3" y2="986.8" stroke="#000" stroke-width="2.9" stroke-linecap="round" stroke-dasharray="9.80 10.96"/>
<text x="1716.4" y="585.5" font-size="67" text-anchor="middle" >3356</text>
<g stroke="#000" stroke-width="7" stroke-linecap="round" fill="none">
<line x1="459" y1="85.5" x2="459" y2="1378.8" stroke-linecap="butt"/>
<line x1="459" y1="85.5" x2="1935.5" y2="85.5" stroke-linecap="butt"/>
<line x1="459" y1="1378.8" x2="1935.5" y2="1378.8" stroke-linecap="butt"/>
<line x1="1932" y1="85.5" x2="1932" y2="1378.8" stroke-linecap="butt"/>
<line x1="459" y1="85.5" x2="431.5" y2="85.5"/>
<line x1="459" y1="270.3" x2="431.5" y2="270.3"/>
<line x1="459" y1="455.0" x2="431.5" y2="455.0"/>
<line x1="459" y1="639.8" x2="431.5" y2="639.8"/>
<line x1="459" y1="824.5" x2="431.5" y2="824.5"/>
<line x1="459" y1="1009.3" x2="431.5" y2="1009.3"/>
<line x1="459" y1="1194.0" x2="431.5" y2="1194.0"/>
<line x1="459" y1="1378.8" x2="431.5" y2="1378.8"/>
<line x1="459" y1="177.9" x2="445.5" y2="177.9"/>
<line x1="459" y1="362.6" x2="445.5" y2="362.6"/>
<line x1="459" y1="547.4" x2="445.5" y2="547.4"/>
<line x1="459" y1="732.1" x2="445.5" y2="732.1"/>
<line x1="459" y1="916.9" x2="445.5" y2="916.9"/>
<line x1="459" y1="1101.7" x2="445.5" y2="1101.7"/>
<line x1="459" y1="1286.4" x2="445.5" y2="1286.4"/>
<line x1="459.0" y1="1378.8" x2="459.0" y2="1405.1"/>
<line x1="786.3" y1="1378.8" x2="786.3" y2="1405.1"/>
<line x1="1113.7" y1="1378.8" x2="1113.7" y2="1405.1"/>
<line x1="1441.0" y1="1378.8" x2="1441.0" y2="1405.1"/>
<line x1="1768.3" y1="1378.8" x2="1768.3" y2="1405.1"/>
<line x1="622.7" y1="1378.8" x2="622.7" y2="1391.6"/>
<line x1="950.0" y1="1378.8" x2="950.0" y2="1391.6"/>
<line x1="1277.3" y1="1378.8" x2="1277.3" y2="1391.6"/>
<line x1="1604.7" y1="1378.8" x2="1604.7" y2="1391.6"/>
<line x1="1932.0" y1="1378.8" x2="1932.0" y2="1391.6"/>
</g>
<text x="412.5" y="104.2" font-size="66.3" text-anchor="end" >0.04</text>
<text x="412.5" y="289.0" font-size="66.3" text-anchor="end" >0.03</text>
<text x="412.5" y="473.7" font-size="66.3" text-anchor="end" >0.02</text>
<text x="412.5" y="658.5" font-size="66.3" text-anchor="end" >0.01</text>
<text x="412.5" y="843.2" font-size="66.3" text-anchor="end" >0.00</text>
<text x="412.5" y="1028.0" font-size="66.3" text-anchor="end" >-0.01</text>
<text x="412.5" y="1212.7" font-size="66.3" text-anchor="end" >-0.02</text>
<text x="412.5" y="1397.5" font-size="66.3" text-anchor="end" >-0.03</text>
<text x="459.0" y="1476.8" font-size="67" text-anchor="middle" >2600</text>
<text x="786.3" y="1476.8" font-size="67" text-anchor="middle" >2800</text>
<text x="1113.7" y="1476.8" font-size="67" text-anchor="middle" >3000</text>
<text x="1441.0" y="1476.8" font-size="67" text-anchor="middle" >3200</text>
<text x="1768.3" y="1476.8" font-size="67" text-anchor="middle" >3400</text>
<text transform="translate(67.2,112.2) scale(0.86,1)" font-size="107.5" font-weight="bold" style="stroke-width:0">(</text>
<text transform="translate(103.3,114.6) scale(0.879,1)" font-size="105" font-weight="bold" style="stroke-width:0">a</text>
<text transform="translate(165.6,112.2) scale(0.86,1)" font-size="107.5" font-weight="bold" style="stroke-width:0">)</text>
<text transform="translate(201,776) rotate(-90)" font-size="80" text-anchor="middle">-log (R)</text>
<text x="850.4" y="1599.7" font-size="80.5" text-anchor="start">Wavenumber [cm<tspan font-size="47" dy="-42">-1</tspan><tspan dy="42">]</tspan></text>
<line x1="468" y1="134" x2="619" y2="134" stroke="#000" stroke-width="3.4" stroke-dasharray="13.8 4 3.8 4"/>
<line x1="468" y1="239.3" x2="622" y2="239.3" stroke="#ee5566" stroke-width="5"/>
<line x1="468" y1="344.4" x2="622" y2="344.4" stroke="#aa5fa2" stroke-width="5"/>
<line x1="468" y1="449.2" x2="622" y2="449.2" stroke="#c9b94c" stroke-width="5"/>
<line x1="903.2" y1="137.2" x2="1058.2" y2="137.2" stroke="#629a72" stroke-width="5"/>
<line x1="903.2" y1="241.6" x2="1058.2" y2="241.6" stroke="#5c64b6" stroke-width="5"/>
<line x1="903.2" y1="346.7" x2="1058.2" y2="346.7" stroke="#fb7f0c" stroke-width="5"/>
<line x1="903.2" y1="451.5" x2="1058.2" y2="451.5" stroke="#0a7dfb" stroke-width="5"/>
<text x="638.0" y="156.7" font-size="68" text-anchor="start" >N<tspan font-size="38" dy="26">2</tspan></text>
<text x="638.0" y="262.0" font-size="68" text-anchor="start" >O<tspan font-size="38" dy="26">2</tspan></text>
<text x="638.0" y="367.0" font-size="68" text-anchor="start" >NH<tspan font-size="38" dy="26">3</tspan><tspan dy="-26">+NO</tspan></text>
<text x="638.0" y="472.0" font-size="68" text-anchor="start" >O<tspan font-size="38" dy="26">2</tspan></text>
<text x="1073.4" y="159.5" font-size="68" text-anchor="start" >NH<tspan font-size="38" dy="26">3</tspan></text>
<text x="1073.4" y="264.5" font-size="68" text-anchor="start" >NO</text>
<text x="1073.4" y="369.5" font-size="68" text-anchor="start" >NO+O<tspan font-size="38" dy="26">2</tspan></text>
<text x="1073.4" y="474.5" font-size="68" text-anchor="start" >NH<tspan font-size="38" dy="26">3</tspan><tspan dy="-26">+NO+O</tspan><tspan font-size="38" dy="26">2</tspan></text>
<clipPath id="clipb"><rect x="408.6" y="1749.6" width="1472.8000000000002" height="1292.0"/></clipPath>
<g clip-path="url(#clipb)" fill="none" stroke-linejoin="round" stroke-linecap="round">
<line x1="408.6" y1="2487.9" x2="1881.4" y2="2487.9" stroke="#000" stroke-width="3.2" stroke-dasharray="14.5 3.4 5 3.4" stroke-linecap="butt"/>
<path d="M404.0,2864.0 C405.4,2863.8 409.3,2863.6 412.6,2862.8 C416.0,2862.0 420.2,2859.1 424.0,2859.0 C427.8,2859.0 431.0,2861.6 435.4,2862.3 C439.8,2863.0 446.3,2863.3 450.5,2863.3 C454.8,2863.3 456.9,2863.9 460.7,2862.3 C464.4,2860.8 468.9,2857.1 473.3,2854.0 C477.7,2850.9 483.2,2844.5 487.2,2843.9 C491.2,2843.2 494.1,2848.6 497.3,2850.2 C500.5,2851.7 502.6,2853.1 506.1,2853.2 C509.7,2853.3 514.8,2851.4 518.8,2850.7 C522.8,2850.0 527.0,2850.9 530.1,2848.9 C533.3,2846.9 535.4,2841.5 537.7,2838.8 C540.0,2836.2 540.9,2833.4 544.0,2833.0 C547.2,2832.6 552.9,2835.7 556.7,2836.3 C560.5,2836.9 563.2,2836.4 566.8,2836.8 C570.4,2837.2 574.4,2839.6 578.2,2838.8 C582.0,2838.0 586.6,2836.4 589.5,2832.0 C592.5,2827.6 594.0,2818.3 595.9,2812.3 C597.8,2806.3 599.0,2799.6 600.9,2795.9 C602.8,2792.1 605.1,2789.3 607.2,2789.5 C609.3,2789.7 611.4,2792.5 613.5,2797.1 C615.7,2801.8 617.8,2812.1 619.9,2817.3 C622.0,2822.6 623.9,2828.0 626.2,2828.7 C628.5,2829.5 631.0,2823.3 633.8,2821.9 C636.5,2820.5 639.9,2819.9 642.6,2820.4 C645.3,2820.9 647.9,2827.1 650.2,2824.9 C652.5,2822.7 654.4,2814.4 656.5,2807.2 C658.6,2800.1 660.9,2787.0 662.8,2782.0 C664.7,2776.9 666.0,2776.5 667.9,2776.9 C669.8,2777.3 671.7,2780.7 674.2,2784.5 C676.7,2788.3 680.3,2798.2 683.0,2799.6 C685.8,2801.1 688.3,2795.4 690.6,2793.3 C692.9,2791.2 694.2,2786.6 696.9,2787.0 C699.7,2787.4 704.1,2795.0 707.1,2795.9 C710.0,2796.7 712.3,2795.0 714.6,2792.1 C716.9,2789.1 718.6,2782.8 721.0,2778.2 C723.3,2773.5 726.0,2768.3 728.5,2764.3 C731.1,2760.3 733.6,2754.9 736.1,2754.2 C738.6,2753.4 741.4,2760.1 743.7,2759.7 C746.0,2759.3 747.9,2754.2 750.0,2751.6 C752.1,2749.0 754.2,2744.9 756.3,2744.0 C758.4,2743.2 760.8,2743.8 762.6,2746.6 C764.5,2749.3 766.0,2755.2 767.7,2760.5 C769.4,2765.7 770.7,2781.5 772.8,2778.2 C774.8,2774.9 777.8,2752.0 780.1,2740.8 C782.3,2729.5 784.5,2716.5 786.4,2710.4 C788.3,2704.3 789.7,2703.7 791.4,2704.1 C793.1,2704.5 794.8,2706.0 796.5,2713.0 C798.2,2719.9 799.9,2737.2 801.5,2745.8 C803.2,2754.4 804.7,2762.9 806.6,2764.8 C808.5,2766.7 810.6,2757.8 812.9,2757.2 C815.2,2756.6 818.2,2760.1 820.5,2761.0 C822.8,2761.8 824.9,2765.2 826.8,2762.2 C828.7,2759.3 829.9,2754.4 831.9,2743.3 C833.9,2732.1 836.7,2710.5 838.8,2695.4 C840.9,2680.2 842.7,2661.3 844.5,2652.5 C846.3,2643.7 847.7,2641.1 849.6,2642.4 C851.4,2643.7 853.8,2652.5 855.9,2660.1 C858.0,2667.7 860.1,2680.8 862.2,2687.9 C864.3,2695.0 866.2,2699.1 868.5,2702.9 C870.8,2706.6 874.0,2706.2 876.1,2710.4 C878.2,2714.6 879.2,2721.6 881.1,2728.1 C883.0,2734.7 885.8,2745.8 887.5,2749.6 C889.1,2753.4 889.6,2752.3 891.2,2750.9 C892.9,2749.4 895.7,2747.1 897.6,2740.8 C899.5,2734.4 901.1,2719.5 902.6,2713.0 C904.1,2706.4 905.4,2704.1 906.4,2701.6 C907.5,2699.1 907.7,2703.6 908.9,2698.0 C910.2,2692.3 912.1,2674.5 914.0,2667.7 C915.9,2660.8 918.2,2658.3 920.3,2657.0 C922.4,2655.8 924.5,2658.5 926.6,2660.1 C928.7,2661.6 931.1,2659.7 932.9,2666.4 C934.8,2673.1 936.3,2689.5 938.0,2700.4 C939.7,2711.3 941.4,2725.8 943.1,2731.9 C944.7,2738.0 946.2,2738.9 948.1,2737.0 C950.0,2735.1 952.6,2727.2 954.4,2720.5 C956.2,2713.9 957.4,2706.1 958.9,2697.3 C960.3,2688.4 961.7,2674.1 963.3,2667.7 C964.9,2661.3 966.4,2658.4 968.3,2658.8 C970.2,2659.2 972.8,2663.5 974.6,2670.2 C976.5,2676.9 977.6,2690.1 979.7,2699.2 C981.8,2708.2 985.2,2722.9 987.3,2724.3 C989.4,2725.8 991.1,2711.7 992.3,2707.9 C993.6,2704.1 993.2,2703.9 994.9,2701.6 C996.5,2699.3 999.9,2694.8 1002.4,2694.2 C1005.0,2693.6 1007.5,2698.2 1010.0,2698.0 C1012.6,2697.8 1015.3,2699.3 1017.6,2692.9 C1019.9,2686.6 1022.0,2669.8 1023.9,2660.1 C1025.8,2650.4 1027.5,2639.9 1029.0,2634.8 C1030.5,2629.8 1031.1,2628.1 1032.8,2629.8 C1034.5,2631.4 1037.0,2638.6 1039.1,2644.9 C1041.2,2651.2 1043.5,2661.8 1045.4,2667.7 C1047.3,2673.6 1048.6,2682.0 1050.5,2680.3 C1052.4,2678.6 1054.3,2666.4 1056.8,2657.6 C1059.3,2648.7 1063.1,2634.8 1065.6,2627.2 C1068.2,2619.6 1069.8,2615.2 1071.9,2612.1 C1074.0,2608.9 1075.9,2611.6 1078.3,2608.3 C1080.6,2604.9 1083.7,2599.6 1085.8,2591.8 C1087.9,2584.1 1089.2,2572.6 1090.9,2561.5 C1092.5,2550.5 1094.6,2534.4 1095.8,2525.6 C1097.0,2516.9 1097.0,2513.4 1098.1,2508.9 C1099.1,2504.5 1100.8,2499.2 1102.1,2498.8 C1103.5,2498.5 1104.8,2501.5 1106.2,2506.9 C1107.5,2512.3 1108.9,2524.8 1110.2,2531.2 C1111.6,2537.6 1112.9,2546.3 1114.3,2545.3 C1115.6,2544.3 1117.0,2531.2 1118.3,2525.1 C1119.6,2519.0 1121.2,2512.0 1122.3,2508.9 C1123.5,2505.9 1124.2,2505.6 1125.4,2506.9 C1126.6,2508.3 1128.1,2511.3 1129.4,2517.0 C1130.8,2522.8 1132.1,2532.5 1133.5,2541.3 C1134.8,2550.0 1136.0,2559.5 1137.5,2569.6 C1139.0,2579.7 1140.9,2589.8 1142.6,2601.9 C1144.2,2614.1 1146.3,2634.9 1147.6,2642.4 C1149.0,2649.8 1149.5,2639.7 1150.6,2646.4 C1151.8,2653.1 1153.3,2673.8 1154.7,2682.8 C1156.0,2691.8 1157.4,2692.3 1158.7,2700.3 C1160.1,2708.3 1161.3,2720.9 1162.8,2730.6 C1164.3,2740.4 1166.3,2753.2 1167.8,2758.9 C1169.3,2764.7 1170.4,2762.3 1171.9,2765.0 C1173.4,2767.7 1175.2,2771.4 1176.9,2775.1 C1178.6,2778.8 1180.5,2783.2 1182.0,2787.2 C1183.5,2791.3 1184.8,2796.0 1186.0,2799.4 C1187.2,2802.7 1187.9,2806.8 1189.0,2807.5 C1190.2,2808.1 1191.9,2805.8 1193.1,2803.4 C1194.3,2801.1 1195.1,2795.3 1196.1,2793.3 C1197.1,2791.3 1198.0,2790.8 1199.2,2791.3 C1200.3,2791.8 1201.9,2793.6 1203.2,2796.3 C1204.5,2799.0 1205.9,2803.9 1207.2,2807.5 C1208.6,2811.0 1209.9,2813.5 1211.3,2817.6 C1212.6,2821.6 1213.8,2827.7 1215.3,2831.7 C1216.8,2835.8 1218.9,2841.8 1220.4,2841.8 C1221.9,2841.8 1223.1,2833.9 1224.4,2831.7 C1225.8,2829.5 1227.0,2828.7 1228.5,2828.7 C1230.0,2828.7 1231.8,2831.4 1233.5,2831.7 C1235.2,2832.1 1236.9,2829.7 1238.6,2830.7 C1240.3,2831.7 1241.8,2834.6 1243.6,2837.8 C1245.5,2841.0 1247.8,2847.9 1249.7,2849.9 C1251.5,2851.9 1253.1,2848.9 1254.7,2849.9 C1256.4,2850.9 1257.9,2853.1 1259.8,2856.0 C1261.7,2858.8 1264.0,2867.1 1265.9,2867.1 C1267.7,2867.1 1269.2,2859.0 1270.9,2856.0 C1272.6,2852.9 1274.3,2850.2 1276.0,2848.9 C1277.7,2847.5 1279.5,2850.7 1281.0,2847.9 C1282.5,2845.0 1283.7,2837.8 1285.1,2831.7 C1286.4,2825.6 1287.8,2816.2 1289.1,2811.5 C1290.5,2806.8 1291.6,2802.7 1293.2,2803.4 C1294.7,2804.1 1296.9,2814.5 1298.2,2815.5 C1299.6,2816.6 1300.2,2811.2 1301.2,2809.5 C1302.2,2807.8 1303.1,2805.1 1304.3,2805.4 C1305.5,2805.8 1307.0,2806.4 1308.3,2811.5 C1309.7,2816.6 1310.7,2830.4 1312.4,2835.8 C1314.0,2841.1 1316.6,2839.8 1318.4,2843.8 C1320.3,2847.9 1322.0,2857.0 1323.5,2860.0 C1325.0,2863.0 1326.2,2862.7 1327.5,2862.0 C1328.9,2861.4 1330.2,2859.0 1331.6,2856.0 C1332.9,2852.9 1334.1,2846.5 1335.6,2843.8 C1337.1,2841.1 1339.0,2845.2 1340.7,2839.8 C1342.3,2834.4 1344.2,2818.7 1345.7,2811.5 C1347.2,2804.3 1348.4,2797.0 1349.8,2796.3 C1351.1,2795.7 1352.4,2803.9 1353.8,2807.5 C1355.1,2811.0 1356.5,2815.9 1357.8,2817.6 C1359.2,2819.2 1360.5,2815.5 1361.9,2817.6 C1363.2,2819.6 1364.7,2824.0 1365.9,2829.7 C1367.1,2835.4 1367.9,2845.5 1369.0,2851.9 C1370.0,2858.3 1370.8,2867.4 1372.0,2868.1 C1373.2,2868.8 1374.5,2858.8 1376.0,2856.0 C1377.5,2853.1 1379.8,2852.0 1381.1,2850.9 C1382.4,2849.9 1382.7,2849.6 1384.0,2849.6 C1385.4,2849.5 1387.6,2853.3 1389.1,2850.6 C1390.6,2847.9 1391.6,2838.0 1393.1,2833.4 C1394.7,2828.9 1396.5,2826.0 1398.2,2823.3 C1399.9,2820.6 1401.6,2819.1 1403.2,2817.2 C1404.9,2815.4 1406.6,2811.5 1408.3,2812.2 C1410.0,2812.9 1411.8,2818.4 1413.4,2821.3 C1414.9,2824.1 1416.0,2824.0 1417.4,2829.4 C1418.7,2834.8 1420.1,2847.9 1421.4,2853.6 C1422.8,2859.4 1424.1,2859.7 1425.5,2863.7 C1426.8,2867.8 1428.0,2875.4 1429.5,2877.9 C1431.0,2880.4 1433.1,2881.6 1434.6,2878.9 C1436.1,2876.2 1437.4,2870.6 1438.6,2861.7 C1439.8,2852.8 1440.5,2836.8 1441.7,2825.3 C1442.8,2813.9 1444.3,2800.6 1445.7,2793.0 C1447.0,2785.4 1448.5,2781.9 1449.7,2779.8 C1451.0,2777.8 1452.0,2777.3 1453.2,2780.9 C1454.4,2784.4 1455.5,2791.6 1456.8,2801.1 C1458.1,2810.5 1459.5,2825.3 1460.9,2837.5 C1462.2,2849.6 1463.6,2865.6 1464.9,2873.8 C1466.2,2882.1 1467.6,2889.0 1468.9,2887.0 C1470.3,2885.0 1471.6,2866.9 1473.0,2861.7 C1474.3,2856.5 1475.3,2856.8 1477.0,2855.6 C1478.7,2854.5 1481.2,2856.5 1483.1,2854.6 C1484.9,2852.8 1486.6,2846.0 1488.1,2844.5 C1489.7,2843.0 1490.7,2844.9 1492.2,2845.5 C1493.7,2846.2 1495.6,2848.2 1497.2,2848.6 C1498.9,2848.9 1500.8,2847.9 1502.3,2847.6 C1503.8,2847.2 1505.0,2844.2 1506.3,2846.6 C1507.7,2848.9 1509.0,2855.0 1510.4,2861.7 C1511.7,2868.5 1513.1,2884.3 1514.4,2887.0 C1515.8,2889.7 1517.0,2879.9 1518.5,2877.9 C1520.0,2875.9 1521.8,2874.0 1523.5,2874.9 C1525.2,2875.7 1527.1,2883.8 1528.6,2882.9 C1530.1,2882.1 1531.1,2873.0 1532.6,2869.8 C1534.1,2866.6 1536.2,2863.4 1537.7,2863.7 C1539.2,2864.1 1540.2,2867.4 1541.7,2871.8 C1543.2,2876.2 1545.1,2888.7 1546.8,2890.0 C1548.5,2891.4 1550.0,2881.1 1551.8,2879.9 C1553.7,2878.7 1556.0,2880.9 1557.9,2882.9 C1559.7,2885.0 1561.1,2890.2 1562.9,2892.0 C1564.8,2893.9 1566.8,2891.9 1569.0,2894.1 C1571.2,2896.2 1574.1,2905.2 1576.1,2905.2 C1578.1,2905.2 1579.4,2898.6 1581.1,2894.1 C1582.8,2889.5 1584.5,2883.3 1586.2,2877.9 C1587.9,2872.5 1589.9,2864.9 1591.2,2861.7 C1592.6,2858.5 1593.1,2858.0 1594.3,2858.7 C1595.5,2859.4 1596.7,2860.7 1598.3,2865.8 C1599.9,2870.8 1602.2,2882.8 1603.8,2888.9 C1605.5,2895.1 1606.9,2897.3 1608.4,2902.7 C1610.0,2908.0 1611.5,2915.9 1613.0,2921.0 C1614.5,2926.2 1616.1,2931.3 1617.6,2933.6 C1619.1,2935.9 1620.6,2935.9 1622.2,2934.8 C1623.7,2933.6 1625.2,2928.9 1626.8,2926.8 C1628.3,2924.7 1629.6,2924.5 1631.3,2922.2 C1633.1,2919.9 1635.0,2914.3 1637.1,2913.0 C1639.2,2911.7 1641.6,2913.8 1643.9,2914.2 C1646.2,2914.5 1648.7,2914.3 1650.8,2915.3 C1652.9,2916.3 1654.8,2918.9 1656.5,2919.9 C1658.3,2920.8 1659.6,2920.1 1661.1,2921.0 C1662.6,2922.0 1664.0,2925.0 1665.7,2925.6 C1667.4,2926.2 1669.5,2924.5 1671.4,2924.5 C1673.3,2924.5 1675.2,2925.6 1677.2,2925.6 C1679.1,2925.6 1681.2,2924.1 1682.9,2924.5 C1684.6,2924.8 1685.7,2925.8 1687.5,2927.9 C1689.2,2930.0 1691.3,2934.2 1693.2,2937.1 C1695.1,2939.9 1696.8,2944.9 1698.9,2945.1 C1701.0,2945.3 1703.1,2939.6 1705.8,2938.2 C1708.5,2936.8 1712.3,2937.2 1715.0,2936.6 C1717.6,2936.0 1719.2,2934.1 1721.8,2934.8 C1724.5,2935.4 1728.3,2939.4 1731.0,2940.5 C1733.7,2941.6 1735.6,2940.5 1737.9,2941.6 C1740.2,2942.8 1742.1,2946.6 1744.7,2947.4 C1747.4,2948.1 1750.9,2946.4 1753.9,2946.2 C1757.0,2946.0 1760.0,2945.8 1763.1,2946.2 C1766.1,2946.7 1769.6,2948.0 1772.2,2949.0 C1774.9,2949.9 1776.4,2950.5 1779.1,2952.0 C1781.8,2953.4 1785.2,2956.7 1788.3,2957.7 C1791.3,2958.7 1794.0,2958.1 1797.4,2958.1 C1800.9,2958.2 1805.1,2957.6 1808.9,2958.1 C1812.7,2958.6 1816.9,2959.9 1820.4,2961.1 C1823.8,2962.4 1826.5,2964.4 1829.5,2965.7 C1832.6,2967.0 1835.6,2968.6 1838.7,2969.1 C1841.7,2969.6 1844.8,2969.4 1847.8,2968.7 C1850.9,2968.0 1854.5,2965.3 1857.0,2965.0 C1859.5,2964.7 1860.6,2965.8 1862.7,2966.8 C1864.8,2967.9 1867.1,2970.3 1869.6,2971.4 C1872.1,2972.6 1874.8,2973.1 1877.6,2973.7 C1880.5,2974.3 1885.3,2974.7 1886.8,2974.9" stroke="#ee5566" stroke-width="5.4"/>
<path d="M404.0,2390.1 C405.4,2389.9 409.5,2389.8 412.6,2389.2 C415.8,2388.5 419.4,2386.9 422.7,2386.1 C426.1,2385.4 429.1,2385.3 432.9,2384.9 C436.6,2384.4 441.3,2384.7 445.5,2383.4 C449.7,2382.0 453.9,2376.8 458.1,2376.5 C462.3,2376.2 466.5,2379.8 470.8,2381.6 C475.0,2383.4 479.6,2386.8 483.4,2387.4 C487.2,2388.0 489.7,2387.2 493.5,2385.4 C497.3,2383.6 502.4,2378.9 506.1,2376.5 C509.9,2374.2 512.9,2373.0 516.2,2371.5 C519.6,2369.9 523.4,2366.8 526.4,2367.2 C529.3,2367.6 531.2,2371.0 533.9,2374.0 C536.7,2377.0 539.8,2384.3 542.8,2385.4 C545.7,2386.4 548.0,2383.1 551.6,2380.3 C555.2,2377.6 560.1,2372.1 564.3,2369.0 C568.5,2365.8 573.1,2363.1 576.9,2361.4 C580.7,2359.7 584.3,2357.8 587.0,2358.8 C589.7,2359.9 591.2,2362.0 593.3,2367.7 C595.4,2373.4 597.4,2386.0 599.6,2393.0 C601.9,2399.9 604.4,2409.4 606.7,2409.4 C609.0,2409.4 611.4,2400.8 613.5,2393.0 C615.7,2385.2 618.5,2369.4 619.9,2362.6 C621.2,2355.9 620.7,2355.0 621.5,2352.3 C622.3,2349.6 623.5,2347.7 624.5,2346.4 C625.5,2345.0 626.3,2343.4 627.4,2344.1 C628.6,2344.9 629.4,2349.6 631.1,2350.8 C632.9,2352.1 635.7,2351.7 637.8,2351.6 C639.9,2351.4 642.0,2351.7 643.8,2350.1 C645.5,2348.5 646.5,2342.0 648.2,2341.9 C649.9,2341.8 652.3,2344.6 654.1,2349.3 C655.9,2354.0 657.0,2364.2 659.0,2370.2 C661.1,2376.2 664.1,2384.3 666.6,2385.4 C669.1,2386.4 671.5,2381.0 674.2,2376.5 C676.9,2372.1 680.8,2362.4 683.0,2358.8 C685.3,2355.3 684.2,2356.8 687.5,2355.3 C690.8,2353.7 699.7,2352.5 703.1,2349.3 C706.4,2346.1 705.6,2338.6 707.5,2336.0 C709.4,2333.4 712.3,2332.8 714.2,2333.8 C716.0,2334.8 717.5,2339.7 718.6,2341.9 C719.7,2344.1 719.7,2345.9 720.8,2347.1 C722.0,2348.3 724.0,2346.5 725.3,2349.3 C726.6,2352.1 726.7,2359.8 728.5,2363.9 C730.3,2368.0 733.6,2374.9 736.1,2374.0 C738.6,2373.2 741.2,2359.6 743.7,2358.8 C746.2,2358.1 748.7,2368.9 751.3,2369.7 C753.8,2370.6 756.3,2367.0 758.9,2363.9 C761.4,2360.8 764.9,2355.7 766.8,2350.8 C768.7,2345.9 769.4,2340.9 770.5,2334.5 C771.6,2328.1 771.9,2310.6 773.5,2312.6 C775.1,2314.7 777.9,2335.7 780.1,2346.9 C782.2,2358.1 784.5,2373.4 786.4,2379.8 C788.3,2386.1 789.5,2387.8 791.4,2384.8 C793.3,2381.9 795.8,2373.4 797.7,2362.1 C799.6,2350.7 801.3,2327.9 802.8,2316.6 C804.3,2305.2 805.1,2297.4 806.6,2293.8 C808.1,2290.3 809.5,2296.4 811.6,2295.1 C813.7,2293.8 816.6,2289.5 819.2,2286.2 C821.8,2283.0 824.8,2275.6 827.3,2275.6 C829.8,2275.6 832.4,2278.2 834.4,2286.2 C836.4,2294.3 837.8,2314.0 839.4,2324.2 C841.1,2334.3 843.0,2341.4 844.5,2346.9 C846.0,2352.4 847.0,2357.9 848.3,2357.0 C849.6,2356.2 850.8,2347.7 852.1,2341.8 C853.3,2336.0 854.2,2331.3 855.9,2321.6 C857.6,2311.9 859.9,2294.9 862.2,2283.7 C864.5,2272.6 867.5,2256.8 869.8,2254.7 C872.1,2252.6 874.2,2267.9 876.1,2271.1 C878.0,2274.2 879.5,2273.6 881.1,2273.6 C882.8,2273.6 884.5,2269.0 886.2,2271.1 C887.9,2273.2 889.6,2280.4 891.2,2286.2 C892.9,2292.1 894.6,2296.4 896.3,2306.5 C898.0,2316.6 899.9,2334.7 901.4,2346.9 C902.8,2359.1 903.7,2373.0 905.1,2379.8 C906.6,2386.5 908.5,2380.2 910.2,2387.3 C911.9,2394.5 913.6,2413.9 915.3,2422.7 C916.9,2431.6 918.4,2437.0 920.3,2440.4 C922.2,2443.8 924.7,2444.2 926.6,2442.9 C928.5,2441.7 929.8,2443.8 931.7,2432.8 C933.6,2421.9 936.1,2393.2 938.0,2377.2 C939.9,2361.2 941.4,2344.4 943.1,2336.8 C944.7,2329.2 946.2,2330.1 948.1,2331.7 C950.0,2333.4 952.5,2338.1 954.4,2346.9 C956.3,2355.7 957.8,2374.7 959.5,2384.8 C961.2,2394.9 962.9,2402.9 964.5,2407.6 C966.2,2412.2 967.9,2414.3 969.6,2412.6 C971.3,2410.9 973.0,2408.4 974.6,2397.4 C976.3,2386.5 978.0,2358.7 979.7,2346.9 C981.4,2335.1 983.2,2332.1 984.8,2326.7 C986.4,2321.3 987.6,2313.3 989.3,2314.6 C991.0,2315.8 992.9,2329.5 994.9,2334.3 C996.8,2339.0 999.1,2343.1 1001.2,2343.1 C1003.3,2343.1 1005.4,2337.8 1007.5,2334.3 C1009.6,2330.7 1011.9,2325.0 1013.8,2321.6 C1015.7,2318.3 1017.2,2312.4 1018.9,2314.0 C1020.6,2315.7 1022.2,2323.7 1023.9,2331.7 C1025.6,2339.7 1027.5,2355.7 1029.0,2362.1 C1030.5,2368.4 1031.3,2371.3 1032.8,2369.6 C1034.2,2368.0 1035.9,2360.8 1037.8,2352.0 C1039.7,2343.1 1042.1,2326.2 1044.1,2316.6 C1046.2,2307.0 1048.1,2295.2 1050.0,2294.3 C1051.9,2293.5 1053.5,2307.4 1055.5,2311.5 C1057.5,2315.6 1059.7,2315.9 1061.8,2319.1 C1063.9,2322.3 1066.0,2331.3 1068.2,2330.5 C1070.3,2329.6 1072.6,2318.7 1074.5,2314.0 C1076.4,2309.4 1077.6,2304.4 1079.5,2302.7 C1081.4,2301.0 1083.9,2300.8 1085.8,2303.9 C1087.7,2307.1 1089.2,2313.2 1090.9,2321.6 C1092.5,2330.1 1094.6,2346.3 1095.8,2354.7 C1097.0,2363.1 1097.0,2368.1 1098.1,2372.1 C1099.1,2376.2 1100.8,2378.5 1102.1,2379.2 C1103.5,2379.9 1104.8,2380.7 1106.2,2376.2 C1107.5,2371.6 1109.0,2356.6 1110.2,2351.9 C1111.4,2347.2 1112.2,2346.2 1113.2,2347.9 C1114.3,2349.6 1115.3,2355.3 1116.3,2362.0 C1117.3,2368.8 1118.3,2378.2 1119.3,2388.3 C1120.3,2398.4 1121.3,2411.9 1122.3,2422.7 C1123.4,2433.5 1124.5,2445.1 1125.4,2453.0 C1126.2,2460.9 1126.0,2458.6 1127.4,2470.0 C1128.7,2481.3 1131.6,2511.9 1133.5,2521.1 C1135.3,2530.3 1137.0,2526.1 1138.5,2525.1 C1140.0,2524.1 1141.2,2517.7 1142.6,2515.0 C1143.9,2512.3 1145.3,2506.9 1146.6,2508.9 C1147.9,2511.0 1149.3,2528.5 1150.6,2527.1 C1152.0,2525.8 1153.2,2509.6 1154.7,2500.9 C1156.2,2492.1 1158.1,2479.3 1159.7,2474.6 C1161.4,2469.9 1163.1,2474.1 1164.8,2472.6 C1166.5,2471.0 1168.2,2466.0 1169.8,2465.5 C1171.5,2465.0 1172.9,2469.4 1174.9,2469.5 C1176.9,2469.7 1179.6,2468.7 1182.0,2466.5 C1184.3,2464.3 1187.2,2455.4 1189.0,2456.4 C1190.9,2457.4 1191.6,2467.3 1193.1,2472.6 C1194.6,2477.8 1196.5,2485.7 1198.1,2487.7 C1199.8,2489.7 1201.3,2487.9 1203.2,2484.7 C1205.1,2481.5 1207.4,2472.6 1209.3,2468.5 C1211.1,2464.5 1212.6,2463.5 1214.3,2460.4 C1216.0,2457.4 1217.7,2449.3 1219.4,2450.3 C1221.1,2451.3 1222.4,2461.8 1224.4,2466.5 C1226.4,2471.2 1229.1,2475.7 1231.5,2478.6 C1233.9,2481.6 1236.4,2485.0 1238.6,2484.3 C1240.8,2483.6 1242.8,2477.5 1244.6,2474.6 C1246.5,2471.6 1247.8,2467.5 1249.7,2466.5 C1251.5,2465.5 1253.9,2469.9 1255.8,2468.5 C1257.6,2467.2 1259.2,2461.4 1260.8,2458.4 C1262.4,2455.4 1263.9,2450.0 1265.5,2450.3 C1267.0,2450.7 1268.3,2456.0 1269.9,2460.4 C1271.5,2464.8 1273.1,2473.6 1275.0,2476.6 C1276.8,2479.6 1279.3,2474.6 1281.0,2478.6 C1282.7,2482.7 1283.7,2493.1 1285.1,2500.9 C1286.4,2508.6 1287.8,2518.9 1289.1,2525.1 C1290.5,2531.3 1291.8,2537.6 1293.2,2538.3 C1294.5,2538.9 1295.8,2530.0 1297.2,2529.2 C1298.5,2528.3 1299.9,2531.5 1301.2,2533.2 C1302.6,2534.9 1303.9,2541.3 1305.3,2539.3 C1306.6,2537.2 1308.0,2527.5 1309.3,2521.1 C1310.7,2514.7 1311.7,2505.6 1313.4,2500.9 C1315.1,2496.1 1317.9,2496.5 1319.4,2492.8 C1320.9,2489.1 1321.5,2482.5 1322.5,2478.6 C1323.5,2474.7 1324.3,2469.2 1325.5,2469.5 C1326.7,2469.9 1328.2,2475.4 1329.5,2480.6 C1330.9,2485.9 1332.1,2496.5 1333.6,2500.9 C1335.1,2505.2 1337.1,2501.5 1338.6,2506.9 C1340.2,2512.3 1341.3,2525.5 1342.7,2533.2 C1344.0,2540.9 1345.4,2548.7 1346.7,2553.4 C1348.1,2558.1 1349.4,2562.8 1350.8,2561.5 C1352.1,2560.2 1353.3,2549.7 1354.8,2545.3 C1356.3,2540.9 1358.3,2538.6 1359.9,2535.2 C1361.4,2531.9 1362.6,2531.5 1363.9,2525.1 C1365.3,2518.7 1366.6,2504.7 1367.9,2496.8 C1369.3,2488.9 1370.5,2479.0 1372.0,2477.6 C1373.5,2476.3 1375.5,2485.5 1377.0,2488.7 C1378.6,2491.9 1379.9,2494.8 1381.1,2496.8 C1382.3,2498.8 1382.7,2500.0 1384.0,2500.6 C1385.4,2501.3 1387.6,2496.6 1389.1,2500.6 C1390.6,2504.7 1391.8,2517.2 1393.1,2524.9 C1394.5,2532.6 1395.7,2542.1 1397.2,2547.1 C1398.7,2552.2 1400.6,2553.0 1402.2,2555.2 C1403.9,2557.4 1405.6,2561.3 1407.3,2560.3 C1409.0,2559.3 1410.7,2554.4 1412.3,2549.2 C1414.0,2543.9 1415.7,2537.4 1417.4,2528.9 C1419.1,2520.5 1420.8,2506.7 1422.4,2498.6 C1424.1,2490.5 1426.0,2484.3 1427.5,2480.4 C1429.0,2476.6 1430.2,2475.9 1431.5,2475.4 C1432.9,2474.9 1434.2,2472.5 1435.6,2477.4 C1436.9,2482.3 1438.3,2493.4 1439.6,2504.7 C1441.0,2516.0 1442.3,2529.6 1443.7,2545.1 C1445.0,2560.6 1446.5,2586.2 1447.7,2597.7 C1449.0,2609.1 1450.0,2613.2 1451.2,2613.8 C1452.3,2614.5 1453.5,2610.5 1454.8,2601.7 C1456.1,2593.0 1457.5,2575.4 1458.8,2561.3 C1460.2,2547.1 1461.7,2529.3 1462.9,2516.8 C1464.1,2504.3 1464.9,2493.4 1465.9,2486.5 C1466.9,2479.6 1467.9,2475.4 1468.9,2475.4 C1470.0,2475.4 1471.0,2479.6 1472.0,2486.5 C1473.0,2493.4 1473.8,2511.4 1475.0,2516.8 C1476.2,2522.2 1477.5,2518.2 1479.0,2518.8 C1480.6,2519.5 1482.6,2517.5 1484.1,2520.9 C1485.6,2524.2 1486.6,2535.7 1488.1,2539.0 C1489.7,2542.4 1491.3,2540.9 1493.2,2541.1 C1495.1,2541.2 1497.2,2539.7 1499.3,2540.1 C1501.3,2540.4 1503.6,2546.3 1505.3,2543.1 C1507.0,2539.9 1508.2,2528.3 1509.4,2520.9 C1510.6,2513.4 1511.3,2503.7 1512.4,2498.6 C1513.5,2493.6 1514.7,2489.5 1515.8,2490.5 C1517.0,2491.5 1518.0,2501.3 1519.5,2504.7 C1520.9,2508.1 1523.0,2511.3 1524.5,2510.7 C1526.0,2510.2 1527.2,2500.0 1528.6,2501.7 C1529.9,2503.3 1531.3,2514.6 1532.6,2520.9 C1534.0,2527.1 1535.5,2535.7 1536.7,2539.0 C1537.8,2542.4 1538.5,2543.4 1539.7,2541.1 C1540.9,2538.7 1542.5,2530.3 1543.7,2524.9 C1545.0,2519.5 1546.0,2509.1 1547.4,2508.7 C1548.7,2508.4 1550.2,2520.9 1551.8,2522.9 C1553.4,2524.9 1555.2,2523.2 1556.9,2520.9 C1558.6,2518.5 1560.2,2511.1 1561.9,2508.7 C1563.6,2506.4 1565.3,2507.7 1567.0,2506.7 C1568.7,2505.7 1570.4,2504.3 1572.0,2502.7 C1573.7,2501.0 1575.6,2495.6 1577.1,2496.6 C1578.6,2497.6 1579.8,2503.7 1581.1,2508.7 C1582.5,2513.8 1583.8,2519.8 1585.2,2526.9 C1586.5,2534.0 1587.9,2544.8 1589.2,2551.2 C1590.6,2557.6 1591.9,2563.6 1593.3,2565.3 C1594.6,2567.0 1596.0,2565.3 1597.3,2561.3 C1598.7,2557.2 1599.8,2547.1 1601.3,2541.1 C1602.9,2535.0 1604.7,2532.0 1606.4,2524.9 C1608.1,2517.8 1609.8,2506.4 1611.5,2498.6 C1613.1,2490.9 1614.8,2482.8 1616.5,2478.4 C1618.2,2474.0 1620.0,2472.3 1621.6,2472.3 C1623.1,2472.3 1624.1,2474.7 1625.6,2478.4 C1627.1,2482.1 1629.0,2490.2 1630.7,2494.6 C1632.3,2499.0 1634.2,2502.4 1635.7,2504.7 C1637.3,2507.0 1638.1,2508.5 1640.0,2508.3 C1641.9,2508.2 1644.4,2506.0 1647.0,2503.9 C1649.6,2501.9 1652.8,2498.0 1655.8,2496.1 C1658.7,2494.2 1661.9,2492.0 1664.5,2492.6 C1667.2,2493.1 1669.3,2498.3 1671.5,2499.6 C1673.7,2500.9 1675.8,2500.0 1677.7,2500.4 C1679.6,2500.9 1681.3,2502.5 1682.9,2502.2 C1684.5,2501.9 1685.7,2500.9 1687.3,2498.7 C1688.9,2496.5 1691.0,2492.0 1692.6,2489.1 C1694.2,2486.1 1695.6,2482.5 1696.9,2481.2 C1698.3,2479.9 1699.3,2479.9 1700.4,2481.2 C1701.6,2482.5 1702.8,2486.6 1703.9,2489.1 C1705.1,2491.5 1705.8,2494.9 1707.5,2496.1 C1709.1,2497.2 1711.7,2496.0 1713.6,2496.1 C1715.5,2496.1 1717.2,2496.1 1718.8,2496.4 C1720.4,2496.7 1721.3,2498.3 1723.2,2497.8 C1725.1,2497.3 1728.3,2493.7 1730.2,2493.4 C1732.1,2493.1 1733.1,2495.7 1734.6,2496.1 C1736.1,2496.4 1737.2,2496.9 1739.0,2495.7 C1740.7,2494.5 1743.1,2491.5 1745.1,2489.1 C1747.2,2486.6 1749.5,2482.3 1751.3,2481.2 C1753.0,2480.0 1754.0,2481.8 1755.6,2482.0 C1757.2,2482.3 1759.1,2482.2 1760.9,2482.9 C1762.6,2483.7 1764.1,2486.1 1766.1,2486.4 C1768.2,2486.7 1770.8,2484.8 1773.2,2484.7 C1775.5,2484.6 1777.8,2485.9 1780.2,2485.9 C1782.5,2485.9 1784.8,2484.4 1787.2,2484.7 C1789.5,2484.9 1792.0,2486.4 1794.2,2487.3 C1796.4,2488.2 1798.3,2489.5 1800.3,2489.9 C1802.4,2490.4 1804.3,2490.4 1806.4,2489.9 C1808.6,2489.4 1811.4,2487.7 1813.4,2487.0 C1815.5,2486.2 1816.7,2485.4 1818.7,2485.2 C1820.7,2485.0 1823.4,2485.1 1825.7,2485.6 C1828.1,2486.0 1830.1,2487.9 1832.7,2488.2 C1835.4,2488.5 1838.6,2487.4 1841.5,2487.3 C1844.4,2487.2 1847.3,2487.7 1850.2,2487.7 C1853.2,2487.7 1856.1,2487.4 1859.0,2487.3 C1861.9,2487.2 1864.7,2486.8 1867.8,2487.0 C1870.8,2487.1 1874.5,2488.0 1877.4,2488.2 C1880.3,2488.4 1884.0,2488.2 1885.3,2488.2" stroke="#aa5fa2" stroke-width="5.4"/>
<path d="M404.0,2661.5 C405.4,2661.3 409.1,2661.1 412.6,2660.1 C416.2,2659.2 420.6,2656.7 425.3,2655.6 C429.9,2654.5 435.8,2654.6 440.4,2653.6 C445.1,2652.5 448.9,2650.6 453.1,2649.3 C457.3,2647.9 461.5,2646.1 465.7,2645.5 C469.9,2644.9 474.3,2645.4 478.3,2645.5 C482.3,2645.6 485.1,2647.3 489.7,2646.0 C494.3,2644.7 500.9,2640.3 506.1,2637.9 C511.4,2635.5 517.1,2632.8 521.3,2631.6 C525.5,2630.4 528.0,2630.2 531.4,2630.8 C534.8,2631.5 538.2,2636.0 541.5,2635.6 C544.9,2635.1 547.8,2630.3 551.6,2628.0 C555.4,2625.7 560.1,2623.8 564.3,2621.7 C568.5,2619.6 573.1,2616.8 576.9,2615.4 C580.7,2613.9 584.1,2612.2 587.0,2612.8 C590.0,2613.5 592.1,2616.4 594.6,2619.1 C597.1,2621.9 600.1,2627.3 602.2,2629.3 C604.3,2631.2 605.1,2632.1 607.2,2631.0 C609.3,2630.0 612.3,2627.2 614.8,2622.9 C617.3,2618.6 620.3,2608.8 622.4,2605.2 C624.5,2601.7 625.3,2601.9 627.4,2601.5 C629.6,2601.0 632.5,2603.1 635.0,2602.7 C637.6,2602.3 640.1,2600.4 642.6,2598.9 C645.1,2597.5 647.7,2593.0 650.2,2593.9 C652.7,2594.7 655.2,2601.5 657.8,2604.0 C660.3,2606.5 662.8,2608.8 665.4,2609.0 C667.9,2609.2 669.6,2608.0 672.9,2605.2 C676.3,2602.5 681.8,2595.6 685.6,2592.6 C689.4,2589.7 692.3,2590.1 695.7,2587.6 C699.0,2585.0 702.4,2580.2 705.8,2577.4 C709.2,2574.7 712.5,2572.0 715.9,2571.1 C719.3,2570.3 722.8,2570.9 726.0,2572.4 C729.2,2573.9 732.3,2579.8 734.8,2580.0 C737.4,2580.2 739.1,2575.8 741.2,2573.7 C743.3,2571.5 745.0,2568.1 747.5,2567.3 C750.0,2566.6 753.2,2570.4 756.3,2569.4 C759.5,2568.3 762.1,2561.9 766.4,2561.0 C770.8,2560.1 778.6,2563.0 782.6,2564.0 C786.5,2565.1 787.8,2568.3 790.2,2567.1 C792.5,2565.8 794.6,2562.9 796.5,2556.5 C798.4,2550.1 799.6,2535.0 801.5,2528.7 C803.4,2522.4 805.5,2521.5 807.9,2518.6 C810.2,2515.6 812.9,2513.9 815.4,2511.0 C818.0,2508.0 820.7,2503.4 823.0,2500.9 C825.3,2498.3 827.2,2495.4 829.3,2495.8 C831.4,2496.2 833.5,2500.2 835.7,2503.4 C837.8,2506.6 839.9,2512.7 842.0,2514.8 C844.1,2516.9 846.4,2519.2 848.3,2516.0 C850.2,2512.9 851.4,2504.7 853.3,2495.8 C855.2,2487.0 857.8,2471.6 859.7,2463.0 C861.6,2454.3 863.0,2447.9 864.7,2444.0 C866.4,2440.2 868.1,2438.8 869.8,2439.9 C871.5,2441.0 872.9,2445.2 874.8,2450.3 C876.7,2455.4 878.8,2463.8 881.1,2470.5 C883.5,2477.3 886.2,2486.5 888.7,2490.8 C891.2,2495.0 894.2,2489.9 896.3,2495.8 C898.4,2501.7 899.3,2519.0 901.4,2526.1 C903.5,2533.3 906.6,2532.9 908.9,2538.8 C911.3,2544.7 913.4,2557.1 915.3,2561.5 C917.2,2565.9 918.4,2565.1 920.3,2565.3 C922.2,2565.5 924.3,2564.7 926.6,2562.8 C928.9,2560.9 932.1,2559.6 934.2,2553.9 C936.3,2548.3 937.4,2535.2 939.3,2528.7 C941.2,2522.1 943.5,2516.9 945.6,2514.8 C947.7,2512.7 949.6,2512.9 951.9,2516.0 C954.2,2519.2 957.0,2529.6 959.5,2533.7 C962.0,2537.9 964.5,2541.2 967.1,2540.8 C969.6,2540.4 972.5,2535.7 974.6,2531.2 C976.8,2526.6 978.0,2519.0 979.7,2513.5 C981.4,2508.0 982.6,2501.7 984.8,2498.3 C986.9,2495.0 989.4,2493.7 992.3,2493.3 C995.3,2492.9 999.1,2497.1 1002.4,2495.8 C1005.8,2494.6 1009.4,2489.3 1012.6,2485.7 C1015.7,2482.1 1018.5,2474.3 1021.4,2474.3 C1024.3,2474.3 1027.5,2485.9 1030.2,2485.7 C1033.0,2485.5 1035.3,2479.0 1037.8,2473.1 C1040.4,2467.2 1042.5,2455.2 1045.4,2450.3 C1048.4,2445.5 1052.1,2445.7 1055.5,2444.0 C1058.9,2442.4 1062.7,2444.0 1065.6,2440.4 C1068.6,2436.9 1071.1,2427.3 1073.2,2422.7 C1075.3,2418.1 1075.7,2416.0 1078.3,2412.6 C1080.8,2409.2 1085.5,2403.5 1088.4,2402.5 C1091.3,2401.5 1094.1,2405.6 1095.8,2406.4 C1097.4,2407.2 1097.0,2408.0 1098.1,2407.5 C1099.1,2407.0 1100.8,2405.3 1102.1,2403.5 C1103.5,2401.6 1104.8,2398.8 1106.2,2396.4 C1107.5,2394.0 1108.9,2390.8 1110.2,2389.3 C1111.6,2387.8 1113.1,2385.1 1114.3,2387.3 C1115.4,2389.5 1116.3,2395.6 1117.3,2402.5 C1118.3,2409.4 1119.1,2419.6 1120.3,2428.7 C1121.5,2437.8 1123.4,2450.2 1124.4,2457.0 C1125.4,2463.9 1125.7,2465.0 1126.4,2470.0 C1127.1,2474.9 1127.2,2477.5 1128.4,2486.7 C1129.6,2495.9 1131.6,2511.3 1133.5,2525.1 C1135.3,2538.9 1137.5,2559.5 1139.5,2569.6 C1141.5,2579.7 1143.9,2580.4 1145.6,2585.8 C1147.3,2591.1 1148.1,2597.0 1149.6,2601.9 C1151.1,2606.8 1152.8,2613.7 1154.7,2615.1 C1156.5,2616.4 1158.9,2609.8 1160.7,2610.0 C1162.6,2610.2 1164.1,2614.7 1165.8,2616.1 C1167.5,2617.4 1169.0,2616.1 1170.9,2618.1 C1172.7,2620.1 1174.9,2625.5 1176.9,2628.2 C1178.9,2630.9 1181.0,2631.9 1183.0,2634.3 C1185.0,2636.6 1187.0,2640.0 1189.0,2642.4 C1191.1,2644.7 1193.3,2646.6 1195.1,2648.4 C1197.0,2650.3 1198.3,2652.8 1200.2,2653.5 C1202.0,2654.1 1204.0,2653.3 1206.2,2652.5 C1208.4,2651.6 1210.9,2649.6 1213.3,2648.4 C1215.7,2647.2 1218.4,2644.7 1220.4,2645.4 C1222.4,2646.1 1223.6,2649.9 1225.4,2652.5 C1227.3,2655.0 1229.1,2658.5 1231.5,2660.5 C1233.9,2662.6 1237.1,2664.3 1239.6,2664.6 C1242.1,2664.9 1244.6,2663.2 1246.7,2662.6 C1248.7,2661.9 1249.9,2660.5 1251.7,2660.5 C1253.6,2660.5 1255.8,2662.7 1257.8,2662.6 C1259.8,2662.4 1261.8,2659.2 1263.8,2659.5 C1265.9,2659.9 1267.9,2662.4 1269.9,2664.6 C1271.9,2666.8 1273.9,2671.0 1276.0,2672.7 C1278.0,2674.4 1280.2,2672.0 1282.0,2674.7 C1283.9,2677.4 1285.4,2686.2 1287.1,2688.8 C1288.8,2691.5 1290.3,2690.9 1292.1,2690.9 C1294.0,2690.9 1296.2,2687.8 1298.2,2688.8 C1300.2,2689.9 1302.4,2696.1 1304.3,2696.9 C1306.1,2697.8 1307.6,2696.3 1309.3,2693.9 C1311.0,2691.5 1312.5,2685.6 1314.4,2682.8 C1316.2,2679.9 1318.4,2677.9 1320.4,2676.7 C1322.5,2675.5 1324.5,2674.4 1326.5,2675.7 C1328.5,2677.1 1330.4,2682.3 1332.6,2684.8 C1334.8,2687.3 1337.6,2687.8 1339.6,2690.9 C1341.7,2693.9 1343.0,2699.3 1344.7,2703.0 C1346.4,2706.7 1348.1,2712.3 1349.8,2713.1 C1351.4,2713.9 1353.0,2709.4 1354.8,2708.1 C1356.7,2706.7 1358.8,2706.5 1360.9,2705.0 C1362.9,2703.5 1364.9,2701.3 1366.9,2699.0 C1369.0,2696.6 1371.0,2692.6 1373.0,2690.9 C1375.0,2689.2 1377.1,2688.4 1379.1,2688.8 C1381.1,2689.3 1383.5,2692.7 1385.1,2693.7 C1386.6,2694.7 1386.6,2692.5 1388.1,2694.7 C1389.6,2696.9 1392.1,2703.5 1394.1,2706.8 C1396.2,2710.2 1397.9,2712.7 1400.2,2714.9 C1402.6,2717.1 1405.6,2720.6 1408.3,2720.0 C1411.0,2719.3 1413.9,2714.7 1416.4,2710.9 C1418.9,2707.0 1421.3,2700.8 1423.5,2696.7 C1425.7,2692.7 1427.7,2688.1 1429.5,2686.6 C1431.4,2685.1 1433.1,2684.9 1434.6,2687.6 C1436.1,2690.3 1437.3,2696.9 1438.6,2702.8 C1440.0,2708.7 1441.3,2717.1 1442.7,2723.0 C1444.0,2728.9 1445.4,2734.8 1446.7,2738.4 C1448.1,2742.0 1449.4,2744.3 1450.7,2744.5 C1452.1,2744.6 1452.6,2745.4 1454.8,2739.4 C1457.0,2733.5 1461.5,2715.6 1463.9,2708.8 C1466.2,2702.1 1467.1,2699.4 1468.9,2698.7 C1470.8,2698.1 1473.0,2702.8 1475.0,2704.8 C1477.0,2706.8 1479.0,2709.4 1481.1,2710.9 C1483.1,2712.4 1485.1,2712.4 1487.1,2713.9 C1489.2,2715.4 1491.2,2718.8 1493.2,2720.0 C1495.2,2721.1 1495.2,2720.6 1499.3,2721.0 C1503.3,2721.3 1513.1,2722.3 1517.5,2722.0 C1521.8,2721.7 1522.8,2719.1 1525.5,2719.0 C1528.2,2718.8 1531.8,2719.1 1533.6,2721.0 C1535.5,2722.9 1535.3,2728.6 1536.7,2730.3 C1538.0,2732.0 1539.9,2733.2 1541.7,2731.3 C1543.6,2729.4 1545.4,2721.4 1547.8,2719.0 C1550.1,2716.6 1553.5,2716.3 1555.9,2716.9 C1558.2,2717.6 1559.7,2722.0 1561.9,2723.0 C1564.1,2724.0 1566.8,2723.5 1569.0,2723.0 C1571.2,2722.5 1572.9,2718.7 1575.1,2720.0 C1577.3,2721.2 1580.0,2726.2 1582.1,2730.3 C1584.3,2734.4 1586.2,2740.8 1588.2,2744.5 C1590.2,2748.2 1592.2,2752.2 1594.3,2752.6 C1596.3,2752.9 1598.5,2749.5 1600.3,2746.5 C1602.2,2743.5 1603.7,2738.1 1605.4,2734.4 C1607.1,2730.6 1608.8,2726.9 1610.4,2724.0 C1612.1,2721.1 1613.8,2718.5 1615.5,2716.9 C1617.2,2715.4 1618.7,2714.2 1620.5,2714.9 C1622.4,2715.6 1624.3,2718.7 1626.6,2721.0 C1629.0,2723.2 1632.5,2726.3 1634.7,2728.3 C1636.9,2730.3 1637.7,2732.4 1640.0,2732.9 C1642.3,2733.5 1645.8,2732.5 1648.8,2731.7 C1651.7,2730.9 1654.7,2728.8 1657.5,2728.2 C1660.3,2727.6 1662.9,2727.2 1665.4,2728.2 C1667.9,2729.2 1669.9,2732.6 1672.4,2734.3 C1674.9,2736.1 1678.1,2738.1 1680.3,2738.7 C1682.5,2739.3 1683.5,2739.0 1685.6,2737.8 C1687.6,2736.7 1690.5,2733.3 1692.6,2731.7 C1694.6,2730.1 1696.1,2728.1 1697.8,2728.2 C1699.6,2728.4 1701.3,2731.1 1703.1,2732.6 C1704.8,2734.0 1706.6,2735.8 1708.3,2737.0 C1710.1,2738.1 1711.5,2739.4 1713.6,2739.6 C1715.6,2739.7 1718.0,2738.3 1720.6,2737.8 C1723.2,2737.4 1727.0,2736.5 1729.4,2737.0 C1731.7,2737.4 1732.6,2739.9 1734.6,2740.5 C1736.7,2741.1 1739.3,2741.3 1741.6,2740.5 C1744.0,2739.6 1746.6,2736.8 1748.6,2735.2 C1750.7,2733.6 1751.8,2731.4 1753.9,2730.8 C1755.9,2730.3 1758.6,2730.5 1760.9,2731.7 C1763.2,2732.9 1765.3,2736.5 1767.9,2737.8 C1770.5,2739.2 1773.4,2739.1 1776.7,2739.6 C1779.9,2740.1 1783.7,2740.0 1787.2,2741.0 C1790.7,2742.0 1794.5,2745.1 1797.7,2745.7 C1800.9,2746.4 1803.8,2745.2 1806.4,2744.9 C1809.1,2744.5 1811.1,2743.3 1813.4,2743.4 C1815.8,2743.6 1818.1,2744.9 1820.5,2745.7 C1822.8,2746.5 1825.1,2747.9 1827.5,2748.4 C1829.8,2748.8 1831.8,2748.5 1834.5,2748.4 C1837.1,2748.2 1840.3,2747.2 1843.2,2747.5 C1846.2,2747.7 1848.8,2748.9 1852.0,2749.8 C1855.2,2750.6 1859.3,2751.9 1862.5,2752.7 C1865.7,2753.5 1868.8,2754.0 1871.3,2754.5 C1873.7,2754.9 1875.1,2755.1 1877.4,2755.4 C1879.7,2755.7 1884.0,2756.1 1885.3,2756.2" stroke="#c9b94c" stroke-width="5.4"/>
<path d="M404.0,2513.1 C405.4,2512.9 409.1,2512.7 412.6,2511.7 C416.2,2510.8 421.1,2507.4 425.3,2507.2 C429.5,2507.0 433.5,2509.3 437.9,2510.5 C442.3,2511.7 447.6,2514.5 451.8,2514.3 C456.0,2514.1 459.2,2511.1 463.2,2509.2 C467.2,2507.3 471.8,2504.9 475.8,2502.9 C479.8,2500.9 483.6,2497.1 487.2,2497.1 C490.8,2497.1 493.7,2501.2 497.3,2502.9 C500.9,2504.6 504.7,2506.9 508.7,2507.2 C512.7,2507.5 517.7,2505.4 521.3,2504.7 C524.9,2503.9 526.8,2505.1 530.1,2502.9 C533.5,2500.7 537.9,2493.8 541.5,2491.5 C545.1,2489.3 548.3,2489.1 551.6,2489.5 C555.0,2489.9 557.5,2493.1 561.7,2494.0 C566.0,2495.0 572.3,2495.9 576.9,2495.3 C581.5,2494.7 586.0,2494.7 589.5,2490.3 C593.1,2485.8 595.4,2474.0 598.4,2468.8 C601.3,2463.6 604.5,2459.4 607.2,2459.2 C610.0,2459.0 612.3,2463.4 614.8,2467.5 C617.3,2471.6 620.3,2480.4 622.4,2483.9 C624.5,2487.5 625.3,2489.0 627.4,2489.0 C629.6,2489.0 632.3,2485.2 635.0,2483.9 C637.8,2482.7 641.1,2482.0 643.9,2481.4 C646.6,2480.8 648.7,2483.9 651.5,2480.1 C654.2,2476.4 657.6,2463.6 660.3,2458.7 C663.0,2453.7 665.4,2451.1 667.9,2450.6 C670.4,2450.1 672.9,2453.4 675.5,2455.6 C678.0,2457.9 679.9,2464.6 683.0,2464.2 C686.2,2463.8 690.2,2453.8 694.4,2453.1 C698.6,2452.4 704.7,2459.6 708.3,2459.9 C711.9,2460.2 712.9,2458.7 715.9,2454.9 C718.8,2451.1 722.6,2442.1 726.0,2437.2 C729.4,2432.3 733.0,2426.4 736.1,2425.3 C739.3,2424.2 742.0,2432.4 745.0,2430.4 C747.9,2428.3 751.1,2416.1 753.8,2413.2 C756.5,2410.2 758.9,2410.6 761.4,2412.7 C763.9,2414.8 767.1,2421.5 769.0,2425.8 C770.9,2430.1 771.8,2436.9 772.8,2438.5 C773.8,2440.0 773.8,2440.5 775.0,2435.4 C776.2,2430.2 778.2,2415.1 780.1,2407.6 C781.9,2400.0 784.5,2393.3 786.4,2389.9 C788.3,2386.4 789.5,2385.6 791.4,2386.8 C793.3,2388.1 795.4,2391.5 797.7,2397.4 C800.1,2403.4 802.8,2419.6 805.3,2422.7 C807.9,2425.9 810.4,2417.0 812.9,2416.4 C815.4,2415.8 818.0,2419.1 820.5,2418.9 C823.0,2418.7 825.8,2419.6 828.1,2415.1 C830.4,2410.7 832.5,2402.9 834.4,2392.4 C836.3,2381.9 837.8,2362.1 839.4,2352.0 C841.1,2341.8 842.8,2337.0 844.5,2331.7 C846.2,2326.5 847.7,2321.6 849.6,2320.4 C851.4,2319.1 853.6,2321.4 855.9,2324.2 C858.2,2326.9 861.1,2332.2 863.5,2336.8 C865.8,2341.4 867.5,2346.5 869.8,2352.0 C872.1,2357.4 875.2,2362.5 877.4,2369.6 C879.5,2376.8 880.5,2386.1 882.4,2394.9 C884.3,2403.8 886.4,2416.2 888.7,2422.7 C891.0,2429.2 893.8,2435.1 896.3,2434.1 C898.8,2433.0 901.6,2420.0 903.9,2416.4 C906.2,2412.8 908.3,2415.8 910.2,2412.6 C912.1,2409.4 913.4,2401.0 915.3,2397.4 C917.2,2393.9 919.3,2391.1 921.6,2391.1 C923.9,2391.1 927.1,2393.9 929.2,2397.4 C931.3,2401.0 932.5,2406.7 934.2,2412.6 C935.9,2418.5 937.2,2426.5 939.3,2432.8 C941.4,2439.1 944.7,2448.4 946.8,2450.5 C949.0,2452.6 949.8,2451.8 951.9,2445.5 C954.0,2439.1 956.7,2420.6 959.5,2412.6 C962.2,2404.6 965.8,2399.1 968.3,2397.4 C970.9,2395.8 972.3,2397.4 974.6,2402.5 C977.0,2407.6 979.9,2422.1 982.2,2427.8 C984.5,2433.5 986.0,2438.7 988.5,2436.6 C991.1,2434.5 994.7,2419.8 997.4,2415.1 C1000.1,2410.5 1002.4,2409.7 1005.0,2408.8 C1007.5,2408.0 1010.2,2411.1 1012.6,2410.1 C1014.9,2409.0 1016.8,2409.2 1018.9,2402.5 C1021.0,2395.8 1022.9,2378.9 1025.2,2369.6 C1027.5,2360.4 1030.7,2349.0 1032.8,2346.9 C1034.9,2344.8 1035.9,2351.5 1037.8,2357.0 C1039.7,2362.5 1042.0,2373.9 1044.1,2379.8 C1046.2,2385.7 1048.1,2392.4 1050.5,2392.4 C1052.8,2392.4 1055.5,2384.8 1058.0,2379.8 C1060.6,2374.7 1063.3,2365.9 1065.6,2362.1 C1067.9,2358.3 1069.8,2356.6 1071.9,2357.0 C1074.0,2357.4 1076.2,2365.0 1078.3,2364.6 C1080.4,2364.2 1082.5,2360.8 1084.6,2354.5 C1086.7,2348.2 1089.1,2334.5 1090.9,2326.7 C1092.7,2318.9 1094.3,2312.5 1095.4,2307.7 C1096.6,2302.9 1096.6,2300.1 1097.6,2297.9 C1098.5,2295.6 1100.0,2294.1 1101.1,2294.3 C1102.2,2294.6 1103.0,2295.2 1104.1,2299.4 C1105.3,2303.6 1106.8,2312.5 1108.2,2319.6 C1109.5,2326.7 1110.9,2334.7 1112.2,2341.8 C1113.6,2348.9 1114.9,2358.3 1116.3,2362.0 C1117.6,2365.7 1119.1,2364.1 1120.3,2364.1 C1121.5,2364.1 1122.2,2360.0 1123.4,2362.0 C1124.5,2364.1 1126.0,2371.1 1127.4,2376.2 C1128.7,2381.2 1130.1,2388.0 1131.4,2392.4 C1132.8,2396.7 1134.1,2399.1 1135.5,2402.5 C1136.8,2405.8 1138.2,2408.2 1139.5,2412.6 C1140.9,2417.0 1142.4,2424.4 1143.6,2428.7 C1144.7,2433.1 1145.4,2436.8 1146.6,2438.8 C1147.8,2440.9 1149.0,2435.6 1150.6,2440.9 C1152.3,2446.2 1154.7,2461.2 1156.7,2470.5 C1158.7,2479.9 1160.7,2490.4 1162.8,2496.8 C1164.8,2503.2 1166.8,2506.9 1168.8,2508.9 C1170.9,2511.0 1172.9,2507.6 1174.9,2508.9 C1176.9,2510.3 1178.6,2513.3 1181.0,2517.0 C1183.3,2520.7 1186.7,2530.5 1189.0,2531.2 C1191.4,2531.9 1193.1,2522.9 1195.1,2521.1 C1197.1,2519.2 1199.2,2518.7 1201.2,2520.1 C1203.2,2521.4 1205.2,2526.0 1207.2,2529.2 C1209.3,2532.4 1211.3,2535.9 1213.3,2539.3 C1215.3,2542.6 1217.3,2549.0 1219.4,2549.4 C1221.4,2549.7 1223.4,2543.1 1225.4,2541.3 C1227.5,2539.4 1229.5,2538.3 1231.5,2538.3 C1233.5,2538.3 1235.5,2539.4 1237.6,2541.3 C1239.6,2543.1 1241.6,2546.5 1243.6,2549.4 C1245.6,2552.2 1247.7,2557.3 1249.7,2558.5 C1251.7,2559.6 1253.7,2555.9 1255.8,2556.4 C1257.8,2557.0 1260.0,2559.8 1261.8,2561.5 C1263.7,2563.2 1265.0,2566.9 1266.9,2566.6 C1268.7,2566.2 1270.9,2561.5 1272.9,2559.5 C1275.0,2557.5 1277.2,2556.1 1279.0,2554.4 C1280.9,2552.7 1282.4,2553.9 1284.1,2549.4 C1285.7,2544.8 1287.6,2531.9 1289.1,2527.1 C1290.6,2522.4 1291.8,2520.7 1293.2,2521.1 C1294.5,2521.4 1295.7,2529.2 1297.2,2529.2 C1298.7,2529.2 1300.6,2522.6 1302.2,2521.1 C1303.9,2519.6 1305.6,2517.0 1307.3,2520.1 C1309.0,2523.1 1310.5,2534.4 1312.4,2539.3 C1314.2,2544.1 1316.7,2546.0 1318.4,2549.4 C1320.1,2552.7 1321.1,2557.1 1322.5,2559.5 C1323.8,2561.8 1325.0,2564.2 1326.5,2563.5 C1328.0,2562.8 1330.0,2558.5 1331.6,2555.4 C1333.1,2552.4 1334.1,2548.0 1335.6,2545.3 C1337.1,2542.6 1339.1,2543.3 1340.7,2539.3 C1342.2,2535.2 1343.2,2526.1 1344.7,2521.1 C1346.2,2516.0 1348.1,2508.6 1349.8,2508.9 C1351.4,2509.3 1353.3,2520.4 1354.8,2523.1 C1356.3,2525.8 1357.3,2524.4 1358.8,2525.1 C1360.4,2525.8 1362.4,2523.1 1363.9,2527.1 C1365.4,2531.2 1366.6,2543.5 1367.9,2549.4 C1369.3,2555.3 1370.5,2561.8 1372.0,2562.5 C1373.5,2563.2 1375.5,2555.6 1377.0,2553.4 C1378.6,2551.2 1379.9,2550.1 1381.1,2549.4 C1382.3,2548.7 1382.7,2549.2 1384.0,2549.2 C1385.4,2549.1 1387.4,2551.5 1389.1,2549.2 C1390.8,2546.8 1392.3,2539.0 1394.1,2535.0 C1396.0,2531.0 1398.4,2526.9 1400.2,2524.9 C1402.1,2522.9 1403.8,2523.7 1405.3,2522.9 C1406.8,2522.0 1407.8,2519.2 1409.3,2519.8 C1410.8,2520.5 1412.7,2522.7 1414.4,2526.9 C1416.0,2531.1 1417.7,2540.1 1419.4,2545.1 C1421.1,2550.2 1422.8,2553.2 1424.5,2557.2 C1426.2,2561.3 1427.7,2567.3 1429.5,2569.4 C1431.4,2571.4 1433.9,2571.4 1435.6,2569.4 C1437.3,2567.3 1438.3,2565.3 1439.6,2557.2 C1441.0,2549.2 1442.3,2530.6 1443.7,2520.9 C1445.0,2511.1 1446.4,2503.5 1447.7,2498.6 C1449.1,2493.7 1450.4,2491.5 1451.8,2491.5 C1453.1,2491.5 1454.5,2493.1 1455.8,2498.6 C1457.2,2504.2 1458.5,2515.8 1459.8,2524.9 C1461.2,2534.0 1462.4,2545.3 1463.9,2553.2 C1465.4,2561.1 1467.4,2572.4 1468.9,2572.4 C1470.5,2572.4 1471.5,2556.9 1473.0,2553.2 C1474.5,2549.5 1476.4,2550.8 1478.0,2550.2 C1479.7,2549.5 1481.4,2550.8 1483.1,2549.2 C1484.8,2547.5 1486.1,2541.6 1488.1,2540.1 C1490.2,2538.5 1493.0,2540.1 1495.2,2540.1 C1497.4,2540.1 1499.4,2540.2 1501.3,2540.1 C1503.1,2539.9 1504.8,2536.9 1506.3,2539.0 C1507.9,2541.2 1509.0,2547.8 1510.4,2553.2 C1511.7,2558.6 1512.9,2569.9 1514.4,2571.4 C1515.9,2572.9 1517.8,2564.3 1519.5,2562.3 C1521.2,2560.3 1523.0,2558.8 1524.5,2559.3 C1526.0,2559.8 1527.1,2566.7 1528.6,2565.3 C1530.1,2564.0 1531.9,2554.0 1533.6,2551.2 C1535.3,2548.3 1537.2,2547.5 1538.7,2548.1 C1540.2,2548.8 1541.4,2552.7 1542.7,2555.2 C1544.1,2557.7 1545.3,2563.3 1546.8,2563.3 C1548.3,2563.3 1550.0,2555.6 1551.8,2555.2 C1553.7,2554.9 1556.0,2559.1 1557.9,2561.3 C1559.7,2563.5 1561.1,2566.8 1562.9,2568.4 C1564.8,2569.9 1567.0,2568.9 1569.0,2570.4 C1571.0,2571.9 1573.2,2576.6 1575.1,2577.5 C1576.9,2578.3 1578.4,2577.8 1580.1,2575.4 C1581.8,2573.1 1583.5,2567.7 1585.2,2563.3 C1586.9,2558.9 1588.7,2552.7 1590.2,2549.2 C1591.7,2545.6 1592.8,2541.6 1594.3,2542.1 C1595.8,2542.6 1597.6,2548.7 1599.3,2552.2 C1601.0,2555.7 1602.7,2559.1 1604.4,2563.3 C1606.1,2567.5 1607.7,2573.1 1609.4,2577.5 C1611.1,2581.8 1612.8,2586.4 1614.5,2589.6 C1616.2,2592.8 1617.9,2596.3 1619.5,2596.7 C1621.2,2597.0 1622.7,2593.6 1624.6,2591.6 C1626.4,2589.6 1628.6,2586.7 1630.7,2584.5 C1632.7,2582.3 1635.2,2579.6 1636.7,2578.5 C1638.3,2577.3 1638.0,2577.5 1640.0,2577.5 C1642.0,2577.5 1645.5,2578.3 1648.8,2578.4 C1652.0,2578.6 1656.6,2577.8 1659.3,2578.4 C1661.9,2579.0 1661.9,2581.0 1664.5,2581.9 C1667.2,2582.8 1671.8,2583.9 1675.0,2584.0 C1678.3,2584.2 1681.2,2582.0 1683.8,2582.8 C1686.4,2583.6 1688.8,2586.9 1690.8,2588.9 C1692.9,2591.0 1694.5,2594.0 1696.1,2595.1 C1697.7,2596.1 1698.8,2595.9 1700.4,2595.1 C1702.1,2594.2 1703.5,2591.0 1705.7,2589.8 C1707.9,2588.6 1710.8,2588.8 1713.6,2588.0 C1716.4,2587.3 1719.7,2585.6 1722.3,2585.4 C1725.0,2585.3 1726.7,2586.3 1729.4,2587.2 C1732.0,2588.0 1735.5,2589.6 1738.1,2590.7 C1740.7,2591.8 1742.8,2593.3 1745.1,2593.8 C1747.5,2594.4 1749.6,2594.3 1752.1,2593.8 C1754.6,2593.4 1757.1,2591.0 1760.0,2591.0 C1762.9,2591.0 1766.6,2593.2 1769.6,2593.8 C1772.7,2594.5 1775.5,2594.5 1778.4,2595.1 C1781.3,2595.6 1784.0,2596.7 1787.2,2597.3 C1790.4,2597.9 1793.9,2598.4 1797.7,2598.6 C1801.5,2598.8 1806.1,2598.2 1809.9,2598.6 C1813.7,2598.9 1817.2,2599.8 1820.5,2600.8 C1823.7,2601.9 1826.3,2604.0 1829.2,2604.7 C1832.1,2605.4 1835.1,2605.2 1838.0,2605.0 C1840.9,2604.9 1843.8,2604.1 1846.7,2603.8 C1849.7,2603.5 1853.0,2603.5 1855.5,2603.3 C1858.0,2603.1 1859.3,2602.4 1861.6,2602.6 C1864.0,2602.8 1866.9,2604.3 1869.5,2604.7 C1872.1,2605.1 1874.8,2605.1 1877.4,2605.2 C1880.0,2605.4 1884.0,2605.5 1885.3,2605.6" stroke="#629a72" stroke-width="5.4"/>
<path d="M404.0,2689.9 C405.4,2689.6 409.1,2689.4 412.6,2687.9 C416.2,2686.5 421.5,2681.9 425.3,2681.4 C429.1,2680.8 432.4,2684.3 435.4,2684.7 C438.3,2685.0 440.2,2682.7 443.0,2683.4 C445.7,2684.1 448.9,2688.2 451.8,2689.0 C454.8,2689.7 457.9,2689.9 460.7,2687.9 C463.4,2686.0 465.3,2681.2 468.2,2677.1 C471.2,2673.0 475.2,2667.2 478.3,2663.2 C481.5,2659.2 484.2,2653.3 487.2,2653.1 C490.1,2652.9 493.3,2659.4 496.0,2661.9 C498.8,2664.4 501.1,2667.1 503.6,2668.2 C506.1,2669.4 508.2,2669.1 511.2,2668.7 C514.1,2668.4 518.1,2666.6 521.3,2666.2 C524.5,2665.8 527.6,2669.2 530.1,2666.2 C532.7,2663.2 534.8,2653.4 536.5,2648.0 C538.2,2642.7 538.8,2637.1 540.3,2634.1 C541.7,2631.2 543.4,2630.1 545.3,2630.3 C547.2,2630.5 548.9,2633.2 551.6,2635.4 C554.4,2637.6 558.4,2642.0 561.7,2643.5 C565.1,2644.9 568.9,2643.5 571.8,2644.2 C574.8,2645.0 576.7,2648.4 579.4,2648.0 C582.2,2647.6 585.9,2646.3 588.3,2641.7 C590.7,2637.1 592.1,2631.0 594.0,2620.3 C595.9,2609.6 597.4,2588.4 599.6,2577.4 C601.9,2566.5 604.9,2555.5 607.2,2554.7 C609.5,2553.9 611.7,2564.4 613.5,2572.4 C615.4,2580.4 616.9,2592.6 618.6,2602.7 C620.3,2612.8 622.2,2626.9 623.7,2633.0 C625.1,2639.2 626.0,2640.2 627.4,2639.4 C628.9,2638.5 628.9,2629.9 632.5,2628.0 C636.1,2626.1 645.1,2633.0 648.9,2628.0 C652.7,2622.9 653.1,2610.3 655.2,2597.7 C657.3,2585.0 659.5,2561.2 661.6,2552.2 C663.7,2543.1 665.8,2542.5 667.9,2543.3 C670.0,2544.2 671.7,2550.1 674.2,2557.2 C676.7,2564.4 680.7,2582.9 683.0,2586.3 C685.4,2589.7 686.0,2580.8 688.1,2577.4 C690.2,2574.1 693.4,2566.9 695.7,2566.1 C698.0,2565.2 699.9,2569.4 702.0,2572.4 C704.1,2575.3 706.2,2582.9 708.3,2583.8 C710.4,2584.6 712.5,2582.3 714.6,2577.4 C716.7,2572.6 719.1,2560.6 721.0,2554.7 C722.8,2548.8 724.3,2548.8 726.0,2542.1 C727.7,2535.3 729.4,2521.0 731.1,2514.3 C732.7,2507.5 734.2,2501.2 736.1,2501.6 C738.0,2502.1 740.5,2514.1 742.4,2516.8 C744.3,2519.5 745.6,2522.9 747.5,2518.1 C749.4,2513.2 751.5,2492.4 753.8,2487.7 C756.1,2483.1 759.3,2486.3 761.4,2490.3 C763.5,2494.3 765.0,2503.1 766.4,2511.7 C767.9,2520.4 768.4,2540.5 770.2,2542.1 C772.1,2543.6 775.6,2535.9 777.5,2521.1 C779.5,2506.2 779.6,2470.6 781.9,2452.9 C784.3,2435.3 788.8,2418.1 791.4,2415.1 C794.1,2412.2 796.3,2426.1 797.7,2435.4 C799.2,2444.6 799.2,2456.3 800.3,2470.5 C801.3,2484.8 802.8,2510.1 804.1,2521.1 C805.3,2532.0 806.4,2535.8 807.9,2536.2 C809.3,2536.7 811.2,2525.1 812.9,2523.6 C814.6,2522.1 816.1,2525.9 818.0,2527.4 C819.9,2528.9 822.6,2531.8 824.3,2532.5 C826.0,2533.1 826.8,2536.0 828.1,2531.2 C829.3,2526.4 830.6,2516.9 831.9,2503.4 C833.1,2489.9 834.4,2468.0 835.7,2450.3 C836.9,2432.7 838.2,2417.2 839.4,2397.4 C840.7,2377.7 842.0,2348.2 843.2,2331.7 C844.5,2315.3 845.8,2304.8 847.0,2298.9 C848.3,2293.0 849.3,2291.7 850.8,2296.4 C852.3,2301.0 854.0,2314.9 855.9,2326.7 C857.8,2338.5 860.1,2352.0 862.2,2367.1 C864.3,2382.3 866.2,2405.0 868.5,2417.7 C870.8,2430.3 874.2,2437.5 876.1,2442.9 C878.0,2448.4 878.6,2440.2 879.9,2450.3 C881.1,2460.4 882.2,2489.1 883.7,2503.4 C885.1,2517.7 886.6,2530.8 888.7,2536.2 C890.8,2541.7 894.2,2545.1 896.3,2536.2 C898.4,2527.4 900.1,2495.8 901.4,2483.2 C902.6,2470.5 902.8,2464.6 903.9,2460.4 C904.9,2456.2 906.6,2456.2 907.7,2457.9 C908.7,2459.6 909.3,2476.4 910.2,2470.5 C911.2,2464.7 911.9,2438.7 913.4,2422.6 C914.8,2406.6 917.3,2380.9 919.0,2374.2 C920.8,2367.5 922.4,2379.2 924.1,2382.3 C925.8,2385.3 927.5,2388.2 929.2,2392.4 C930.8,2396.6 932.7,2392.0 934.2,2407.6 C935.7,2423.1 936.5,2463.8 938.0,2485.7 C939.5,2507.6 941.4,2527.4 943.1,2538.8 C944.7,2550.1 946.6,2556.9 948.1,2553.9 C949.6,2551.0 950.4,2537.1 951.9,2521.1 C953.4,2505.1 955.5,2472.2 957.0,2457.9 C958.4,2443.6 958.9,2445.2 960.7,2435.4 C962.6,2425.5 966.0,2400.8 968.3,2398.7 C970.6,2396.6 972.8,2410.7 974.6,2422.7 C976.5,2434.7 978.0,2455.0 979.7,2470.5 C981.4,2486.1 983.2,2506.1 984.8,2516.0 C986.4,2525.9 987.6,2533.3 989.3,2529.9 C991.0,2526.6 992.9,2505.7 994.9,2495.8 C996.8,2485.9 998.7,2473.9 1001.2,2470.5 C1003.7,2467.2 1007.3,2475.6 1010.0,2475.6 C1012.8,2475.6 1015.7,2475.2 1017.6,2470.5 C1019.5,2465.9 1020.3,2460.0 1021.4,2447.8 C1022.5,2435.6 1022.7,2412.6 1023.9,2397.4 C1025.2,2382.3 1027.5,2366.1 1029.0,2357.0 C1030.5,2348.0 1031.3,2343.1 1032.8,2343.1 C1034.2,2343.1 1036.1,2345.8 1037.8,2357.0 C1039.5,2368.2 1041.4,2394.9 1042.9,2410.1 C1044.4,2425.2 1045.4,2440.7 1046.7,2447.8 C1047.9,2454.9 1049.1,2455.9 1050.5,2452.9 C1051.8,2449.8 1052.8,2443.0 1054.9,2429.6 C1057.0,2416.1 1060.7,2383.8 1063.1,2372.2 C1065.5,2360.5 1067.7,2362.1 1069.4,2359.5 C1071.1,2357.0 1071.7,2355.3 1073.2,2357.0 C1074.7,2358.7 1076.4,2371.3 1078.3,2369.6 C1080.2,2368.0 1082.5,2363.3 1084.6,2346.9 C1086.7,2330.5 1089.0,2294.6 1090.9,2271.1 C1092.8,2247.6 1094.4,2221.0 1095.8,2205.9 C1097.1,2190.7 1098.2,2184.6 1099.1,2180.1 C1100.0,2175.6 1100.3,2177.4 1101.1,2179.1 C1102.0,2180.8 1103.0,2183.3 1104.1,2190.2 C1105.3,2197.1 1107.0,2208.7 1108.2,2220.5 C1109.4,2232.3 1110.2,2247.8 1111.2,2261.0 C1112.2,2274.1 1113.2,2294.3 1114.3,2299.4 C1115.3,2304.4 1116.3,2296.7 1117.3,2291.3 C1118.3,2285.9 1119.3,2273.1 1120.3,2267.0 C1121.3,2261.0 1122.3,2256.2 1123.4,2254.9 C1124.4,2253.6 1125.0,2257.9 1126.4,2258.9 C1127.7,2260.0 1130.1,2256.9 1131.4,2261.0 C1132.8,2265.0 1133.3,2274.8 1134.5,2283.2 C1135.7,2291.6 1137.2,2302.7 1138.5,2311.5 C1139.9,2320.3 1141.4,2325.6 1142.6,2335.8 C1143.7,2345.9 1144.7,2358.2 1145.6,2372.1 C1146.4,2386.1 1146.8,2413.2 1147.6,2419.6 C1148.5,2426.0 1149.6,2410.0 1150.6,2410.5 C1151.7,2411.1 1152.8,2415.6 1153.7,2422.7 C1154.5,2429.8 1154.9,2440.0 1155.7,2453.0 C1156.5,2466.0 1157.5,2486.8 1158.7,2500.9 C1159.9,2514.9 1161.4,2527.1 1162.8,2537.2 C1164.1,2547.3 1165.6,2554.1 1166.8,2561.5 C1168.0,2568.9 1168.7,2578.2 1169.8,2581.7 C1171.0,2585.3 1172.7,2580.4 1173.9,2582.7 C1175.1,2585.1 1175.6,2591.3 1176.9,2595.9 C1178.3,2600.4 1180.3,2604.3 1182.0,2610.0 C1183.7,2615.7 1185.5,2626.5 1187.0,2630.2 C1188.5,2633.9 1189.7,2635.6 1191.1,2632.2 C1192.4,2628.9 1193.8,2615.1 1195.1,2610.0 C1196.5,2605.0 1197.8,2602.3 1199.2,2601.9 C1200.5,2601.6 1201.9,2604.6 1203.2,2608.0 C1204.5,2611.4 1205.9,2616.4 1207.2,2622.1 C1208.6,2627.9 1209.9,2634.3 1211.3,2642.4 C1212.6,2650.4 1213.8,2662.9 1215.3,2670.7 C1216.8,2678.4 1218.7,2688.8 1220.4,2688.8 C1222.1,2688.8 1223.9,2676.0 1225.4,2670.7 C1227.0,2665.3 1227.8,2659.0 1229.5,2656.5 C1231.2,2654.0 1233.9,2655.2 1235.5,2655.5 C1237.2,2655.8 1238.2,2655.7 1239.6,2658.5 C1240.9,2661.4 1242.1,2667.0 1243.6,2672.7 C1245.1,2678.4 1247.0,2689.2 1248.7,2692.9 C1250.4,2696.6 1252.1,2693.6 1253.7,2694.9 C1255.4,2696.3 1257.1,2698.3 1258.8,2701.0 C1260.5,2703.7 1262.3,2708.1 1263.8,2711.1 C1265.4,2714.1 1266.6,2721.2 1268.3,2719.2 C1270.0,2717.1 1272.2,2705.0 1273.9,2699.0 C1275.7,2692.9 1277.5,2689.9 1279.0,2682.8 C1280.5,2675.7 1281.7,2666.6 1283.0,2656.5 C1284.4,2646.4 1285.9,2631.9 1287.1,2622.1 C1288.3,2612.4 1289.1,2602.9 1290.1,2597.9 C1291.1,2592.8 1291.8,2589.8 1293.2,2591.8 C1294.5,2593.8 1296.9,2609.3 1298.2,2610.0 C1299.6,2610.7 1300.2,2599.2 1301.2,2595.9 C1302.2,2592.5 1303.3,2589.8 1304.3,2589.8 C1305.3,2589.8 1306.1,2590.5 1307.3,2595.9 C1308.5,2601.3 1310.0,2612.7 1311.3,2622.1 C1312.7,2631.6 1314.0,2643.7 1315.4,2652.5 C1316.7,2661.2 1318.1,2666.6 1319.4,2674.7 C1320.8,2682.8 1322.1,2695.9 1323.5,2701.0 C1324.8,2706.0 1326.2,2707.0 1327.5,2705.0 C1328.9,2703.0 1330.4,2695.3 1331.6,2688.8 C1332.7,2682.4 1333.4,2671.7 1334.6,2666.6 C1335.8,2661.6 1337.3,2665.9 1338.6,2658.5 C1340.0,2651.1 1341.3,2634.9 1342.7,2622.1 C1344.0,2609.3 1345.4,2591.3 1346.7,2581.7 C1348.1,2572.1 1349.4,2563.5 1350.8,2564.5 C1352.1,2565.5 1353.6,2580.9 1354.8,2587.8 C1356.0,2594.7 1356.7,2602.9 1357.8,2606.0 C1359.0,2609.0 1360.5,2601.6 1361.9,2606.0 C1363.2,2610.4 1364.7,2621.1 1365.9,2632.2 C1367.1,2643.4 1367.9,2660.5 1369.0,2672.7 C1370.0,2684.8 1371.0,2702.3 1372.0,2705.0 C1373.0,2707.7 1373.8,2693.6 1375.0,2688.8 C1376.2,2684.1 1377.6,2680.5 1379.1,2676.7 C1380.6,2673.0 1382.5,2667.1 1384.0,2666.4 C1385.5,2665.7 1386.7,2678.2 1388.1,2672.5 C1389.4,2666.7 1390.6,2643.8 1392.1,2632.0 C1393.6,2620.2 1395.5,2607.8 1397.2,2601.7 C1398.9,2595.6 1400.4,2598.0 1402.2,2595.6 C1404.1,2593.3 1406.6,2585.9 1408.3,2587.6 C1410.0,2589.2 1411.0,2601.0 1412.3,2605.8 C1413.7,2610.5 1415.0,2608.1 1416.4,2615.9 C1417.7,2623.6 1419.1,2639.4 1420.4,2652.2 C1421.8,2665.1 1423.0,2680.5 1424.5,2692.7 C1426.0,2704.8 1427.7,2720.0 1429.5,2725.0 C1431.4,2730.1 1433.9,2733.4 1435.6,2723.0 C1437.3,2712.6 1438.5,2684.3 1439.6,2662.4 C1440.8,2640.5 1441.5,2613.5 1442.7,2591.6 C1443.8,2569.7 1445.4,2544.8 1446.7,2531.0 C1448.1,2517.2 1449.4,2510.4 1450.7,2508.7 C1452.1,2507.0 1453.4,2510.4 1454.8,2520.9 C1456.1,2531.3 1457.5,2551.2 1458.8,2571.4 C1460.2,2591.6 1461.7,2620.2 1462.9,2642.1 C1464.1,2664.0 1464.9,2688.0 1465.9,2702.8 C1466.9,2717.6 1467.9,2731.1 1468.9,2731.1 C1470.0,2731.1 1471.0,2713.2 1472.0,2702.8 C1473.0,2692.3 1473.7,2674.8 1475.0,2668.4 C1476.4,2662.0 1478.4,2665.7 1480.1,2664.4 C1481.7,2663.0 1483.6,2664.7 1485.1,2660.3 C1486.6,2656.0 1488.0,2642.3 1489.2,2638.1 C1490.3,2633.9 1491.0,2634.9 1492.2,2635.1 C1493.4,2635.2 1494.7,2638.6 1496.2,2639.1 C1497.7,2639.6 1499.8,2639.4 1501.3,2638.1 C1502.8,2636.8 1504.0,2629.7 1505.3,2631.0 C1506.7,2632.4 1508.2,2637.6 1509.4,2646.2 C1510.6,2654.8 1511.2,2670.4 1512.4,2682.6 C1513.6,2694.7 1515.1,2716.3 1516.4,2719.0 C1517.8,2721.7 1519.1,2703.1 1520.5,2698.7 C1521.8,2694.4 1523.2,2691.0 1524.5,2692.7 C1525.9,2694.4 1527.2,2710.5 1528.6,2708.8 C1529.9,2707.2 1531.3,2690.3 1532.6,2682.6 C1534.0,2674.8 1535.5,2665.9 1536.7,2662.4 C1537.8,2658.8 1538.5,2658.0 1539.7,2661.3 C1540.9,2664.7 1542.6,2675.3 1543.7,2682.6 C1544.9,2689.8 1545.4,2704.1 1546.8,2704.8 C1548.1,2705.5 1550.3,2688.6 1551.8,2686.6 C1553.3,2684.6 1554.3,2688.3 1555.9,2692.7 C1557.4,2697.1 1559.2,2707.2 1560.9,2712.9 C1562.6,2718.6 1564.3,2724.0 1566.0,2727.0 C1567.7,2730.1 1569.7,2729.7 1571.0,2731.1 C1572.4,2732.5 1573.0,2734.5 1574.1,2735.4 C1575.1,2736.3 1575.6,2741.8 1577.1,2736.4 C1578.6,2731.0 1581.3,2715.1 1583.2,2702.8 C1585.0,2690.4 1586.4,2672.1 1588.2,2662.4 C1590.1,2652.6 1592.4,2644.2 1594.3,2644.2 C1596.1,2644.2 1597.6,2652.6 1599.3,2662.4 C1601.0,2672.1 1602.7,2691.0 1604.4,2702.8 C1606.1,2714.6 1608.3,2725.1 1609.4,2733.1 C1610.6,2741.1 1610.4,2743.3 1611.5,2750.5 C1612.5,2757.8 1614.1,2770.4 1615.5,2776.8 C1616.8,2783.2 1618.2,2787.3 1619.5,2788.9 C1620.9,2790.6 1622.2,2790.3 1623.6,2786.9 C1624.9,2783.6 1626.3,2774.1 1627.6,2768.7 C1629.0,2763.3 1630.3,2759.3 1631.7,2754.6 C1633.0,2749.9 1634.3,2743.5 1635.7,2740.4 C1637.1,2737.3 1638.4,2736.1 1640.0,2736.1 C1641.6,2736.1 1643.5,2739.4 1645.3,2740.5 C1647.0,2741.5 1648.9,2740.3 1650.5,2742.2 C1652.1,2744.1 1653.4,2750.0 1654.9,2751.9 C1656.4,2753.8 1658.0,2752.2 1659.3,2753.6 C1660.6,2755.1 1661.6,2758.9 1662.8,2760.6 C1663.9,2762.4 1665.0,2764.3 1666.3,2764.1 C1667.6,2764.0 1669.2,2760.5 1670.7,2759.7 C1672.1,2759.0 1673.6,2760.2 1675.0,2759.7 C1676.5,2759.3 1678.0,2758.1 1679.4,2757.1 C1680.9,2756.1 1682.3,2752.2 1683.8,2753.6 C1685.3,2755.1 1686.7,2761.8 1688.2,2765.9 C1689.6,2770.0 1691.2,2773.2 1692.6,2778.1 C1693.9,2783.1 1694.6,2792.7 1696.1,2795.7 C1697.5,2798.6 1699.7,2798.6 1701.3,2795.7 C1702.9,2792.7 1704.4,2781.5 1705.7,2778.1 C1707.0,2774.8 1707.3,2776.4 1709.2,2775.5 C1711.1,2774.6 1714.8,2773.9 1717.1,2772.9 C1719.4,2771.9 1721.2,2768.6 1723.2,2769.4 C1725.3,2770.1 1727.3,2775.9 1729.4,2777.3 C1731.4,2778.6 1733.1,2775.4 1735.5,2777.3 C1737.8,2779.2 1740.9,2785.7 1743.4,2788.7 C1745.9,2791.6 1747.7,2794.9 1750.4,2794.8 C1753.0,2794.6 1756.2,2788.5 1759.1,2787.8 C1762.1,2787.0 1764.7,2788.8 1767.9,2790.4 C1771.1,2792.0 1775.5,2795.2 1778.4,2797.4 C1781.3,2799.6 1782.2,2802.4 1785.4,2803.5 C1788.6,2804.7 1794.2,2804.1 1797.7,2804.1 C1801.2,2804.1 1804.0,2803.9 1806.4,2803.5 C1808.9,2803.2 1810.2,2801.4 1812.6,2801.8 C1814.9,2802.2 1817.8,2804.3 1820.5,2806.2 C1823.1,2808.1 1825.4,2811.6 1828.3,2813.2 C1831.3,2814.8 1834.9,2815.5 1838.0,2815.8 C1841.0,2816.1 1843.8,2815.2 1846.7,2814.9 C1849.7,2814.6 1852.6,2814.3 1855.5,2814.1 C1858.4,2813.8 1861.6,2812.7 1864.3,2813.2 C1866.9,2813.6 1869.1,2815.5 1871.3,2816.7 C1873.5,2817.9 1875.1,2819.3 1877.4,2820.2 C1879.7,2821.1 1884.0,2821.6 1885.3,2821.9" stroke="#5c64b6" stroke-width="5.4"/>
<path d="M404.0,2909.1 C405.4,2908.8 409.1,2908.5 412.6,2907.1 C416.2,2905.6 421.5,2900.9 425.3,2900.2 C429.1,2899.6 432.4,2903.1 435.4,2903.3 C438.3,2903.4 440.4,2901.3 443.0,2901.2 C445.5,2901.2 447.6,2902.9 450.5,2902.8 C453.5,2902.6 456.9,2902.7 460.7,2900.2 C464.4,2897.8 468.9,2891.9 473.3,2888.1 C477.7,2884.3 483.2,2878.7 487.2,2877.5 C491.2,2876.3 494.1,2880.0 497.3,2881.0 C500.5,2882.0 502.6,2884.0 506.1,2883.5 C509.7,2883.1 514.8,2880.1 518.8,2878.5 C522.8,2876.9 527.0,2876.8 530.1,2874.2 C533.3,2871.6 535.4,2866.2 537.7,2862.8 C540.0,2859.5 541.7,2855.2 544.0,2854.0 C546.4,2852.8 548.7,2854.7 551.6,2855.7 C554.6,2856.8 557.5,2860.2 561.7,2860.3 C566.0,2860.4 572.3,2858.4 576.9,2856.5 C581.5,2854.6 586.4,2853.8 589.5,2848.9 C592.7,2844.1 594.0,2834.8 595.9,2827.4 C597.8,2820.1 599.0,2810.0 600.9,2804.7 C602.8,2799.4 605.1,2795.4 607.2,2795.9 C609.3,2796.3 611.4,2801.3 613.5,2807.2 C615.7,2813.1 617.8,2825.5 619.9,2831.2 C622.0,2836.9 623.9,2841.1 626.2,2841.3 C628.5,2841.6 631.0,2834.6 633.8,2832.5 C636.5,2830.4 639.9,2829.1 642.6,2828.7 C645.3,2828.3 647.9,2833.1 650.2,2830.0 C652.5,2826.8 654.4,2817.8 656.5,2809.8 C658.6,2801.8 660.9,2787.6 662.8,2782.0 C664.7,2776.3 666.0,2775.4 667.9,2775.6 C669.8,2775.8 671.7,2779.0 674.2,2783.2 C676.7,2787.4 680.3,2800.3 683.0,2800.9 C685.8,2801.5 688.3,2790.6 690.6,2787.0 C692.9,2783.4 694.8,2780.3 696.9,2779.4 C699.0,2778.6 701.4,2780.5 703.3,2782.0 C705.2,2783.4 706.4,2788.1 708.3,2788.3 C710.2,2788.5 712.5,2787.0 714.6,2783.2 C716.7,2779.4 718.6,2771.6 721.0,2765.5 C723.3,2759.4 726.2,2752.3 728.5,2746.6 C730.8,2740.8 732.7,2732.2 734.8,2730.9 C737.0,2729.6 739.3,2737.3 741.2,2739.0 C743.1,2740.7 744.3,2744.6 746.2,2741.0 C748.1,2737.4 750.0,2721.6 752.5,2717.5 C755.1,2713.4 759.1,2714.8 761.4,2716.2 C763.7,2717.7 764.8,2720.9 766.4,2726.4 C768.1,2731.8 769.6,2751.3 771.5,2749.1 C773.3,2746.9 776.1,2722.3 777.5,2713.0 C779.0,2703.6 778.6,2700.3 780.1,2692.9 C781.5,2685.6 784.5,2673.6 786.4,2668.9 C788.3,2664.2 789.5,2663.2 791.4,2664.6 C793.3,2666.1 796.1,2670.6 797.7,2677.8 C799.4,2685.0 800.1,2698.5 801.5,2707.9 C803.0,2717.4 804.7,2731.9 806.6,2734.4 C808.5,2737.0 810.6,2725.4 812.9,2723.1 C815.2,2720.8 818.2,2720.5 820.5,2720.5 C822.8,2720.5 824.8,2726.8 826.8,2723.1 C828.8,2719.3 830.4,2714.7 832.5,2697.9 C834.6,2681.1 837.4,2640.7 839.4,2622.2 C841.4,2603.7 842.7,2595.6 844.5,2586.8 C846.3,2577.9 848.4,2569.5 850.3,2569.1 C852.2,2568.7 853.9,2577.9 855.9,2584.3 C857.8,2590.6 860.1,2599.0 862.2,2607.0 C864.3,2615.0 866.2,2626.0 868.5,2632.3 C870.8,2638.6 874.0,2638.2 876.1,2644.9 C878.2,2651.7 879.7,2663.3 881.1,2672.7 C882.6,2682.2 883.5,2695.5 884.9,2701.6 C886.4,2707.7 888.3,2707.7 890.0,2709.2 C891.7,2710.6 893.6,2711.7 895.0,2710.4 C896.5,2709.2 897.8,2707.9 898.8,2701.6 C899.9,2695.3 900.3,2679.0 901.4,2672.7 C902.4,2666.4 903.7,2666.4 905.1,2663.9 C906.6,2661.3 908.5,2664.5 910.2,2657.6 C911.9,2650.6 913.6,2630.4 915.3,2622.2 C916.9,2614.0 918.4,2609.5 920.3,2608.3 C922.2,2607.0 924.3,2611.4 926.6,2614.6 C928.9,2617.8 932.3,2619.6 934.2,2627.2 C936.1,2634.8 936.7,2647.5 938.0,2660.1 C939.3,2672.7 940.3,2693.2 941.8,2702.9 C943.3,2712.5 945.2,2718.0 946.8,2718.0 C948.5,2718.0 950.0,2712.5 951.9,2702.9 C953.8,2693.2 956.3,2672.3 958.2,2660.1 C960.1,2647.9 961.6,2636.5 963.3,2629.8 C965.0,2623.0 966.4,2618.8 968.3,2619.6 C970.2,2620.5 972.8,2626.8 974.6,2634.8 C976.5,2642.8 977.4,2656.5 979.7,2667.7 C982.0,2678.8 986.0,2700.7 988.5,2701.6 C991.1,2702.4 992.5,2680.3 994.9,2672.7 C997.2,2665.2 999.9,2658.6 1002.4,2656.3 C1005.0,2654.0 1007.5,2660.3 1010.0,2658.8 C1012.6,2657.3 1015.3,2656.9 1017.6,2647.4 C1019.9,2638.0 1022.0,2615.4 1023.9,2602.0 C1025.8,2588.5 1027.4,2573.9 1029.0,2566.6 C1030.5,2559.2 1031.6,2556.5 1033.3,2557.7 C1035.0,2559.0 1037.1,2567.6 1039.1,2574.2 C1041.1,2580.7 1043.5,2591.4 1045.4,2596.9 C1047.3,2602.4 1048.8,2610.4 1050.5,2607.0 C1052.1,2603.6 1053.4,2587.6 1055.5,2576.7 C1057.6,2565.7 1060.8,2551.8 1063.1,2541.3 C1065.4,2530.8 1067.1,2520.7 1069.4,2513.5 C1071.7,2506.3 1074.7,2505.5 1077.0,2498.3 C1079.3,2491.2 1081.3,2481.6 1083.3,2470.5 C1085.3,2459.5 1087.0,2450.2 1089.0,2432.1 C1091.0,2414.0 1093.7,2378.8 1095.4,2362.1 C1097.1,2345.3 1097.8,2337.1 1099.1,2331.7 C1100.4,2326.3 1102.0,2328.7 1103.1,2329.7 C1104.3,2330.7 1105.0,2332.4 1106.2,2337.8 C1107.4,2343.2 1108.9,2354.8 1110.2,2362.0 C1111.6,2369.3 1112.9,2378.5 1114.3,2381.2 C1115.6,2383.9 1117.1,2379.2 1118.3,2378.2 C1119.5,2377.2 1120.3,2374.5 1121.3,2375.2 C1122.3,2375.8 1123.2,2376.7 1124.4,2382.2 C1125.5,2387.8 1127.1,2400.1 1128.4,2408.5 C1129.8,2417.0 1131.3,2424.7 1132.4,2432.8 C1133.6,2440.9 1134.5,2445.7 1135.5,2457.0 C1136.5,2468.4 1137.2,2483.4 1138.5,2500.9 C1139.9,2518.3 1141.9,2543.0 1143.6,2561.5 C1145.3,2580.0 1146.9,2597.5 1148.6,2612.0 C1150.3,2626.5 1152.2,2635.6 1153.7,2648.4 C1155.2,2661.2 1156.7,2678.5 1157.7,2688.8 C1158.7,2699.2 1158.7,2700.8 1159.7,2710.4 C1160.7,2720.1 1162.3,2736.0 1163.8,2746.8 C1165.3,2757.6 1167.3,2769.7 1168.8,2775.1 C1170.4,2780.5 1171.5,2775.8 1172.9,2779.2 C1174.2,2782.5 1175.4,2789.3 1176.9,2795.3 C1178.4,2801.4 1180.5,2809.5 1182.0,2815.5 C1183.5,2821.6 1184.8,2827.1 1186.0,2831.7 C1187.2,2836.4 1187.9,2842.1 1189.0,2843.4 C1190.2,2844.8 1191.9,2842.4 1193.1,2839.8 C1194.3,2837.2 1195.1,2830.1 1196.1,2827.7 C1197.1,2825.2 1198.0,2824.6 1199.2,2825.2 C1200.3,2825.9 1201.9,2827.9 1203.2,2831.7 C1204.5,2835.5 1205.9,2843.2 1207.2,2847.9 C1208.6,2852.6 1209.9,2855.3 1211.3,2860.0 C1212.6,2864.7 1213.8,2871.1 1215.3,2876.2 C1216.8,2881.2 1218.9,2890.0 1220.4,2890.3 C1221.9,2890.7 1223.1,2881.2 1224.4,2878.2 C1225.8,2875.2 1227.0,2873.0 1228.5,2872.1 C1230.0,2871.3 1231.8,2872.1 1233.5,2873.2 C1235.2,2874.2 1236.9,2875.3 1238.6,2878.2 C1240.3,2881.1 1241.8,2886.0 1243.6,2890.3 C1245.5,2894.7 1247.8,2902.0 1249.7,2904.5 C1251.5,2907.0 1252.9,2904.1 1254.7,2905.5 C1256.6,2906.8 1259.0,2909.4 1260.8,2912.6 C1262.7,2915.8 1264.2,2924.7 1265.9,2924.7 C1267.5,2924.7 1269.2,2915.8 1270.9,2912.6 C1272.6,2909.4 1274.3,2906.8 1276.0,2905.5 C1277.7,2904.1 1279.5,2908.0 1281.0,2904.5 C1282.5,2900.9 1283.7,2891.7 1285.1,2884.3 C1286.4,2876.9 1287.8,2865.1 1289.1,2860.0 C1290.5,2855.0 1291.6,2852.6 1293.2,2853.9 C1294.7,2855.3 1296.9,2867.1 1298.2,2868.1 C1299.6,2869.1 1300.2,2862.4 1301.2,2860.0 C1302.2,2857.7 1303.1,2853.6 1304.3,2853.9 C1305.5,2854.3 1307.0,2856.0 1308.3,2862.0 C1309.7,2868.1 1310.7,2884.3 1312.4,2890.3 C1314.0,2896.4 1316.6,2893.4 1318.4,2898.4 C1320.3,2903.5 1322.0,2915.8 1323.5,2920.7 C1325.0,2925.5 1326.2,2927.4 1327.5,2927.7 C1328.9,2928.1 1330.2,2926.9 1331.6,2922.7 C1332.9,2918.5 1334.1,2907.2 1335.6,2902.5 C1337.1,2897.7 1339.0,2901.5 1340.7,2894.4 C1342.3,2887.3 1344.2,2868.4 1345.7,2860.0 C1347.2,2851.7 1348.4,2844.9 1349.8,2844.2 C1351.1,2843.6 1352.4,2852.0 1353.8,2856.0 C1355.1,2859.9 1356.5,2866.2 1357.8,2868.1 C1359.2,2870.0 1360.5,2865.1 1361.9,2867.1 C1363.2,2869.1 1364.7,2872.6 1365.9,2880.2 C1367.1,2887.8 1367.9,2903.8 1369.0,2912.6 C1370.0,2921.3 1370.8,2931.4 1372.0,2932.8 C1373.2,2934.1 1374.5,2924.0 1376.0,2920.7 C1377.5,2917.3 1379.8,2914.0 1381.1,2912.6 C1382.4,2911.2 1382.9,2911.8 1384.0,2912.2 C1385.2,2912.7 1386.6,2919.0 1388.1,2915.3 C1389.6,2911.6 1391.5,2896.6 1393.1,2890.0 C1394.8,2883.4 1396.5,2879.1 1398.2,2875.9 C1399.9,2872.7 1401.6,2872.3 1403.2,2870.8 C1404.9,2869.3 1406.6,2865.9 1408.3,2866.8 C1410.0,2867.6 1411.8,2872.7 1413.4,2875.9 C1414.9,2879.1 1416.0,2878.9 1417.4,2886.0 C1418.7,2893.0 1420.1,2911.2 1421.4,2918.3 C1422.8,2925.4 1424.1,2923.0 1425.5,2928.4 C1426.8,2933.8 1428.0,2946.4 1429.5,2950.7 C1431.0,2954.9 1433.1,2955.7 1434.6,2953.7 C1436.1,2951.7 1437.4,2948.8 1438.6,2938.5 C1439.8,2928.3 1440.5,2907.5 1441.7,2892.0 C1442.8,2876.5 1444.3,2856.3 1445.7,2845.5 C1447.0,2834.8 1448.5,2830.6 1449.7,2827.3 C1451.0,2824.1 1452.0,2822.0 1453.2,2826.3 C1454.4,2830.7 1455.5,2841.0 1456.8,2853.6 C1458.1,2866.3 1459.5,2885.6 1460.9,2902.1 C1462.2,2918.7 1463.6,2942.2 1464.9,2952.7 C1466.2,2963.1 1467.6,2968.5 1468.9,2964.8 C1470.3,2961.1 1471.6,2936.8 1473.0,2930.4 C1474.3,2924.0 1475.3,2927.2 1477.0,2926.4 C1478.7,2925.6 1481.2,2927.9 1483.1,2925.4 C1484.9,2922.9 1486.6,2913.4 1488.1,2911.2 C1489.7,2909.0 1490.7,2911.6 1492.2,2912.2 C1493.7,2912.9 1495.6,2914.9 1497.2,2915.3 C1498.9,2915.6 1500.9,2914.9 1502.3,2914.3 C1503.6,2913.6 1504.1,2909.9 1505.3,2911.2 C1506.5,2912.6 1508.0,2913.8 1509.4,2922.4 C1510.7,2930.9 1512.1,2955.4 1513.4,2962.8 C1514.8,2970.2 1516.1,2968.3 1517.5,2966.8 C1518.8,2965.3 1520.3,2955.7 1521.5,2953.7 C1522.7,2951.7 1523.4,2952.5 1524.5,2954.7 C1525.7,2956.9 1527.2,2967.8 1528.6,2966.8 C1529.9,2965.8 1531.1,2953.0 1532.6,2948.6 C1534.1,2944.3 1536.2,2940.9 1537.7,2940.5 C1539.2,2940.2 1540.2,2941.9 1541.7,2946.6 C1543.2,2951.3 1545.1,2966.8 1546.8,2968.8 C1548.5,2970.9 1550.1,2959.8 1551.8,2958.7 C1553.5,2957.7 1555.0,2958.7 1556.9,2962.8 C1558.7,2966.8 1560.9,2979.0 1562.9,2983.0 C1565.0,2987.0 1567.0,2985.2 1569.0,2987.0 C1571.0,2988.9 1573.4,2992.2 1575.1,2994.1 C1576.8,2996.1 1577.6,3001.3 1579.1,2998.8 C1580.6,2996.2 1582.3,2986.6 1584.2,2979.0 C1586.0,2971.3 1588.5,2958.1 1590.2,2952.7 C1591.9,2947.3 1592.9,2946.1 1594.3,2946.6 C1595.6,2947.1 1596.7,2950.4 1598.3,2955.7 C1599.9,2961.0 1602.2,2972.2 1603.8,2978.3 C1605.5,2984.4 1606.9,2985.9 1608.4,2992.0 C1610.0,2998.2 1611.5,3008.5 1613.0,3015.0 C1614.5,3021.5 1616.1,3027.8 1617.6,3031.0 C1619.1,3034.2 1620.6,3035.2 1622.2,3034.4 C1623.7,3033.7 1625.2,3028.7 1626.8,3026.4 C1628.3,3024.1 1629.6,3023.4 1631.3,3020.7 C1633.1,3018.0 1635.0,3011.5 1637.1,3010.4 C1639.2,3009.2 1641.8,3013.1 1643.9,3013.8 C1646.0,3014.6 1647.8,3013.2 1649.7,3015.0 C1651.6,3016.7 1653.5,3022.2 1655.4,3024.1 C1657.3,3026.0 1659.4,3025.1 1661.1,3026.4 C1662.8,3027.8 1664.0,3031.6 1665.7,3032.1 C1667.4,3032.7 1669.5,3029.9 1671.4,3029.9 C1673.3,3029.9 1675.2,3032.3 1677.2,3032.1 C1679.1,3032.0 1681.2,3028.5 1682.9,3028.7 C1684.6,3028.9 1685.9,3031.4 1687.5,3033.3 C1689.0,3035.2 1690.1,3036.3 1692.0,3040.2 C1694.0,3044.0 1697.8,3053.5 1698.9,3056.2" stroke="#fb7f0c" stroke-width="5.4"/>
<path d="M404.0,2625.1 C405.4,2624.8 409.1,2624.6 412.6,2623.4 C416.2,2622.2 420.6,2618.9 425.3,2617.9 C429.9,2616.9 435.8,2617.3 440.4,2617.4 C445.1,2617.5 449.3,2619.4 453.1,2618.4 C456.9,2617.4 459.4,2614.2 463.2,2611.6 C467.0,2609.0 471.8,2604.8 475.8,2602.7 C479.8,2600.6 483.4,2599.3 487.2,2598.9 C491.0,2598.5 494.6,2600.0 498.6,2600.2 C502.6,2600.4 506.6,2600.7 511.2,2600.2 C515.8,2599.7 523.0,2598.1 526.4,2597.2 C529.7,2596.2 528.9,2597.1 531.4,2594.6 C533.9,2592.2 538.4,2584.9 541.5,2582.5 C544.7,2580.1 547.0,2580.3 550.4,2580.5 C553.7,2580.7 557.3,2583.8 561.7,2583.8 C566.2,2583.7 572.3,2581.5 576.9,2580.0 C581.5,2578.4 586.0,2579.0 589.5,2574.4 C593.1,2569.8 595.4,2557.8 598.4,2552.2 C601.3,2546.6 604.5,2541.2 607.2,2540.8 C610.0,2540.4 612.3,2545.9 614.8,2549.6 C617.3,2553.4 620.3,2560.8 622.4,2563.5 C624.5,2566.3 625.3,2566.9 627.4,2566.1 C629.6,2565.2 632.3,2560.2 635.0,2558.5 C637.8,2556.8 641.3,2556.1 643.9,2556.0 C646.4,2555.8 647.5,2561.9 650.2,2557.7 C652.9,2553.5 657.3,2536.5 660.3,2530.7 C663.2,2524.9 665.4,2523.7 667.9,2523.1 C670.4,2522.5 672.9,2524.7 675.5,2526.9 C678.0,2529.1 679.9,2536.3 683.0,2536.5 C686.2,2536.7 690.6,2529.6 694.4,2528.2 C698.2,2526.8 702.2,2529.2 705.8,2528.2 C709.4,2527.1 712.5,2525.4 715.9,2521.8 C719.3,2518.3 722.8,2511.5 726.0,2506.7 C729.2,2501.8 731.9,2494.9 734.8,2492.8 C737.8,2490.7 741.0,2495.9 743.7,2494.0 C746.4,2492.2 748.7,2484.0 751.3,2481.4 C753.8,2478.8 756.3,2478.0 758.9,2478.4 C761.4,2478.8 764.3,2480.5 766.4,2483.9 C768.5,2487.4 769.2,2501.3 771.5,2499.1 C773.8,2496.9 776.7,2480.1 780.1,2470.5 C783.4,2461.0 787.0,2440.0 791.4,2441.7 C795.8,2443.4 803.0,2475.6 806.6,2480.7 C810.2,2485.7 810.6,2473.7 812.9,2471.8 C815.2,2469.9 818.0,2470.5 820.5,2469.3 C823.0,2468.0 825.6,2470.1 828.1,2464.2 C830.5,2458.3 832.7,2447.2 835.0,2434.0 C837.3,2420.8 839.8,2396.2 842.0,2384.8 C844.2,2373.5 846.0,2368.0 848.3,2365.9 C850.6,2363.7 853.6,2369.0 855.9,2372.2 C858.2,2375.3 860.1,2380.6 862.2,2384.8 C864.3,2389.0 866.2,2392.8 868.5,2397.4 C870.8,2402.1 874.0,2405.5 876.1,2412.6 C878.2,2419.8 879.0,2429.8 881.1,2440.3 C883.2,2450.8 886.2,2467.2 888.7,2475.6 C891.2,2484.0 894.2,2490.3 896.3,2490.8 C898.4,2491.2 899.7,2481.7 901.4,2478.1 C903.0,2474.5 904.7,2471.0 906.4,2469.3 C908.1,2467.6 910.0,2470.8 911.5,2468.0 C912.9,2465.3 913.8,2457.0 915.3,2452.9 C916.7,2448.7 917.2,2441.7 920.3,2442.9 C923.5,2444.2 931.1,2453.3 934.2,2460.4 C937.4,2467.6 937.4,2477.7 939.3,2485.7 C941.2,2493.7 943.9,2504.4 945.6,2508.5 C947.3,2512.5 947.7,2511.4 949.4,2509.7 C951.1,2508.0 953.6,2505.7 955.7,2498.3 C957.8,2491.0 959.9,2473.5 962.0,2465.5 C964.1,2457.5 966.2,2451.2 968.3,2450.3 C970.4,2449.5 972.5,2455.4 974.6,2460.4 C976.8,2465.5 978.6,2475.4 981.0,2480.7 C983.3,2485.9 986.2,2492.4 988.5,2492.0 C990.9,2491.6 992.8,2482.5 994.9,2478.1 C997.0,2473.7 999.1,2468.0 1001.2,2465.5 C1003.3,2463.0 1005.4,2464.2 1007.5,2463.0 C1009.6,2461.7 1011.8,2461.5 1013.8,2457.9 C1015.8,2454.3 1017.6,2450.0 1019.5,2441.6 C1021.4,2433.2 1023.0,2415.7 1025.2,2407.6 C1027.4,2399.4 1030.2,2392.9 1032.8,2392.9 C1035.3,2392.9 1038.0,2403.0 1040.4,2407.6 C1042.7,2412.1 1044.8,2417.7 1046.7,2420.2 C1048.6,2422.7 1049.8,2424.8 1051.7,2422.7 C1053.6,2420.6 1055.7,2414.7 1058.0,2407.6 C1060.4,2400.4 1063.3,2386.5 1065.6,2379.8 C1067.9,2373.0 1069.8,2369.6 1071.9,2367.1 C1074.0,2364.6 1076.2,2368.0 1078.3,2364.6 C1080.4,2361.2 1082.5,2354.5 1084.6,2346.9 C1086.7,2339.3 1089.0,2329.1 1090.9,2319.1 C1092.8,2309.1 1094.6,2294.7 1095.8,2287.0 C1097.0,2279.3 1097.2,2275.7 1098.1,2273.1 C1099.0,2270.4 1099.9,2269.4 1101.1,2271.1 C1102.3,2272.8 1103.8,2277.8 1105.2,2283.2 C1106.5,2288.6 1107.9,2297.0 1109.2,2303.4 C1110.6,2309.8 1112.1,2318.6 1113.2,2321.6 C1114.4,2324.6 1115.1,2322.3 1116.3,2321.6 C1117.5,2320.9 1119.1,2317.6 1120.3,2317.6 C1121.5,2317.6 1122.2,2317.6 1123.4,2321.6 C1124.5,2325.6 1126.0,2335.1 1127.4,2341.8 C1128.7,2348.6 1130.1,2353.6 1131.4,2362.0 C1132.8,2370.5 1134.1,2382.2 1135.5,2392.4 C1136.8,2402.5 1138.3,2412.6 1139.5,2422.7 C1140.7,2432.8 1141.7,2443.6 1142.6,2453.0 C1143.4,2462.4 1143.7,2471.0 1144.9,2478.9 C1146.1,2486.9 1148.0,2491.8 1149.6,2500.9 C1151.3,2509.9 1153.0,2521.7 1154.7,2533.2 C1156.4,2544.7 1158.1,2560.8 1159.7,2569.6 C1161.4,2578.3 1163.3,2580.7 1164.8,2585.8 C1166.3,2590.8 1167.3,2596.5 1168.8,2599.9 C1170.4,2603.3 1172.0,2602.6 1173.9,2606.0 C1175.7,2609.3 1178.1,2615.4 1180.0,2620.1 C1181.8,2624.8 1183.5,2630.6 1185.0,2634.3 C1186.5,2638.0 1187.7,2642.0 1189.0,2642.4 C1190.4,2642.7 1191.6,2638.0 1193.1,2636.3 C1194.6,2634.6 1196.5,2631.9 1198.1,2632.2 C1199.8,2632.6 1201.3,2634.9 1203.2,2638.3 C1205.1,2641.7 1207.4,2647.7 1209.3,2652.5 C1211.1,2657.2 1212.5,2662.7 1214.3,2666.6 C1216.2,2670.5 1218.2,2675.7 1220.4,2675.7 C1222.6,2675.7 1224.9,2668.0 1227.5,2666.6 C1230.0,2665.3 1233.2,2666.3 1235.5,2667.6 C1237.9,2669.0 1239.4,2671.5 1241.6,2674.7 C1243.8,2677.9 1246.3,2685.1 1248.7,2686.8 C1251.0,2688.5 1253.6,2684.1 1255.8,2684.8 C1257.9,2685.5 1260.0,2689.2 1261.8,2690.9 C1263.7,2692.6 1265.0,2695.6 1266.9,2694.9 C1268.7,2694.2 1270.9,2689.2 1272.9,2686.8 C1275.0,2684.5 1277.2,2681.4 1279.0,2680.8 C1280.9,2680.1 1282.4,2685.8 1284.1,2682.8 C1285.7,2679.8 1287.6,2667.1 1289.1,2662.6 C1290.6,2658.0 1291.6,2655.8 1293.2,2655.5 C1294.7,2655.2 1296.4,2661.1 1298.2,2660.5 C1300.1,2660.0 1302.4,2652.1 1304.3,2652.5 C1306.1,2652.8 1307.8,2658.2 1309.3,2662.6 C1310.8,2667.0 1311.7,2675.0 1313.4,2678.7 C1315.1,2682.4 1317.6,2681.4 1319.4,2684.8 C1321.3,2688.2 1322.8,2696.6 1324.5,2699.0 C1326.2,2701.3 1327.9,2701.0 1329.5,2699.0 C1331.2,2696.9 1332.9,2690.2 1334.6,2686.8 C1336.3,2683.5 1338.0,2683.1 1339.6,2678.7 C1341.3,2674.4 1343.0,2664.9 1344.7,2660.5 C1346.4,2656.2 1348.1,2652.1 1349.8,2652.5 C1351.4,2652.8 1353.0,2660.2 1354.8,2662.6 C1356.7,2664.9 1359.2,2663.9 1360.9,2666.6 C1362.6,2669.3 1363.6,2674.0 1364.9,2678.7 C1366.3,2683.5 1367.8,2690.5 1369.0,2694.9 C1370.1,2699.3 1370.8,2705.0 1372.0,2705.0 C1373.2,2705.0 1374.3,2697.3 1376.0,2694.9 C1377.7,2692.6 1380.6,2691.2 1382.1,2690.9 C1383.6,2690.5 1383.9,2692.7 1385.1,2692.7 C1386.2,2692.6 1387.6,2693.7 1389.1,2690.7 C1390.6,2687.6 1392.3,2678.9 1394.1,2674.5 C1396.0,2670.1 1398.4,2666.2 1400.2,2664.4 C1402.1,2662.5 1403.8,2664.0 1405.3,2663.4 C1406.8,2662.7 1407.8,2659.5 1409.3,2660.3 C1410.8,2661.2 1412.7,2664.0 1414.4,2668.4 C1416.0,2672.8 1417.7,2681.2 1419.4,2686.6 C1421.1,2692.0 1422.8,2696.0 1424.5,2700.8 C1426.2,2705.5 1427.7,2712.6 1429.5,2714.9 C1431.4,2717.3 1433.9,2718.6 1435.6,2714.9 C1437.3,2711.2 1438.3,2700.8 1439.6,2692.7 C1441.0,2684.6 1442.3,2674.1 1443.7,2666.4 C1445.0,2658.7 1446.4,2650.7 1447.7,2646.2 C1449.1,2641.6 1450.4,2638.4 1451.8,2639.1 C1453.1,2639.8 1454.5,2643.7 1455.8,2650.2 C1457.2,2656.8 1458.5,2669.8 1459.8,2678.5 C1461.2,2687.3 1462.4,2696.0 1463.9,2702.8 C1465.4,2709.5 1467.4,2719.3 1468.9,2719.0 C1470.5,2718.6 1471.5,2704.5 1473.0,2700.8 C1474.5,2697.1 1476.4,2697.1 1478.0,2696.7 C1479.7,2696.4 1481.2,2700.1 1483.1,2698.7 C1484.9,2697.4 1487.1,2689.8 1489.2,2688.6 C1491.2,2687.5 1493.2,2691.2 1495.2,2691.7 C1497.2,2692.2 1499.4,2691.8 1501.3,2691.7 C1503.1,2691.5 1504.8,2688.5 1506.3,2690.7 C1507.9,2692.8 1509.0,2699.1 1510.4,2704.8 C1511.7,2710.5 1512.9,2723.2 1514.4,2725.0 C1515.9,2726.9 1517.8,2717.4 1519.5,2715.9 C1521.2,2714.4 1523.0,2714.7 1524.5,2715.9 C1526.0,2717.1 1527.1,2723.8 1528.6,2723.0 C1530.1,2722.2 1531.9,2713.2 1533.6,2710.9 C1535.3,2708.5 1537.2,2707.8 1538.7,2708.8 C1540.2,2709.9 1541.4,2714.2 1542.7,2716.9 C1544.1,2719.6 1545.3,2724.7 1546.8,2725.0 C1548.3,2725.4 1550.0,2719.3 1551.8,2719.0 C1553.7,2718.6 1556.0,2721.0 1557.9,2723.0 C1559.7,2725.0 1560.1,2727.8 1562.9,2731.1 C1565.8,2734.3 1572.2,2740.9 1575.1,2742.4 C1577.9,2744.0 1577.8,2744.3 1580.1,2740.4 C1582.5,2736.5 1586.9,2723.9 1589.2,2719.0 C1591.6,2714.0 1592.6,2711.2 1594.3,2710.9 C1596.0,2710.5 1597.6,2713.6 1599.3,2716.9 C1601.0,2720.3 1602.5,2726.2 1604.4,2731.1 C1606.2,2736.0 1608.6,2741.9 1610.4,2746.5 C1612.3,2751.1 1613.8,2755.6 1615.5,2758.6 C1617.2,2761.7 1618.9,2764.5 1620.5,2764.7 C1622.2,2764.9 1623.9,2761.0 1625.6,2759.6 C1627.3,2758.3 1629.0,2758.1 1630.7,2756.6 C1632.3,2755.1 1634.2,2751.5 1635.7,2750.5 C1637.3,2749.6 1637.8,2750.8 1640.0,2751.0 C1642.2,2751.2 1645.8,2751.1 1648.8,2751.9 C1651.7,2752.6 1654.6,2753.9 1657.5,2755.4 C1660.4,2756.8 1663.4,2759.6 1666.3,2760.6 C1669.2,2761.6 1672.4,2761.8 1675.0,2761.5 C1677.7,2761.2 1680.0,2759.0 1682.0,2758.9 C1684.1,2758.7 1685.3,2758.7 1687.3,2760.6 C1689.3,2762.5 1692.1,2767.5 1694.3,2770.3 C1696.5,2773.0 1698.4,2777.0 1700.4,2777.3 C1702.5,2777.6 1704.4,2773.3 1706.6,2772.0 C1708.8,2770.7 1711.0,2770.3 1713.6,2769.4 C1716.2,2768.4 1719.7,2766.5 1722.3,2766.2 C1725.0,2765.9 1727.2,2767.2 1729.4,2767.6 C1731.5,2768.1 1733.1,2767.9 1735.5,2769.0 C1737.8,2770.2 1740.6,2773.4 1743.4,2774.6 C1746.1,2775.9 1749.1,2776.5 1752.1,2776.4 C1755.2,2776.2 1758.8,2773.5 1761.8,2773.8 C1764.7,2774.1 1766.9,2776.5 1769.6,2778.1 C1772.4,2779.7 1775.5,2781.6 1778.4,2783.4 C1781.3,2785.1 1784.0,2788.0 1787.2,2788.7 C1790.4,2789.3 1794.0,2787.8 1797.7,2787.3 C1801.3,2786.7 1805.9,2784.8 1809.1,2785.1 C1812.3,2785.5 1814.2,2788.1 1817.0,2789.5 C1819.7,2791.0 1822.8,2792.8 1825.7,2793.9 C1828.6,2795.0 1831.0,2795.5 1834.5,2796.0 C1838.0,2796.5 1843.2,2797.1 1846.7,2797.1 C1850.2,2797.0 1852.6,2795.9 1855.5,2795.7 C1858.4,2795.4 1861.6,2795.1 1864.3,2795.7 C1866.9,2796.2 1869.1,2797.9 1871.3,2798.8 C1873.5,2799.7 1875.1,2800.4 1877.4,2800.9 C1879.7,2801.4 1884.0,2801.6 1885.3,2801.8" stroke="#0a7dfb" stroke-width="5.4"/>
</g>
<line x1="845.4" y1="2208.2" x2="853.8" y2="2840.2" stroke="#000" stroke-width="3.3" stroke-linecap="round" stroke-dasharray="9.40 11.35"/>
<text x="856.1" y="2185.8" font-size="67" text-anchor="middle" >3655</text>
<line x1="1107.0" y1="2134.5" x2="1107.0" y2="2829.4" stroke="#000" stroke-width="4.2" stroke-linecap="round" stroke-dasharray="8.50 12.30"/>
<text x="1122.0" y="2117.6" font-size="67" text-anchor="middle" >3737</text>
<g stroke="#000" stroke-width="7" stroke-linecap="round" fill="none">
<line x1="408.6" y1="1749.6" x2="408.6" y2="3041.6" stroke-linecap="butt"/>
<line x1="408.6" y1="1749.6" x2="1884.9" y2="1749.6" stroke-linecap="butt"/>
<line x1="408.6" y1="3041.6" x2="1884.9" y2="3041.6" stroke-linecap="butt"/>
<line x1="1881.4" y1="1749.6" x2="1881.4" y2="3041.6" stroke-linecap="butt"/>
<line x1="408.6" y1="1749.6" x2="381.1" y2="1749.6"/>
<line x1="408.6" y1="1934.2" x2="381.1" y2="1934.2"/>
<line x1="408.6" y1="2118.7" x2="381.1" y2="2118.7"/>
<line x1="408.6" y1="2303.3" x2="381.1" y2="2303.3"/>
<line x1="408.6" y1="2487.9" x2="381.1" y2="2487.9"/>
<line x1="408.6" y1="2672.5" x2="381.1" y2="2672.5"/>
<line x1="408.6" y1="2857.0" x2="381.1" y2="2857.0"/>
<line x1="408.6" y1="3041.6" x2="381.1" y2="3041.6"/>
<line x1="408.6" y1="1841.9" x2="395.1" y2="1841.9"/>
<line x1="408.6" y1="2026.5" x2="395.1" y2="2026.5"/>
<line x1="408.6" y1="2211.0" x2="395.1" y2="2211.0"/>
<line x1="408.6" y1="2395.6" x2="395.1" y2="2395.6"/>
<line x1="408.6" y1="2580.2" x2="395.1" y2="2580.2"/>
<line x1="408.6" y1="2764.7" x2="395.1" y2="2764.7"/>
<line x1="408.6" y1="2949.3" x2="395.1" y2="2949.3"/>
<line x1="408.6" y1="3041.6" x2="408.6" y2="3067.9"/>
<line x1="703.2" y1="3041.6" x2="703.2" y2="3067.9"/>
<line x1="997.7" y1="3041.6" x2="997.7" y2="3067.9"/>
<line x1="1292.3" y1="3041.6" x2="1292.3" y2="3067.9"/>
<line x1="1586.8" y1="3041.6" x2="1586.8" y2="3067.9"/>
<line x1="1881.4" y1="3041.6" x2="1881.4" y2="3067.9"/>
<line x1="555.9" y1="3041.6" x2="555.9" y2="3054.4"/>
<line x1="850.4" y1="3041.6" x2="850.4" y2="3054.4"/>
<line x1="1145.0" y1="3041.6" x2="1145.0" y2="3054.4"/>
<line x1="1439.6" y1="3041.6" x2="1439.6" y2="3054.4"/>
<line x1="1734.1" y1="3041.6" x2="1734.1" y2="3054.4"/>
</g>
<text x="362.1" y="1768.3" font-size="66.3" text-anchor="end" >0.04</text>
<text x="362.1" y="1952.9" font-size="66.3" text-anchor="end" >0.03</text>
<text x="362.1" y="2137.4" font-size="66.3" text-anchor="end" >0.02</text>
<text x="362.1" y="2322.0" font-size="66.3" text-anchor="end" >0.01</text>
<text x="362.1" y="2506.6" font-size="66.3" text-anchor="end" >0.00</text>
<text x="362.1" y="2691.2" font-size="66.3" text-anchor="end" >-0.01</text>
<text x="362.1" y="2875.7" font-size="66.3" text-anchor="end" >-0.02</text>
<text x="362.1" y="3060.3" font-size="66.3" text-anchor="end" >-0.03</text>
<text x="408.6" y="3139.6" font-size="67" text-anchor="middle" >3500</text>
<text x="703.2" y="3139.6" font-size="67" text-anchor="middle" >3600</text>
<text x="997.7" y="3139.6" font-size="67" text-anchor="middle" >3700</text>
<text x="1292.3" y="3139.6" font-size="67" text-anchor="middle" >3800</text>
<text x="1586.8" y="3139.6" font-size="67" text-anchor="middle" >3900</text>
<text x="1881.4" y="3139.6" font-size="67" text-anchor="middle" >4000</text>
<text transform="translate(39.4,1770.8) scale(0.866,1)" font-size="106" font-weight="bold" style="stroke-width:0">(</text>
<text transform="translate(74.7,1774.3) scale(0.954,1)" font-size="108" font-weight="bold" style="stroke-width:0">b</text>
<text transform="translate(142.6,1770.8) scale(0.866,1)" font-size="106" font-weight="bold" style="stroke-width:0">)</text>
<text transform="translate(157.3,2448.4) rotate(-90)" font-size="80" text-anchor="middle">-log (R)</text>
<text x="800.4" y="3257.5" font-size="80.5" text-anchor="start">Wavenumber [cm<tspan font-size="47" dy="-42">-1</tspan><tspan dy="42">]</tspan></text>
<line x1="418.5" y1="1799.9" x2="570.5" y2="1799.9" stroke="#000" stroke-width="3.4" stroke-dasharray="13.8 4 3.8 4"/>
<line x1="418.5" y1="1904.6" x2="573.5" y2="1904.6" stroke="#ee5566" stroke-width="5"/>
<line x1="418.5" y1="2009.4" x2="573.5" y2="2009.4" stroke="#aa5fa2" stroke-width="5"/>
<line x1="418.5" y1="2114.2" x2="573.5" y2="2114.2" stroke="#c9b94c" stroke-width="5"/>
<line x1="1322.2" y1="1799.3" x2="1476.7" y2="1799.3" stroke="#629a72" stroke-width="5"/>
<line x1="1322.2" y1="1904" x2="1476.7" y2="1904" stroke="#5c64b6" stroke-width="5"/>
<line x1="1322.2" y1="2009.2" x2="1476.7" y2="2009.2" stroke="#fb7f0c" stroke-width="5"/>
<line x1="1322.2" y1="2114.3" x2="1476.7" y2="2114.3" stroke="#0a7dfb" stroke-width="5"/>
<text x="589.7" y="1821.8" font-size="68" text-anchor="start" >N<tspan font-size="38" dy="26">2</tspan></text>
<text x="589.7" y="1926.5" font-size="68" text-anchor="start" >O<tspan font-size="38" dy="26">2</tspan></text>
<text x="589.7" y="2031.3" font-size="68" text-anchor="start" >NH<tspan font-size="38" dy="26">3</tspan><tspan dy="-26">+NO</tspan></text>
<text x="589.7" y="2136.0" font-size="68" text-anchor="start" >O<tspan font-size="38" dy="26">2</tspan></text>
<text x="1492.3" y="1822.0" font-size="68" text-anchor="start" >NH<tspan font-size="38" dy="26">3</tspan></text>
<text x="1492.3" y="1926.7" font-size="68" text-anchor="start" >NO</text>
<text x="1492.3" y="2031.8" font-size="68" text-anchor="start" >NO+O<tspan font-size="38" dy="26">2</tspan></text>
<text x="1492.3" y="2137.0" font-size="68" text-anchor="start" >NH<tspan font-size="38" dy="26">3</tspan><tspan dy="-26">+NO+O</tspan><tspan font-size="38" dy="26">2</tspan></text>
</svg>
</body></html>
